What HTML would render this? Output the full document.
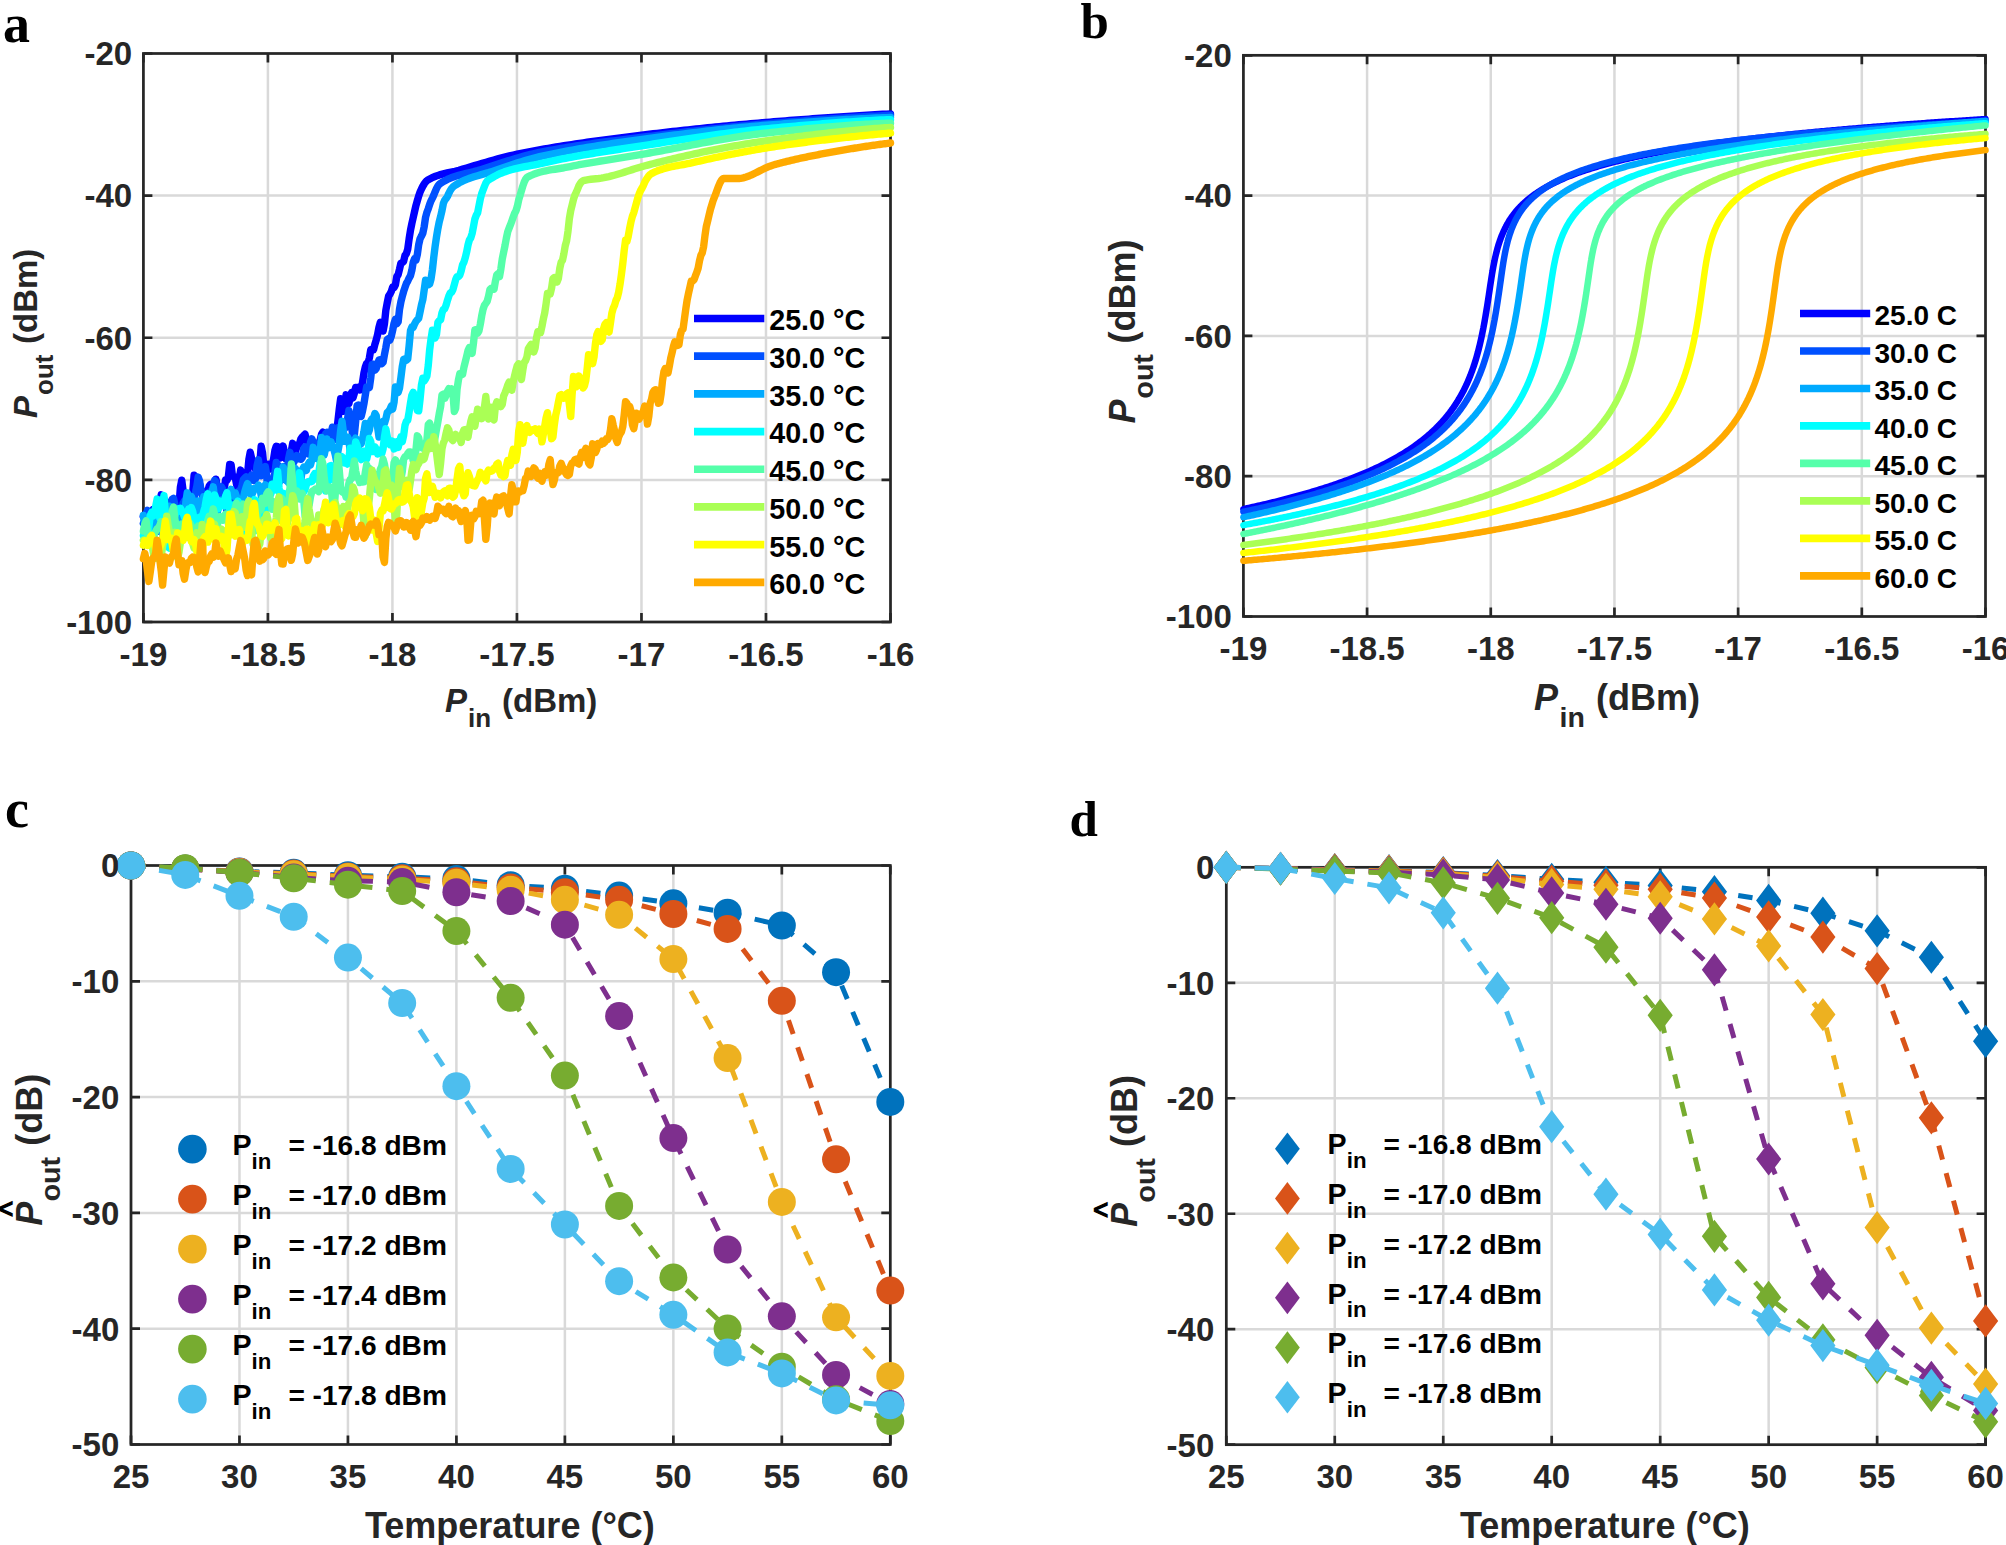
<!DOCTYPE html>
<html><head><meta charset="utf-8"><style>
html,body{margin:0;padding:0;background:#fff;}
svg{display:block;}
text{font-family:'Liberation Sans', Arial, Helvetica, sans-serif;font-weight:bold;}
.t{fill:#262626;}
.k{fill:#000;}
.s{font-family:'Liberation Serif', 'Times New Roman', serif;font-weight:bold;fill:#000;}
</style></head><body>
<svg width="2006" height="1545" viewBox="0 0 2006 1545">
<rect width="2006" height="1545" fill="#fff"/>
<path d="M1243.4 55.3V616.5M1367.08 55.3V616.5M1490.77 55.3V616.5M1614.45 55.3V616.5M1738.13 55.3V616.5M1861.82 55.3V616.5M1985.5 55.3V616.5M1243.4 55.3H1985.5M1243.4 195.6H1985.5M1243.4 335.9H1985.5M1243.4 476.2H1985.5M1243.4 616.5H1985.5" stroke="#d9d9d9" stroke-width="2.5" fill="none"/>
<path d="M1243.4 616.5v-9M1243.4 55.3v9M1367.08 616.5v-9M1367.08 55.3v9M1490.77 616.5v-9M1490.77 55.3v9M1614.45 616.5v-9M1614.45 55.3v9M1738.13 616.5v-9M1738.13 55.3v9M1861.82 616.5v-9M1861.82 55.3v9M1985.5 616.5v-9M1985.5 55.3v9M1243.4 55.3h9M1985.5 55.3h-9M1243.4 195.6h9M1985.5 195.6h-9M1243.4 335.9h9M1985.5 335.9h-9M1243.4 476.2h9M1985.5 476.2h-9M1243.4 616.5h9M1985.5 616.5h-9" stroke="#262626" stroke-width="2.7" fill="none"/>
<rect x="1243.4" y="55.3" width="742.1" height="561.2" stroke="#262626" stroke-width="2.7" fill="none"/>
<path d="M1243.4 509.06 1245.26 508.66 1247.12 508.26 1248.98 507.85 1250.84 507.44 1252.7 507.03 1254.56 506.62 1256.42 506.2 1258.28 505.77 1260.14 505.35 1262 504.92 1263.86 504.48 1265.72 504.05 1267.58 503.61 1269.44 503.16 1271.3 502.71 1273.16 502.26 1275.02 501.8 1276.88 501.34 1278.74 500.88 1280.6 500.41 1282.46 499.94 1284.32 499.46 1286.18 498.98 1288.04 498.49 1289.9 498 1291.76 497.51 1293.62 497.01 1295.48 496.5 1297.34 495.99 1299.2 495.48 1301.06 494.96 1302.92 494.43 1304.78 493.9 1306.64 493.37 1308.5 492.83 1310.36 492.28 1312.22 491.73 1314.08 491.17 1315.94 490.6 1317.8 490.03 1319.66 489.45 1321.52 488.87 1323.38 488.28 1325.24 487.68 1327.1 487.08 1328.96 486.47 1330.82 485.85 1332.68 485.23 1334.54 484.59 1336.39 483.95 1338.25 483.31 1340.11 482.65 1341.97 481.99 1343.83 481.31 1345.69 480.63 1347.55 479.94 1349.41 479.24 1351.27 478.53 1353.13 477.81 1354.99 477.08 1356.85 476.34 1358.71 475.59 1360.57 474.83 1362.43 474.06 1364.29 473.28 1366.15 472.48 1368.01 471.68 1369.87 470.86 1371.73 470.03 1373.59 469.18 1375.45 468.32 1377.31 467.45 1379.17 466.56 1381.03 465.66 1382.89 464.74 1384.75 463.81 1386.61 462.85 1388.47 461.89 1390.33 460.9 1392.19 459.89 1394.05 458.87 1395.91 457.82 1397.77 456.76 1399.63 455.67 1401.49 454.56 1403.35 453.43 1405.21 452.27 1407.07 451.09 1408.93 449.87 1410.79 448.64 1412.65 447.37 1414.51 446.07 1416.37 444.74 1418.23 443.37 1420.09 441.97 1421.95 440.53 1423.81 439.05 1425.67 437.53 1427.53 435.97 1427.99 435.58 1428.61 435.04 1429.23 434.5 1429.39 434.36 1429.85 433.95 1430.48 433.4 1431.1 432.84 1431.25 432.7 1431.72 432.27 1432.34 431.7 1432.96 431.12 1433.11 430.98 1433.58 430.54 1434.2 429.95 1434.83 429.35 1434.97 429.21 1435.45 428.75 1436.07 428.14 1436.69 427.52 1436.83 427.38 1437.31 426.9 1437.93 426.27 1438.56 425.63 1438.69 425.49 1439.18 424.98 1439.8 424.33 1440.42 423.67 1440.55 423.53 1441.04 423 1441.66 422.32 1442.28 421.63 1442.41 421.49 1442.91 420.93 1443.53 420.23 1444.15 419.52 1444.27 419.38 1444.77 418.79 1445.39 418.06 1446.01 417.31 1446.13 417.17 1446.63 416.56 1447.26 415.79 1447.88 415.02 1447.99 414.88 1448.5 414.23 1449.12 413.43 1449.74 412.62 1449.85 412.48 1450.36 411.8 1450.99 410.97 1451.61 410.12 1451.71 409.98 1452.23 409.26 1452.85 408.38 1453.47 407.49 1453.57 407.35 1454.09 406.59 1454.71 405.67 1455.34 404.73 1455.43 404.59 1455.96 403.78 1456.58 402.82 1457.2 401.83 1457.29 401.69 1457.82 400.83 1458.44 399.81 1459.07 398.77 1459.15 398.63 1459.69 397.71 1460.31 396.63 1460.93 395.52 1461.01 395.38 1461.55 394.4 1462.17 393.25 1462.79 392.08 1462.87 391.94 1463.42 390.88 1464.04 389.66 1464.66 388.41 1464.73 388.27 1465.28 387.13 1465.9 385.82 1466.52 384.48 1466.59 384.34 1467.15 383.11 1467.77 381.7 1468.39 380.26 1468.45 380.12 1469.01 378.78 1469.63 377.27 1470.25 375.71 1470.31 375.57 1470.87 374.11 1471.5 372.46 1472.12 370.77 1472.17 370.63 1472.74 369.02 1473.36 367.23 1473.98 365.37 1474.03 365.24 1474.6 363.46 1475.22 361.49 1475.85 359.45 1475.89 359.31 1476.47 357.34 1477.09 355.16 1477.71 352.9 1477.75 352.77 1478.33 350.56 1478.95 348.13 1479.58 345.61 1479.61 345.48 1480.2 343 1480.82 340.28 1481.44 337.46 1481.47 337.33 1482.06 334.52 1482.68 331.47 1483.3 328.3 1483.33 328.19 1483.93 325.01 1484.55 321.6 1485.17 318.06 1485.19 317.96 1485.79 314.4 1486.41 310.63 1487.03 306.75 1487.05 306.66 1487.66 302.77 1488.28 298.72 1488.9 294.61 1488.91 294.55 1489.52 290.46 1490.14 286.3 1490.76 282.18 1490.77 282.16 1491.38 278.15 1492.01 274.28 1492.63 270.59 1492.63 270.58 1493.25 267.09 1493.87 263.81 1494.49 260.75 1494.49 260.73 1495.11 257.84 1495.74 255.13 1496.35 252.63 1496.36 252.59 1496.98 250.2 1497.6 247.95 1498.21 245.87 1498.22 245.82 1498.84 243.81 1499.46 241.91 1500.07 240.16 1500.09 240.1 1500.71 238.39 1501.33 236.75 1501.93 235.24 1501.95 235.18 1502.57 233.68 1503.19 232.25 1503.79 230.94 1503.82 230.87 1504.44 229.55 1505.06 228.28 1505.65 227.12 1505.68 227.05 1506.3 225.87 1506.92 224.73 1507.51 223.69 1507.54 223.63 1508.17 222.56 1508.79 221.52 1509.37 220.59 1509.41 220.52 1510.03 219.54 1510.65 218.6 1511.23 217.75 1511.27 217.68 1511.89 216.78 1512.52 215.91 1513.09 215.14 1513.14 215.07 1513.76 214.24 1514.38 213.43 1514.95 212.72 1515 212.65 1515.62 211.88 1516.25 211.13 1516.81 210.47 1516.87 210.4 1517.49 209.68 1518.11 208.98 1518.67 208.37 1518.73 208.29 1519.35 207.62 1519.97 206.96 1520.53 206.39 1520.6 206.32 1521.22 205.68 1521.84 205.06 1522.38 204.53 1522.46 204.45 1523.08 203.86 1523.7 203.27 1524.24 202.77 1524.33 202.69 1524.95 202.13 1525.57 201.57 1526.1 201.1 1526.19 201.03 1526.81 200.49 1527.43 199.96 1527.96 199.51 1528.05 199.44 1528.68 198.93 1529.3 198.42 1529.82 198 1529.92 197.93 1530.54 197.44 1531.16 196.96 1531.68 196.56 1531.78 196.48 1532.41 196.02 1533.03 195.56 1533.54 195.18 1533.65 195.1 1534.27 194.66 1534.89 194.21 1535.4 193.85 1535.51 193.78 1536.13 193.35 1536.76 192.93 1537.26 192.58 1537.38 192.51 1538 192.09 1538.62 191.69 1539.12 191.36 1539.24 191.28 1539.86 190.89 1540.48 190.5 1540.98 190.18 1541.11 190.11 1541.73 189.72 1542.35 189.35 1542.84 189.05 1542.97 188.97 1543.59 188.6 1544.21 188.24 1544.7 187.95 1544.84 187.88 1545.46 187.52 1546.08 187.17 1546.56 186.89 1546.7 186.82 1547.32 186.47 1547.94 186.13 1548.42 185.87 1548.56 185.79 1549.19 185.46 1549.81 185.13 1550.28 184.87 1550.43 184.8 1551.05 184.47 1551.67 184.15 1552.14 183.91 1554 182.98 1555.86 182.07 1557.72 181.19 1559.58 180.33 1561.44 179.49 1563.3 178.68 1565.16 177.88 1567.02 177.11 1568.88 176.35 1570.74 175.61 1572.6 174.89 1574.46 174.19 1576.32 173.5 1578.18 172.82 1580.04 172.16 1581.9 171.51 1583.76 170.88 1585.62 170.26 1587.48 169.65 1589.34 169.05 1591.2 168.46 1593.06 167.89 1594.92 167.32 1596.78 166.77 1598.64 166.22 1600.5 165.69 1602.36 165.16 1604.22 164.64 1606.08 164.13 1607.94 163.63 1609.8 163.13 1611.66 162.65 1613.52 162.17 1615.38 161.7 1617.24 161.23 1619.1 160.78 1620.96 160.32 1622.82 159.88 1624.68 159.44 1626.54 159.01 1628.4 158.58 1630.26 158.16 1632.12 157.75 1633.98 157.34 1635.84 156.93 1637.7 156.54 1639.56 156.14 1641.42 155.75 1643.28 155.37 1645.14 154.99 1647 154.62 1648.86 154.25 1650.72 153.88 1652.58 153.52 1654.44 153.16 1656.3 152.81 1658.16 152.46 1660.02 152.11 1661.88 151.77 1663.74 151.43 1665.6 151.1 1667.46 150.77 1669.32 150.44 1671.18 150.12 1673.04 149.8 1674.9 149.48 1676.76 149.17 1678.62 148.86 1680.48 148.55 1682.34 148.25 1684.2 147.95 1686.06 147.65 1687.92 147.35 1689.78 147.06 1691.64 146.77 1693.5 146.49 1695.36 146.2 1697.22 145.92 1699.08 145.64 1700.94 145.36 1702.8 145.09 1704.66 144.82 1706.52 144.55 1708.37 144.28 1710.23 144.02 1712.09 143.76 1713.95 143.5 1715.81 143.24 1717.67 142.98 1719.53 142.73 1721.39 142.48 1723.25 142.23 1725.11 141.98 1726.97 141.74 1728.83 141.49 1730.69 141.25 1732.55 141.01 1734.41 140.77 1736.27 140.54 1738.13 140.31 1739.99 140.07 1741.85 139.84 1743.71 139.61 1745.57 139.39 1747.43 139.16 1749.29 138.94 1751.15 138.72 1753.01 138.5 1754.87 138.28 1756.73 138.06 1758.59 137.85 1760.45 137.63 1762.31 137.42 1764.17 137.21 1766.03 137 1767.89 136.79 1769.75 136.59 1771.61 136.38 1773.47 136.18 1775.33 135.98 1777.19 135.78 1779.05 135.58 1780.91 135.38 1782.77 135.18 1784.63 134.99 1786.49 134.79 1788.35 134.6 1790.21 134.41 1792.07 134.22 1793.93 134.03 1795.79 133.84 1797.65 133.65 1799.51 133.47 1801.37 133.28 1803.23 133.1 1805.09 132.92 1806.95 132.73 1808.81 132.55 1810.67 132.38 1812.53 132.2 1814.39 132.02 1816.25 131.84 1818.11 131.67 1819.97 131.5 1821.83 131.32 1823.69 131.15 1825.55 130.98 1827.41 130.81 1829.27 130.64 1831.13 130.47 1832.99 130.31 1834.85 130.14 1836.71 129.98 1838.57 129.81 1840.43 129.65 1842.29 129.49 1844.15 129.33 1846.01 129.17 1847.87 129.01 1849.73 128.85 1851.59 128.69 1853.45 128.53 1855.31 128.38 1857.17 128.22 1859.03 128.07 1860.89 127.91 1862.75 127.76 1864.61 127.61 1866.47 127.46 1868.33 127.31 1870.19 127.16 1872.05 127.01 1873.91 126.86 1875.77 126.71 1877.63 126.57 1879.49 126.42 1881.35 126.28 1883.21 126.13 1885.07 125.99 1886.93 125.84 1888.79 125.7 1890.65 125.56 1892.51 125.42 1894.36 125.28 1896.22 125.14 1898.08 125 1899.94 124.86 1901.8 124.72 1903.66 124.59 1905.52 124.45 1907.38 124.32 1909.24 124.18 1911.1 124.05 1912.96 123.91 1914.82 123.78 1916.68 123.65 1918.54 123.52 1920.4 123.38 1922.26 123.25 1924.12 123.12 1925.98 122.99 1927.84 122.86 1929.7 122.74 1931.56 122.61 1933.42 122.48 1935.28 122.35 1937.14 122.23 1939 122.1 1940.86 121.98 1942.72 121.85 1944.58 121.73 1946.44 121.61 1948.3 121.48 1950.16 121.36 1952.02 121.24 1953.88 121.12 1955.74 121 1957.6 120.88 1959.46 120.76 1961.32 120.64 1963.18 120.52 1965.04 120.4 1966.9 120.28 1968.76 120.17 1970.62 120.05 1972.48 119.93 1974.34 119.82 1976.2 119.7 1978.06 119.59 1979.92 119.47 1981.78 119.36 1983.64 119.25 1985.5 119.13" stroke="#0000ff" stroke-width="6.5" fill="none" stroke-linejoin="round" stroke-linecap="round"/>
<path d="M1243.4 511.79 1245.26 511.4 1247.12 511 1248.98 510.6 1250.84 510.2 1252.7 509.8 1254.56 509.39 1256.42 508.98 1258.28 508.56 1260.14 508.14 1262 507.72 1263.86 507.3 1265.72 506.87 1267.58 506.44 1269.44 506 1271.3 505.57 1273.16 505.12 1275.02 504.68 1276.88 504.23 1278.74 503.77 1280.6 503.31 1282.46 502.85 1284.32 502.39 1286.18 501.92 1288.04 501.44 1289.9 500.96 1291.76 500.48 1293.62 499.99 1295.48 499.5 1297.34 499 1299.2 498.5 1301.06 497.99 1302.92 497.48 1304.78 496.97 1306.64 496.44 1308.5 495.92 1310.36 495.39 1312.22 494.85 1314.08 494.31 1315.94 493.76 1317.8 493.2 1319.66 492.64 1321.52 492.08 1323.38 491.5 1325.24 490.93 1327.1 490.34 1328.96 489.75 1330.82 489.15 1332.68 488.55 1334.54 487.94 1336.39 487.32 1338.25 486.69 1340.11 486.06 1341.97 485.42 1343.83 484.77 1345.69 484.11 1347.55 483.45 1349.41 482.78 1351.27 482.1 1353.13 481.41 1354.99 480.71 1356.85 480 1358.71 479.28 1360.57 478.55 1362.43 477.82 1364.29 477.07 1366.15 476.31 1368.01 475.54 1369.87 474.76 1371.73 473.97 1373.59 473.17 1375.45 472.36 1377.31 471.53 1379.17 470.69 1381.03 469.84 1382.89 468.97 1384.75 468.09 1386.61 467.19 1388.47 466.28 1390.33 465.36 1392.19 464.42 1394.05 463.46 1395.91 462.49 1397.77 461.49 1399.63 460.48 1401.49 459.45 1403.35 458.4 1405.21 457.33 1407.07 456.24 1408.93 455.13 1410.79 453.99 1412.65 452.84 1414.51 451.65 1416.37 450.44 1418.23 449.2 1420.09 447.94 1421.95 446.64 1423.81 445.32 1425.67 443.96 1427.53 442.56 1429.39 441.14 1431.25 439.67 1433.11 438.16 1434.97 436.62 1436.83 435.03 1438.69 433.39 1439.2 432.93 1439.82 432.37 1440.44 431.8 1440.55 431.7 1441.06 431.23 1441.68 430.65 1442.3 430.06 1442.41 429.96 1442.93 429.47 1443.55 428.87 1444.17 428.26 1444.27 428.17 1444.79 427.65 1445.41 427.03 1446.03 426.41 1446.13 426.31 1446.66 425.78 1447.28 425.14 1447.9 424.49 1447.99 424.39 1448.52 423.83 1449.14 423.17 1449.76 422.5 1449.85 422.41 1450.38 421.82 1451.01 421.14 1451.63 420.44 1451.71 420.35 1452.25 419.74 1452.87 419.03 1453.49 418.3 1453.57 418.21 1454.11 417.57 1454.74 416.83 1455.36 416.08 1455.43 416 1455.98 415.32 1456.6 414.55 1457.22 413.77 1457.29 413.69 1457.84 412.98 1458.46 412.18 1459.09 411.36 1459.15 411.28 1459.71 410.54 1460.33 409.7 1460.95 408.85 1461.01 408.77 1461.57 407.98 1462.19 407.1 1462.82 406.21 1462.87 406.14 1463.44 405.31 1464.06 404.39 1464.68 403.45 1464.73 403.38 1465.3 402.5 1465.92 401.54 1466.54 400.56 1466.59 400.49 1467.17 399.56 1467.79 398.54 1468.41 397.5 1468.45 397.44 1469.03 396.45 1469.65 395.38 1470.27 394.28 1470.31 394.22 1470.89 393.17 1471.52 392.03 1472.14 390.87 1472.17 390.81 1472.76 389.69 1473.38 388.48 1474 387.25 1474.03 387.2 1474.62 385.99 1475.25 384.7 1475.87 383.39 1475.89 383.34 1476.49 382.04 1477.11 380.66 1477.73 379.25 1477.75 379.22 1478.35 377.81 1478.97 376.33 1479.6 374.82 1479.61 374.79 1480.22 373.26 1480.84 371.66 1481.46 370.02 1481.47 370 1482.08 368.34 1482.7 366.6 1483.33 364.82 1483.33 364.81 1483.95 362.98 1484.57 361.09 1485.19 359.15 1485.19 359.14 1485.81 357.13 1486.43 355.05 1487.05 352.93 1487.05 352.9 1487.68 350.68 1488.3 348.39 1488.91 346.05 1488.92 346.01 1489.54 343.54 1490.16 340.98 1490.77 338.4 1490.78 338.33 1491.41 335.57 1492.03 332.71 1492.63 329.84 1492.65 329.74 1493.27 326.64 1493.89 323.43 1494.49 320.23 1494.51 320.09 1495.13 316.62 1495.76 313.02 1496.35 309.48 1496.38 309.29 1497 305.44 1497.62 301.46 1498.21 297.61 1498.24 297.37 1498.86 293.18 1499.48 288.91 1500.07 284.86 1500.11 284.58 1500.73 280.2 1501.35 275.82 1501.93 271.8 1501.97 271.49 1502.59 267.28 1503.21 263.28 1503.79 259.8 1503.84 259.5 1504.46 255.98 1505.08 252.7 1505.65 249.91 1505.7 249.65 1506.32 246.83 1506.94 244.19 1507.51 241.96 1507.56 241.74 1508.19 239.44 1508.81 237.29 1509.37 235.47 1509.43 235.27 1510.05 233.37 1510.67 231.57 1511.23 230.05 1511.29 229.87 1511.92 228.25 1512.54 226.71 1513.09 225.41 1513.16 225.24 1513.78 223.84 1514.4 222.5 1514.95 221.38 1515.02 221.22 1515.64 219.99 1516.27 218.8 1516.81 217.81 1516.89 217.66 1517.51 216.56 1518.13 215.5 1518.67 214.62 1518.75 214.48 1519.37 213.49 1520 212.53 1520.53 211.73 1520.62 211.6 1521.24 210.69 1521.86 209.82 1522.38 209.1 1522.48 208.97 1523.1 208.14 1523.72 207.34 1524.24 206.68 1524.35 206.55 1524.97 205.79 1525.59 205.05 1526.1 204.44 1526.21 204.32 1526.83 203.61 1527.45 202.92 1527.96 202.37 1528.08 202.25 1528.7 201.59 1529.32 200.94 1529.82 200.42 1529.94 200.31 1530.56 199.69 1531.18 199.08 1531.68 198.6 1531.8 198.49 1532.43 197.91 1533.05 197.33 1533.54 196.89 1533.67 196.77 1534.29 196.22 1534.91 195.69 1535.4 195.27 1535.53 195.16 1536.15 194.64 1536.78 194.12 1537.26 193.73 1537.4 193.62 1538.02 193.13 1538.64 192.64 1539.12 192.27 1539.26 192.17 1539.88 191.7 1540.51 191.23 1540.98 190.88 1541.13 190.78 1541.75 190.33 1542.37 189.89 1542.84 189.56 1542.99 189.45 1543.61 189.03 1544.23 188.6 1544.7 188.29 1544.86 188.19 1545.48 187.78 1546.1 187.37 1546.56 187.08 1546.72 186.98 1547.34 186.58 1547.96 186.19 1548.42 185.91 1548.59 185.81 1549.21 185.43 1549.83 185.06 1550.28 184.79 1550.45 184.69 1551.07 184.33 1551.69 183.97 1552.14 183.71 1552.31 183.62 1552.94 183.27 1553.56 182.92 1554 182.67 1554.18 182.58 1554.8 182.24 1555.42 181.91 1555.86 181.67 1556.04 181.58 1556.67 181.25 1557.29 180.93 1557.72 180.7 1557.91 180.61 1558.53 180.29 1559.15 179.98 1559.58 179.77 1559.77 179.67 1560.39 179.37 1561.02 179.06 1561.44 178.86 1561.64 178.76 1562.26 178.47 1562.88 178.18 1563.3 177.98 1565.16 177.13 1567.02 176.3 1568.88 175.49 1570.74 174.71 1572.6 173.95 1574.46 173.21 1576.32 172.48 1578.18 171.78 1580.04 171.09 1581.9 170.42 1583.76 169.77 1585.62 169.13 1587.48 168.5 1589.34 167.89 1591.2 167.29 1593.06 166.7 1594.92 166.13 1596.78 165.56 1598.64 165.01 1600.5 164.47 1602.36 163.94 1604.22 163.42 1606.08 162.91 1607.94 162.41 1609.8 161.92 1611.66 161.43 1613.52 160.96 1615.38 160.49 1617.24 160.03 1619.1 159.58 1620.96 159.13 1622.82 158.69 1624.68 158.26 1626.54 157.84 1628.4 157.42 1630.26 157.01 1632.12 156.61 1633.98 156.21 1635.84 155.81 1637.7 155.43 1639.56 155.04 1641.42 154.67 1643.28 154.29 1645.14 153.93 1647 153.57 1648.86 153.21 1650.72 152.86 1652.58 152.51 1654.44 152.17 1656.3 151.83 1658.16 151.49 1660.02 151.16 1661.88 150.84 1663.74 150.52 1665.6 150.2 1667.46 149.88 1669.32 149.57 1671.18 149.27 1673.04 148.96 1674.9 148.66 1676.76 148.36 1678.62 148.07 1680.48 147.78 1682.34 147.49 1684.2 147.21 1686.06 146.93 1687.92 146.65 1689.78 146.38 1691.64 146.1 1693.5 145.84 1695.36 145.57 1697.22 145.31 1699.08 145.04 1700.94 144.79 1702.8 144.53 1704.66 144.28 1706.52 144.03 1708.37 143.78 1710.23 143.53 1712.09 143.29 1713.95 143.05 1715.81 142.81 1717.67 142.57 1719.53 142.34 1721.39 142.1 1723.25 141.87 1725.11 141.64 1726.97 141.42 1728.83 141.19 1730.69 140.97 1732.55 140.75 1734.41 140.53 1736.27 140.32 1738.13 140.1 1739.99 139.89 1741.85 139.68 1743.71 139.47 1745.57 139.26 1747.43 139.06 1749.29 138.85 1751.15 138.65 1753.01 138.45 1754.87 138.25 1756.73 138.05 1758.59 137.86 1760.45 137.66 1762.31 137.47 1764.17 137.28 1766.03 137.09 1767.89 136.9 1769.75 136.71 1771.61 136.52 1773.47 136.34 1775.33 136.16 1777.19 135.98 1779.05 135.8 1780.91 135.62 1782.77 135.44 1784.63 135.26 1786.49 135.09 1788.35 134.91 1790.21 134.74 1792.07 134.57 1793.93 134.4 1795.79 134.23 1797.65 134.06 1799.51 133.9 1801.37 133.73 1803.23 133.57 1805.09 133.41 1806.95 133.24 1808.81 133.08 1810.67 132.92 1812.53 132.76 1814.39 132.61 1816.25 132.45 1818.11 132.29 1819.97 132.14 1821.83 131.99 1823.69 131.83 1825.55 131.68 1827.41 131.53 1829.27 131.38 1831.13 131.23 1832.99 131.09 1834.85 130.94 1836.71 130.79 1838.57 130.65 1840.43 130.5 1842.29 130.36 1844.15 130.22 1846.01 130.08 1847.87 129.94 1849.73 129.8 1851.59 129.66 1853.45 129.52 1855.31 129.38 1857.17 129.25 1859.03 129.11 1860.89 128.98 1862.75 128.84 1864.61 128.71 1866.47 128.58 1868.33 128.45 1870.19 128.32 1872.05 128.19 1873.91 128.06 1875.77 127.93 1877.63 127.8 1879.49 127.67 1881.35 127.55 1883.21 127.42 1885.07 127.3 1886.93 127.17 1888.79 127.05 1890.65 126.92 1892.51 126.8 1894.36 126.68 1896.22 126.56 1898.08 126.44 1899.94 126.32 1901.8 126.2 1903.66 126.08 1905.52 125.96 1907.38 125.85 1909.24 125.73 1911.1 125.62 1912.96 125.5 1914.82 125.39 1916.68 125.27 1918.54 125.16 1920.4 125.05 1922.26 124.93 1924.12 124.82 1925.98 124.71 1927.84 124.6 1929.7 124.49 1931.56 124.38 1933.42 124.27 1935.28 124.16 1937.14 124.06 1939 123.95 1940.86 123.84 1942.72 123.74 1944.58 123.63 1946.44 123.52 1948.3 123.42 1950.16 123.32 1952.02 123.21 1953.88 123.11 1955.74 123.01 1957.6 122.9 1959.46 122.8 1961.32 122.7 1963.18 122.6 1965.04 122.5 1966.9 122.4 1968.76 122.3 1970.62 122.2 1972.48 122.11 1974.34 122.01 1976.2 121.91 1978.06 121.81 1979.92 121.72 1981.78 121.62 1983.64 121.53 1985.5 121.43" stroke="#0050ff" stroke-width="6.5" fill="none" stroke-linejoin="round" stroke-linecap="round"/>
<path d="M1243.4 517.24 1245.26 516.84 1247.12 516.43 1248.98 516.03 1250.84 515.62 1252.7 515.21 1254.56 514.79 1256.42 514.38 1258.28 513.96 1260.14 513.54 1262 513.11 1263.86 512.69 1265.72 512.26 1267.58 511.82 1269.44 511.39 1271.3 510.95 1273.16 510.51 1275.02 510.06 1276.88 509.61 1278.74 509.16 1280.6 508.71 1282.46 508.25 1284.32 507.79 1286.18 507.32 1288.04 506.85 1289.9 506.38 1291.76 505.9 1293.62 505.43 1295.48 504.94 1297.34 504.46 1299.2 503.96 1301.06 503.47 1302.92 502.97 1304.78 502.47 1306.64 501.96 1308.5 501.45 1310.36 500.94 1312.22 500.42 1314.08 499.89 1315.94 499.37 1317.8 498.83 1319.66 498.3 1321.52 497.75 1323.38 497.21 1325.24 496.66 1327.1 496.1 1328.96 495.54 1330.82 494.97 1332.68 494.4 1334.54 493.82 1336.39 493.24 1338.25 492.65 1340.11 492.06 1341.97 491.46 1343.83 490.85 1345.69 490.24 1347.55 489.62 1349.41 488.99 1351.27 488.36 1353.13 487.73 1354.99 487.08 1356.85 486.43 1358.71 485.77 1360.57 485.1 1362.43 484.43 1364.29 483.75 1366.15 483.06 1368.01 482.37 1369.87 481.66 1371.73 480.95 1373.59 480.23 1375.45 479.5 1377.31 478.76 1379.17 478.01 1381.03 477.25 1382.89 476.48 1384.75 475.71 1386.61 474.92 1388.47 474.12 1390.33 473.31 1392.19 472.49 1394.05 471.66 1395.91 470.82 1397.77 469.96 1399.63 469.1 1401.49 468.22 1403.35 467.32 1405.21 466.41 1407.07 465.49 1408.93 464.56 1410.79 463.61 1412.65 462.64 1414.51 461.66 1416.37 460.66 1418.23 459.64 1420.09 458.61 1421.95 457.55 1423.81 456.48 1425.67 455.39 1427.53 454.28 1429.39 453.15 1431.25 451.99 1433.11 450.81 1434.97 449.61 1436.83 448.38 1438.69 447.12 1440.55 445.84 1442.41 444.53 1444.27 443.19 1446.13 441.82 1447.99 440.41 1449.85 438.97 1451.71 437.49 1453.57 435.98 1455.43 434.42 1457.29 432.82 1459.15 431.18 1460.15 430.28 1460.77 429.71 1461.01 429.49 1461.39 429.13 1462.01 428.55 1462.64 427.97 1462.87 427.75 1463.26 427.38 1463.88 426.78 1464.5 426.17 1464.73 425.95 1465.12 425.56 1465.74 424.95 1466.36 424.32 1466.59 424.1 1466.99 423.69 1467.61 423.06 1468.23 422.41 1468.45 422.18 1468.85 421.76 1469.47 421.1 1470.09 420.43 1470.31 420.2 1470.72 419.76 1471.34 419.08 1471.96 418.39 1472.17 418.15 1472.58 417.69 1473.2 416.98 1473.82 416.27 1474.03 416.03 1474.44 415.54 1475.07 414.81 1475.69 414.06 1475.89 413.82 1476.31 413.31 1476.93 412.55 1477.55 411.78 1477.75 411.53 1478.17 410.99 1478.79 410.2 1479.42 409.39 1479.61 409.14 1480.04 408.58 1480.66 407.75 1481.28 406.91 1481.47 406.66 1481.9 406.06 1482.52 405.19 1483.15 404.32 1483.33 404.06 1483.77 403.42 1484.39 402.52 1485.01 401.6 1485.19 401.34 1485.63 400.67 1486.25 399.72 1486.87 398.75 1487.05 398.48 1487.5 397.77 1488.12 396.77 1488.74 395.76 1488.91 395.48 1489.36 394.72 1489.98 393.67 1490.6 392.6 1490.77 392.32 1491.23 391.51 1491.85 390.4 1492.47 389.26 1492.63 388.97 1493.09 388.11 1493.71 386.93 1494.33 385.73 1494.49 385.43 1494.95 384.5 1495.58 383.25 1496.2 381.97 1496.35 381.65 1496.82 380.66 1497.44 379.32 1498.06 377.95 1498.21 377.63 1498.68 376.55 1499.31 375.11 1499.93 373.64 1500.07 373.31 1500.55 372.14 1501.17 370.59 1501.79 369 1501.93 368.66 1502.41 367.38 1503.03 365.7 1503.66 363.98 1503.79 363.62 1504.28 362.21 1504.9 360.39 1505.52 358.52 1505.65 358.13 1506.14 356.58 1506.76 354.59 1507.39 352.53 1507.51 352.12 1508.01 350.4 1508.63 348.2 1509.25 345.93 1509.37 345.5 1509.87 343.57 1510.49 341.13 1511.11 338.6 1511.23 338.14 1511.74 335.98 1512.36 333.25 1512.98 330.42 1513.09 329.93 1513.6 327.48 1514.22 324.42 1514.84 321.25 1514.95 320.72 1515.46 317.95 1516.09 314.52 1516.71 310.97 1516.81 310.4 1517.33 307.28 1517.95 303.48 1518.57 299.55 1518.67 298.95 1519.19 295.51 1519.82 291.38 1520.44 287.16 1520.53 286.56 1521.06 282.88 1521.68 278.57 1522.3 274.24 1522.38 273.66 1522.92 269.97 1523.54 265.85 1524.17 261.94 1524.24 261.46 1524.79 258.28 1525.41 254.89 1526.03 251.74 1526.1 251.39 1526.65 248.84 1527.27 246.16 1527.9 243.66 1527.96 243.4 1528.52 241.35 1529.14 239.19 1529.76 237.17 1529.82 236.97 1530.38 235.27 1531 233.49 1531.62 231.8 1531.68 231.64 1532.25 230.21 1532.87 228.69 1533.49 227.25 1533.54 227.13 1534.11 225.88 1534.73 224.57 1535.35 223.32 1535.4 223.22 1535.98 222.12 1536.6 220.97 1537.22 219.86 1537.26 219.78 1537.84 218.79 1538.46 217.76 1539.08 216.77 1539.12 216.71 1539.7 215.81 1540.33 214.88 1540.95 213.99 1540.98 213.93 1541.57 213.11 1542.19 212.27 1542.81 211.45 1542.84 211.41 1543.43 210.65 1544.05 209.88 1544.68 209.12 1544.7 209.09 1545.3 208.38 1545.92 207.67 1546.54 206.97 1546.56 206.94 1547.16 206.29 1547.78 205.62 1548.41 204.97 1548.42 204.95 1549.03 204.33 1549.65 203.71 1550.27 203.1 1550.28 203.09 1550.89 202.51 1551.51 201.92 1552.13 201.35 1552.14 201.34 1552.76 200.79 1553.38 200.24 1554 199.7 1554 199.7 1554.62 199.17 1555.24 198.65 1555.86 198.14 1555.86 198.14 1556.49 197.64 1557.11 197.14 1557.72 196.66 1557.73 196.66 1558.35 196.18 1558.97 195.72 1559.58 195.26 1559.59 195.25 1560.21 194.8 1560.84 194.35 1561.44 193.93 1561.46 193.91 1562.08 193.48 1562.7 193.06 1563.3 192.65 1563.32 192.64 1563.94 192.22 1564.57 191.81 1565.16 191.43 1565.19 191.41 1565.81 191.01 1566.43 190.62 1567.02 190.25 1567.05 190.24 1567.67 189.86 1568.29 189.48 1568.88 189.13 1568.92 189.11 1569.54 188.74 1570.16 188.38 1570.74 188.04 1570.78 188.02 1571.4 187.67 1572.02 187.32 1572.6 187 1572.65 186.98 1573.27 186.64 1573.89 186.3 1574.46 185.99 1574.51 185.97 1575.13 185.64 1575.75 185.31 1576.32 185.02 1576.37 184.99 1577 184.67 1577.62 184.36 1578.18 184.08 1578.24 184.05 1578.86 183.74 1579.48 183.44 1580.04 183.16 1580.1 183.13 1580.72 182.84 1581.35 182.54 1581.9 182.28 1581.97 182.25 1582.59 181.96 1583.21 181.67 1583.76 181.42 1583.83 181.39 1585.62 180.59 1587.48 179.78 1589.34 178.99 1591.2 178.22 1593.06 177.47 1594.92 176.74 1596.78 176.03 1598.64 175.33 1600.5 174.66 1602.36 173.99 1604.22 173.34 1606.08 172.71 1607.94 172.08 1609.8 171.47 1611.66 170.88 1613.52 170.29 1615.38 169.72 1617.24 169.15 1619.1 168.6 1620.96 168.06 1622.82 167.52 1624.68 167 1626.54 166.48 1628.4 165.98 1630.26 165.48 1632.12 164.99 1633.98 164.51 1635.84 164.03 1637.7 163.56 1639.56 163.1 1641.42 162.65 1643.28 162.2 1645.14 161.76 1647 161.32 1648.86 160.9 1650.72 160.47 1652.58 160.05 1654.44 159.64 1656.3 159.24 1658.16 158.84 1660.02 158.44 1661.88 158.05 1663.74 157.66 1665.6 157.28 1667.46 156.9 1669.32 156.53 1671.18 156.16 1673.04 155.8 1674.9 155.44 1676.76 155.08 1678.62 154.73 1680.48 154.38 1682.34 154.04 1684.2 153.7 1686.06 153.36 1687.92 153.03 1689.78 152.7 1691.64 152.37 1693.5 152.05 1695.36 151.73 1697.22 151.41 1699.08 151.1 1700.94 150.78 1702.8 150.48 1704.66 150.17 1706.52 149.87 1708.37 149.57 1710.23 149.27 1712.09 148.98 1713.95 148.69 1715.81 148.4 1717.67 148.11 1719.53 147.83 1721.39 147.54 1723.25 147.27 1725.11 146.99 1726.97 146.71 1728.83 146.44 1730.69 146.17 1732.55 145.9 1734.41 145.64 1736.27 145.37 1738.13 145.11 1739.99 144.85 1741.85 144.59 1743.71 144.34 1745.57 144.08 1747.43 143.83 1749.29 143.58 1751.15 143.33 1753.01 143.09 1754.87 142.84 1756.73 142.6 1758.59 142.36 1760.45 142.12 1762.31 141.88 1764.17 141.64 1766.03 141.41 1767.89 141.17 1769.75 140.94 1771.61 140.71 1773.47 140.48 1775.33 140.26 1777.19 140.03 1779.05 139.81 1780.91 139.58 1782.77 139.36 1784.63 139.14 1786.49 138.92 1788.35 138.71 1790.21 138.49 1792.07 138.28 1793.93 138.06 1795.79 137.85 1797.65 137.64 1799.51 137.43 1801.37 137.22 1803.23 137.01 1805.09 136.81 1806.95 136.6 1808.81 136.4 1810.67 136.2 1812.53 136 1814.39 135.8 1816.25 135.6 1818.11 135.4 1819.97 135.2 1821.83 135.01 1823.69 134.81 1825.55 134.62 1827.41 134.43 1829.27 134.23 1831.13 134.04 1832.99 133.85 1834.85 133.66 1836.71 133.48 1838.57 133.29 1840.43 133.1 1842.29 132.92 1844.15 132.73 1846.01 132.55 1847.87 132.37 1849.73 132.19 1851.59 132.01 1853.45 131.83 1855.31 131.65 1857.17 131.47 1859.03 131.29 1860.89 131.12 1862.75 130.94 1864.61 130.77 1866.47 130.59 1868.33 130.42 1870.19 130.25 1872.05 130.08 1873.91 129.91 1875.77 129.74 1877.63 129.57 1879.49 129.4 1881.35 129.23 1883.21 129.06 1885.07 128.9 1886.93 128.73 1888.79 128.57 1890.65 128.4 1892.51 128.24 1894.36 128.08 1896.22 127.92 1898.08 127.75 1899.94 127.59 1901.8 127.43 1903.66 127.27 1905.52 127.11 1907.38 126.96 1909.24 126.8 1911.1 126.64 1912.96 126.49 1914.82 126.33 1916.68 126.18 1918.54 126.02 1920.4 125.87 1922.26 125.71 1924.12 125.56 1925.98 125.41 1927.84 125.26 1929.7 125.11 1931.56 124.96 1933.42 124.81 1935.28 124.66 1937.14 124.51 1939 124.36 1940.86 124.21 1942.72 124.07 1944.58 123.92 1946.44 123.77 1948.3 123.63 1950.16 123.48 1952.02 123.34 1953.88 123.2 1955.74 123.05 1957.6 122.91 1959.46 122.77 1961.32 122.63 1963.18 122.48 1965.04 122.34 1966.9 122.2 1968.76 122.06 1970.62 121.92 1972.48 121.78 1974.34 121.65 1976.2 121.51 1978.06 121.37 1979.92 121.23 1981.78 121.1 1983.64 120.96 1985.5 120.82" stroke="#00aaff" stroke-width="6.5" fill="none" stroke-linejoin="round" stroke-linecap="round"/>
<path d="M1243.4 525.09 1245.26 524.75 1247.12 524.42 1248.98 524.08 1250.84 523.74 1252.7 523.39 1254.56 523.05 1256.42 522.7 1258.28 522.35 1260.14 522 1262 521.65 1263.86 521.29 1265.72 520.93 1267.58 520.57 1269.44 520.21 1271.3 519.85 1273.16 519.48 1275.02 519.11 1276.88 518.74 1278.74 518.36 1280.6 517.98 1282.46 517.6 1284.32 517.22 1286.18 516.84 1288.04 516.45 1289.9 516.06 1291.76 515.66 1293.62 515.27 1295.48 514.87 1297.34 514.47 1299.2 514.06 1301.06 513.65 1302.92 513.24 1304.78 512.83 1306.64 512.41 1308.5 511.99 1310.36 511.57 1312.22 511.14 1314.08 510.71 1315.94 510.28 1317.8 509.84 1319.66 509.4 1321.52 508.95 1323.38 508.51 1325.24 508.06 1327.1 507.6 1328.96 507.14 1330.82 506.68 1332.68 506.21 1334.54 505.74 1336.39 505.27 1338.25 504.79 1340.11 504.31 1341.97 503.82 1343.83 503.33 1345.69 502.83 1347.55 502.33 1349.41 501.83 1351.27 501.32 1353.13 500.8 1354.99 500.28 1356.85 499.76 1358.71 499.23 1360.57 498.7 1362.43 498.16 1364.29 497.61 1366.15 497.06 1368.01 496.51 1369.87 495.95 1371.73 495.38 1373.59 494.81 1375.45 494.23 1377.31 493.64 1379.17 493.05 1381.03 492.45 1382.89 491.85 1384.75 491.24 1386.61 490.62 1388.47 489.99 1390.33 489.36 1392.19 488.72 1394.05 488.08 1395.91 487.42 1397.77 486.76 1399.63 486.09 1401.49 485.41 1403.35 484.72 1405.21 484.03 1407.07 483.32 1408.93 482.61 1410.79 481.88 1412.65 481.15 1414.51 480.41 1416.37 479.66 1418.23 478.89 1420.09 478.12 1421.95 477.33 1423.81 476.54 1425.67 475.73 1427.53 474.91 1429.39 474.07 1431.25 473.23 1433.11 472.37 1434.97 471.5 1436.83 470.61 1438.69 469.71 1440.55 468.79 1442.41 467.86 1444.27 466.91 1446.13 465.95 1447.99 464.97 1449.85 463.97 1451.71 462.95 1453.57 461.92 1455.43 460.86 1457.29 459.78 1459.15 458.68 1461.01 457.56 1462.87 456.42 1464.73 455.25 1466.59 454.05 1468.45 452.83 1470.31 451.58 1472.17 450.3 1474.03 449 1475.89 447.66 1477.75 446.28 1479.61 444.87 1481.47 443.43 1483.33 441.94 1485.19 440.42 1487.05 438.85 1488.42 437.66 1488.91 437.23 1489.04 437.11 1489.66 436.56 1490.29 436 1490.77 435.57 1490.91 435.44 1491.53 434.87 1492.15 434.3 1492.63 433.85 1492.77 433.72 1493.39 433.13 1494.01 432.54 1494.49 432.08 1494.64 431.94 1495.26 431.33 1495.88 430.72 1496.35 430.25 1496.5 430.1 1497.12 429.47 1497.74 428.84 1498.21 428.36 1498.37 428.19 1498.99 427.55 1499.61 426.89 1500.07 426.4 1500.23 426.22 1500.85 425.55 1501.47 424.87 1501.93 424.37 1502.09 424.18 1502.72 423.48 1503.34 422.78 1503.79 422.26 1503.96 422.06 1504.58 421.33 1505.2 420.6 1505.65 420.07 1505.82 419.85 1506.45 419.1 1507.07 418.33 1507.51 417.79 1507.69 417.56 1508.31 416.77 1508.93 415.97 1509.37 415.4 1509.55 415.16 1510.17 414.34 1510.8 413.5 1511.23 412.92 1511.42 412.66 1512.04 411.8 1512.66 410.92 1513.09 410.32 1513.28 410.03 1513.9 409.13 1514.52 408.21 1514.95 407.59 1515.15 407.28 1515.77 406.33 1516.39 405.37 1516.81 404.72 1517.01 404.39 1517.63 403.39 1518.25 402.37 1518.67 401.69 1518.88 401.34 1519.5 400.28 1520.12 399.21 1520.53 398.49 1520.74 398.11 1521.36 396.99 1521.98 395.85 1522.38 395.1 1522.6 394.69 1523.23 393.5 1523.85 392.29 1524.24 391.5 1524.47 391.05 1525.09 389.78 1525.71 388.49 1526.1 387.65 1526.33 387.16 1526.96 385.81 1527.58 384.42 1527.96 383.53 1528.2 382.99 1528.82 381.53 1529.44 380.04 1529.82 379.09 1530.06 378.5 1530.68 376.92 1531.31 375.3 1531.68 374.29 1531.93 373.63 1532.55 371.92 1533.17 370.15 1533.54 369.07 1533.79 368.33 1534.41 366.46 1535.04 364.52 1535.4 363.35 1535.66 362.53 1536.28 360.46 1536.9 358.33 1537.26 357.04 1537.52 356.12 1538.14 353.84 1538.76 351.47 1539.12 350.06 1539.39 349.01 1540.01 346.46 1540.63 343.82 1540.98 342.26 1541.25 341.07 1541.87 338.21 1542.49 335.24 1542.84 333.52 1543.12 332.16 1543.74 328.95 1544.36 325.63 1544.7 323.72 1544.98 322.17 1545.6 318.59 1546.22 314.89 1546.56 312.81 1546.84 311.08 1547.47 307.15 1548.09 303.14 1548.42 300.93 1548.71 299.04 1549.33 294.88 1549.95 290.69 1550.28 288.45 1550.57 286.49 1551.19 282.32 1551.82 278.26 1552.14 276.18 1552.44 274.35 1553.06 270.65 1553.68 267.15 1554 265.42 1554.3 263.87 1554.92 260.8 1555.55 257.92 1555.86 256.53 1556.17 255.23 1556.79 252.71 1557.41 250.35 1557.72 249.21 1558.03 248.12 1558.65 246.02 1559.27 244.04 1559.58 243.09 1559.9 242.16 1560.52 240.38 1561.14 238.68 1561.44 237.88 1561.76 237.07 1562.38 235.53 1563 234.05 1563.3 233.36 1563.63 232.64 1564.25 231.28 1564.87 229.98 1565.16 229.38 1565.49 228.73 1566.11 227.52 1566.73 226.36 1567.02 225.83 1567.35 225.23 1567.98 224.15 1568.6 223.1 1568.88 222.63 1569.22 222.08 1569.84 221.09 1570.46 220.13 1570.74 219.71 1571.08 219.2 1571.71 218.3 1572.33 217.42 1572.6 217.03 1572.95 216.56 1573.57 215.73 1574.19 214.91 1574.46 214.56 1574.81 214.12 1575.43 213.34 1576.06 212.59 1576.32 212.27 1576.68 211.85 1577.3 211.13 1577.92 210.42 1578.18 210.13 1578.54 209.73 1579.16 209.06 1579.78 208.39 1580.04 208.12 1580.41 207.74 1581.03 207.11 1581.65 206.49 1581.9 206.24 1582.27 205.87 1582.89 205.27 1583.51 204.69 1583.76 204.45 1584.14 204.11 1584.76 203.54 1585.38 202.98 1585.62 202.77 1586 202.43 1586.62 201.89 1587.24 201.36 1587.48 201.16 1587.86 200.84 1588.49 200.33 1589.11 199.82 1589.34 199.64 1589.73 199.33 1590.35 198.84 1590.97 198.36 1591.2 198.18 1591.59 197.88 1592.22 197.41 1592.84 196.95 1593.06 196.79 1593.46 196.5 1594.08 196.05 1594.7 195.61 1594.92 195.45 1595.32 195.17 1595.94 194.74 1596.57 194.32 1596.78 194.17 1597.19 193.9 1597.81 193.49 1598.43 193.08 1598.64 192.94 1599.05 192.68 1599.67 192.28 1600.3 191.89 1600.5 191.76 1600.92 191.5 1601.54 191.12 1602.16 190.74 1602.36 190.62 1602.78 190.36 1603.4 189.99 1604.02 189.63 1604.22 189.51 1604.65 189.27 1605.27 188.91 1605.89 188.56 1606.08 188.45 1606.51 188.21 1607.13 187.86 1607.75 187.52 1607.94 187.42 1608.38 187.18 1609 186.85 1609.62 186.51 1609.8 186.42 1610.24 186.19 1610.86 185.86 1611.48 185.54 1611.66 185.45 1612.1 185.22 1613.52 184.51 1615.38 183.6 1617.24 182.71 1619.1 181.85 1620.96 181.01 1622.82 180.19 1624.68 179.39 1626.54 178.61 1628.4 177.85 1630.26 177.11 1632.12 176.38 1633.98 175.67 1635.84 174.98 1637.7 174.3 1639.56 173.64 1641.42 172.99 1643.28 172.35 1645.14 171.72 1647 171.11 1648.86 170.51 1650.72 169.92 1652.58 169.34 1654.44 168.77 1656.3 168.21 1658.16 167.66 1660.02 167.12 1661.88 166.58 1663.74 166.06 1665.6 165.55 1667.46 165.04 1669.32 164.54 1671.18 164.05 1673.04 163.57 1674.9 163.09 1676.76 162.62 1678.62 162.16 1680.48 161.7 1682.34 161.26 1684.2 160.81 1686.06 160.37 1687.92 159.94 1689.78 159.52 1691.64 159.1 1693.5 158.68 1695.36 158.27 1697.22 157.87 1699.08 157.47 1700.94 157.08 1702.8 156.69 1704.66 156.3 1706.52 155.92 1708.37 155.55 1710.23 155.18 1712.09 154.81 1713.95 154.45 1715.81 154.09 1717.67 153.73 1719.53 153.38 1721.39 153.03 1723.25 152.69 1725.11 152.35 1726.97 152.01 1728.83 151.68 1730.69 151.35 1732.55 151.03 1734.41 150.7 1736.27 150.38 1738.13 150.07 1739.99 149.75 1741.85 149.44 1743.71 149.14 1745.57 148.83 1747.43 148.53 1749.29 148.23 1751.15 147.94 1753.01 147.64 1754.87 147.35 1756.73 147.06 1758.59 146.78 1760.45 146.49 1762.31 146.21 1764.17 145.94 1766.03 145.66 1767.89 145.39 1769.75 145.11 1771.61 144.85 1773.47 144.58 1775.33 144.31 1777.19 144.05 1779.05 143.79 1780.91 143.53 1782.77 143.28 1784.63 143.02 1786.49 142.77 1788.35 142.52 1790.21 142.27 1792.07 142.03 1793.93 141.78 1795.79 141.54 1797.65 141.3 1799.51 141.06 1801.37 140.82 1803.23 140.59 1805.09 140.35 1806.95 140.12 1808.81 139.89 1810.67 139.66 1812.53 139.43 1814.39 139.21 1816.25 138.98 1818.11 138.76 1819.97 138.54 1821.83 138.32 1823.69 138.1 1825.55 137.88 1827.41 137.67 1829.27 137.45 1831.13 137.24 1832.99 137.03 1834.85 136.82 1836.71 136.61 1838.57 136.4 1840.43 136.2 1842.29 135.99 1844.15 135.79 1846.01 135.59 1847.87 135.39 1849.73 135.19 1851.59 134.99 1853.45 134.79 1855.31 134.6 1857.17 134.4 1859.03 134.21 1860.89 134.02 1862.75 133.82 1864.61 133.63 1866.47 133.44 1868.33 133.26 1870.19 133.07 1872.05 132.88 1873.91 132.7 1875.77 132.52 1877.63 132.33 1879.49 132.15 1881.35 131.97 1883.21 131.79 1885.07 131.61 1886.93 131.43 1888.79 131.26 1890.65 131.08 1892.51 130.91 1894.36 130.73 1896.22 130.56 1898.08 130.39 1899.94 130.21 1901.8 130.04 1903.66 129.87 1905.52 129.71 1907.38 129.54 1909.24 129.37 1911.1 129.2 1912.96 129.04 1914.82 128.87 1916.68 128.71 1918.54 128.55 1920.4 128.39 1922.26 128.23 1924.12 128.06 1925.98 127.9 1927.84 127.75 1929.7 127.59 1931.56 127.43 1933.42 127.27 1935.28 127.12 1937.14 126.96 1939 126.81 1940.86 126.65 1942.72 126.5 1944.58 126.35 1946.44 126.2 1948.3 126.05 1950.16 125.9 1952.02 125.75 1953.88 125.6 1955.74 125.45 1957.6 125.3 1959.46 125.15 1961.32 125.01 1963.18 124.86 1965.04 124.72 1966.9 124.57 1968.76 124.43 1970.62 124.29 1972.48 124.14 1974.34 124 1976.2 123.86 1978.06 123.72 1979.92 123.58 1981.78 123.44 1983.64 123.3 1985.5 123.16" stroke="#00ffff" stroke-width="6.5" fill="none" stroke-linejoin="round" stroke-linecap="round"/>
<path d="M1243.4 533.99 1245.26 533.63 1247.12 533.26 1248.98 532.9 1250.84 532.53 1252.7 532.16 1254.56 531.79 1256.42 531.41 1258.28 531.04 1260.14 530.66 1262 530.28 1263.86 529.9 1265.72 529.52 1267.58 529.14 1269.44 528.75 1271.3 528.37 1273.16 527.98 1275.02 527.58 1276.88 527.19 1278.74 526.8 1280.6 526.4 1282.46 526 1284.32 525.6 1286.18 525.2 1288.04 524.79 1289.9 524.38 1291.76 523.97 1293.62 523.56 1295.48 523.15 1297.34 522.73 1299.2 522.31 1301.06 521.89 1302.92 521.47 1304.78 521.04 1306.64 520.61 1308.5 520.18 1310.36 519.75 1312.22 519.32 1314.08 518.88 1315.94 518.44 1317.8 517.99 1319.66 517.55 1321.52 517.1 1323.38 516.65 1325.24 516.2 1327.1 515.74 1328.96 515.28 1330.82 514.82 1332.68 514.35 1334.54 513.89 1336.39 513.41 1338.25 512.94 1340.11 512.46 1341.97 511.98 1343.83 511.5 1345.69 511.01 1347.55 510.53 1349.41 510.03 1351.27 509.54 1353.13 509.04 1354.99 508.53 1356.85 508.03 1358.71 507.52 1360.57 507 1362.43 506.49 1364.29 505.96 1366.15 505.44 1368.01 504.91 1369.87 504.38 1371.73 503.84 1373.59 503.3 1375.45 502.75 1377.31 502.2 1379.17 501.65 1381.03 501.09 1382.89 500.53 1384.75 499.96 1386.61 499.39 1388.47 498.82 1390.33 498.24 1392.19 497.65 1394.05 497.06 1395.91 496.46 1397.77 495.86 1399.63 495.26 1401.49 494.64 1403.35 494.03 1405.21 493.4 1407.07 492.78 1408.93 492.14 1410.79 491.5 1412.65 490.85 1414.51 490.2 1416.37 489.54 1418.23 488.88 1420.09 488.21 1421.95 487.53 1423.81 486.84 1425.67 486.15 1427.53 485.45 1429.39 484.74 1431.25 484.03 1433.11 483.31 1434.97 482.58 1436.83 481.84 1438.69 481.09 1440.55 480.34 1442.41 479.58 1444.27 478.8 1446.13 478.02 1447.99 477.23 1449.85 476.43 1451.71 475.62 1453.57 474.8 1455.43 473.97 1457.29 473.13 1459.15 472.27 1461.01 471.41 1462.87 470.53 1464.73 469.64 1466.59 468.74 1468.45 467.83 1470.31 466.9 1472.17 465.96 1474.03 465.01 1475.89 464.04 1477.75 463.06 1479.61 462.06 1481.47 461.04 1483.33 460.01 1485.19 458.96 1487.05 457.9 1488.91 456.81 1490.77 455.71 1492.63 454.59 1494.49 453.44 1496.35 452.28 1498.21 451.09 1500.07 449.88 1501.93 448.64 1503.79 447.39 1505.65 446.1 1507.51 444.79 1509.37 443.44 1511.23 442.07 1513.09 440.67 1514.95 439.23 1516.81 437.76 1518.67 436.26 1520.53 434.71 1522.38 433.13 1524.24 431.5 1526.1 429.83 1527.18 428.84 1527.8 428.26 1527.96 428.11 1528.42 427.68 1529.04 427.09 1529.66 426.49 1529.82 426.34 1530.28 425.89 1530.91 425.28 1531.53 424.67 1531.68 424.51 1532.15 424.05 1532.77 423.42 1533.39 422.79 1533.54 422.63 1534.01 422.15 1534.63 421.5 1535.26 420.85 1535.4 420.69 1535.88 420.19 1536.5 419.52 1537.12 418.84 1537.26 418.68 1537.74 418.16 1538.36 417.46 1538.99 416.76 1539.12 416.61 1539.61 416.06 1540.23 415.34 1540.85 414.61 1540.98 414.46 1541.47 413.88 1542.09 413.14 1542.71 412.38 1542.84 412.23 1543.34 411.62 1543.96 410.85 1544.58 410.07 1544.7 409.91 1545.2 409.27 1545.82 408.47 1546.44 407.66 1546.56 407.5 1547.07 406.83 1547.69 405.99 1548.31 405.14 1548.42 404.99 1548.93 404.28 1549.55 403.41 1550.17 402.52 1550.28 402.36 1550.79 401.62 1551.42 400.71 1552.04 399.78 1552.14 399.62 1552.66 398.84 1553.28 397.88 1553.9 396.9 1554 396.74 1554.52 395.91 1555.15 394.91 1555.77 393.88 1555.86 393.72 1556.39 392.84 1557.01 391.78 1557.63 390.7 1557.72 390.54 1558.25 389.6 1558.87 388.48 1559.5 387.34 1559.58 387.18 1560.12 386.18 1560.74 384.99 1561.36 383.78 1561.44 383.62 1561.98 382.55 1562.6 381.28 1563.22 380 1563.3 379.83 1563.85 378.68 1564.47 377.33 1565.09 375.96 1565.16 375.79 1565.71 374.55 1566.33 373.11 1566.95 371.63 1567.02 371.46 1567.58 370.12 1568.2 368.56 1568.82 366.97 1568.88 366.81 1569.44 365.34 1570.06 363.66 1570.68 361.93 1570.74 361.77 1571.3 360.16 1571.93 358.33 1572.55 356.45 1572.6 356.28 1573.17 354.51 1573.79 352.51 1574.41 350.45 1574.46 350.28 1575.03 348.31 1575.66 346.11 1576.28 343.83 1576.32 343.66 1576.9 341.47 1577.52 339.03 1578.14 336.5 1578.18 336.33 1578.76 333.87 1579.38 331.14 1580.01 328.31 1580.04 328.14 1580.63 325.36 1581.25 322.31 1581.87 319.13 1581.9 318.97 1582.49 315.83 1583.11 312.4 1583.74 308.85 1583.76 308.69 1584.36 305.16 1584.98 301.36 1585.6 297.43 1585.62 297.29 1586.22 293.4 1586.84 289.26 1587.46 285.05 1587.48 284.93 1588.09 280.78 1588.71 276.47 1589.33 272.14 1589.34 272.06 1589.95 267.88 1590.57 263.79 1591.19 259.94 1591.2 259.9 1591.82 256.37 1592.44 253.08 1593.06 250.05 1593.06 250.04 1593.68 247.27 1594.3 244.7 1594.92 242.34 1594.92 242.34 1595.54 240.14 1596.17 238.1 1596.78 236.21 1596.79 236.19 1597.41 234.4 1598.03 232.72 1598.64 231.17 1598.65 231.14 1599.27 229.64 1599.89 228.22 1600.5 226.9 1600.52 226.87 1601.14 225.58 1601.76 224.35 1602.36 223.21 1602.38 223.17 1603 222.05 1603.62 220.96 1604.22 219.97 1604.25 219.92 1604.87 218.92 1605.49 217.96 1606.08 217.07 1606.11 217.02 1606.73 216.12 1607.35 215.25 1607.94 214.45 1607.97 214.41 1608.6 213.59 1609.22 212.79 1609.8 212.07 1609.84 212.02 1610.46 211.27 1611.08 210.54 1611.66 209.88 1611.7 209.83 1612.33 209.14 1612.95 208.46 1613.52 207.85 1613.57 207.8 1614.19 207.16 1614.81 206.53 1615.38 205.96 1615.43 205.91 1616.05 205.31 1616.68 204.72 1617.24 204.2 1617.3 204.15 1617.92 203.58 1618.54 203.03 1619.1 202.54 1619.16 202.49 1619.78 201.96 1620.41 201.44 1620.96 200.98 1621.03 200.93 1621.65 200.42 1622.27 199.93 1622.82 199.5 1622.89 199.45 1623.51 198.97 1624.13 198.5 1624.68 198.1 1624.76 198.04 1625.38 197.59 1626 197.14 1626.54 196.76 1626.62 196.71 1627.24 196.27 1627.86 195.85 1628.4 195.49 1628.48 195.43 1629.11 195.02 1629.73 194.61 1630.26 194.27 1630.35 194.21 1630.97 193.81 1631.59 193.42 1632.12 193.1 1632.21 193.04 1632.84 192.66 1633.46 192.29 1633.98 191.98 1634.08 191.92 1634.7 191.55 1635.32 191.19 1635.84 190.9 1635.94 190.84 1636.56 190.49 1637.19 190.14 1637.7 189.86 1637.81 189.8 1638.43 189.46 1639.05 189.12 1639.56 188.85 1639.67 188.79 1640.29 188.46 1640.92 188.14 1641.42 187.88 1641.54 187.82 1642.16 187.5 1642.78 187.19 1643.28 186.94 1643.4 186.88 1644.02 186.58 1644.64 186.27 1645.14 186.03 1645.27 185.97 1645.89 185.68 1646.51 185.38 1647 185.15 1647.13 185.09 1647.75 184.8 1648.37 184.52 1648.86 184.3 1649 184.23 1649.62 183.95 1650.24 183.68 1650.72 183.46 1650.86 183.4 1652.58 182.66 1654.44 181.87 1656.3 181.1 1658.16 180.35 1660.02 179.62 1661.88 178.91 1663.74 178.21 1665.6 177.53 1667.46 176.87 1669.32 176.22 1671.18 175.58 1673.04 174.95 1674.9 174.34 1676.76 173.74 1678.62 173.15 1680.48 172.57 1682.34 172 1684.2 171.44 1686.06 170.89 1687.92 170.35 1689.78 169.82 1691.64 169.3 1693.5 168.78 1695.36 168.28 1697.22 167.78 1699.08 167.29 1700.94 166.8 1702.8 166.32 1704.66 165.85 1706.52 165.39 1708.37 164.93 1710.23 164.48 1712.09 164.03 1713.95 163.59 1715.81 163.16 1717.67 162.73 1719.53 162.31 1721.39 161.89 1723.25 161.48 1725.11 161.07 1726.97 160.66 1728.83 160.26 1730.69 159.87 1732.55 159.48 1734.41 159.09 1736.27 158.71 1738.13 158.33 1739.99 157.96 1741.85 157.59 1743.71 157.22 1745.57 156.86 1747.43 156.5 1749.29 156.14 1751.15 155.79 1753.01 155.44 1754.87 155.09 1756.73 154.75 1758.59 154.41 1760.45 154.07 1762.31 153.74 1764.17 153.41 1766.03 153.08 1767.89 152.75 1769.75 152.43 1771.61 152.11 1773.47 151.79 1775.33 151.48 1777.19 151.16 1779.05 150.85 1780.91 150.55 1782.77 150.24 1784.63 149.94 1786.49 149.64 1788.35 149.34 1790.21 149.04 1792.07 148.75 1793.93 148.46 1795.79 148.17 1797.65 147.88 1799.51 147.59 1801.37 147.31 1803.23 147.03 1805.09 146.75 1806.95 146.47 1808.81 146.19 1810.67 145.92 1812.53 145.64 1814.39 145.37 1816.25 145.1 1818.11 144.84 1819.97 144.57 1821.83 144.31 1823.69 144.04 1825.55 143.78 1827.41 143.52 1829.27 143.26 1831.13 143.01 1832.99 142.75 1834.85 142.5 1836.71 142.25 1838.57 142 1840.43 141.75 1842.29 141.5 1844.15 141.25 1846.01 141.01 1847.87 140.76 1849.73 140.52 1851.59 140.28 1853.45 140.04 1855.31 139.8 1857.17 139.56 1859.03 139.33 1860.89 139.09 1862.75 138.86 1864.61 138.62 1866.47 138.39 1868.33 138.16 1870.19 137.93 1872.05 137.7 1873.91 137.48 1875.77 137.25 1877.63 137.02 1879.49 136.8 1881.35 136.58 1883.21 136.35 1885.07 136.13 1886.93 135.91 1888.79 135.69 1890.65 135.48 1892.51 135.26 1894.36 135.04 1896.22 134.83 1898.08 134.61 1899.94 134.4 1901.8 134.19 1903.66 133.98 1905.52 133.76 1907.38 133.55 1909.24 133.35 1911.1 133.14 1912.96 132.93 1914.82 132.72 1916.68 132.52 1918.54 132.31 1920.4 132.11 1922.26 131.91 1924.12 131.7 1925.98 131.5 1927.84 131.3 1929.7 131.1 1931.56 130.9 1933.42 130.7 1935.28 130.5 1937.14 130.31 1939 130.11 1940.86 129.91 1942.72 129.72 1944.58 129.52 1946.44 129.33 1948.3 129.14 1950.16 128.94 1952.02 128.75 1953.88 128.56 1955.74 128.37 1957.6 128.18 1959.46 127.99 1961.32 127.8 1963.18 127.62 1965.04 127.43 1966.9 127.24 1968.76 127.06 1970.62 126.87 1972.48 126.69 1974.34 126.5 1976.2 126.32 1978.06 126.13 1979.92 125.95 1981.78 125.77 1983.64 125.59 1985.5 125.41" stroke="#55ffaa" stroke-width="6.5" fill="none" stroke-linejoin="round" stroke-linecap="round"/>
<path d="M1243.4 544.99 1245.26 544.75 1247.12 544.51 1248.98 544.27 1250.84 544.03 1252.7 543.78 1254.56 543.54 1256.42 543.29 1258.28 543.04 1260.14 542.79 1262 542.54 1263.86 542.29 1265.72 542.04 1267.58 541.78 1269.44 541.53 1271.3 541.27 1273.16 541.01 1275.02 540.75 1276.88 540.49 1278.74 540.22 1280.6 539.96 1282.46 539.69 1284.32 539.43 1286.18 539.16 1288.04 538.89 1289.9 538.61 1291.76 538.34 1293.62 538.06 1295.48 537.79 1297.34 537.51 1299.2 537.23 1301.06 536.95 1302.92 536.66 1304.78 536.38 1306.64 536.09 1308.5 535.8 1310.36 535.51 1312.22 535.22 1314.08 534.92 1315.94 534.63 1317.8 534.33 1319.66 534.03 1321.52 533.73 1323.38 533.43 1325.24 533.12 1327.1 532.82 1328.96 532.51 1330.82 532.2 1332.68 531.88 1334.54 531.57 1336.39 531.25 1338.25 530.93 1340.11 530.61 1341.97 530.29 1343.83 529.96 1345.69 529.63 1347.55 529.31 1349.41 528.97 1351.27 528.64 1353.13 528.3 1354.99 527.96 1356.85 527.62 1358.71 527.28 1360.57 526.93 1362.43 526.59 1364.29 526.23 1366.15 525.88 1368.01 525.53 1369.87 525.17 1371.73 524.81 1373.59 524.44 1375.45 524.08 1377.31 523.71 1379.17 523.34 1381.03 522.96 1382.89 522.58 1384.75 522.2 1386.61 521.82 1388.47 521.43 1390.33 521.05 1392.19 520.65 1394.05 520.26 1395.91 519.86 1397.77 519.46 1399.63 519.05 1401.49 518.65 1403.35 518.24 1405.21 517.82 1407.07 517.4 1408.93 516.98 1410.79 516.56 1412.65 516.13 1414.51 515.7 1416.37 515.26 1418.23 514.82 1420.09 514.38 1421.95 513.93 1423.81 513.48 1425.67 513.02 1427.53 512.56 1429.39 512.1 1431.25 511.63 1433.11 511.16 1434.97 510.68 1436.83 510.2 1438.69 509.72 1440.55 509.23 1442.41 508.73 1444.27 508.23 1446.13 507.73 1447.99 507.22 1449.85 506.71 1451.71 506.19 1453.57 505.66 1455.43 505.13 1457.29 504.6 1459.15 504.06 1461.01 503.51 1462.87 502.96 1464.73 502.4 1466.59 501.83 1468.45 501.26 1470.31 500.69 1472.17 500.1 1474.03 499.51 1475.89 498.92 1477.75 498.31 1479.61 497.7 1481.47 497.08 1483.33 496.46 1485.19 495.83 1487.05 495.19 1488.91 494.54 1490.77 493.88 1492.63 493.22 1494.49 492.55 1496.35 491.87 1498.21 491.18 1500.07 490.48 1501.93 489.77 1503.79 489.05 1505.65 488.32 1507.51 487.59 1509.37 486.84 1511.23 486.08 1513.09 485.31 1514.95 484.53 1516.81 483.74 1518.67 482.93 1520.53 482.12 1522.38 481.29 1524.24 480.45 1526.1 479.59 1527.96 478.72 1529.82 477.84 1531.68 476.94 1533.54 476.03 1535.4 475.1 1537.26 474.16 1539.12 473.2 1540.98 472.22 1542.84 471.22 1544.7 470.21 1546.56 469.17 1548.42 468.12 1550.28 467.04 1552.14 465.95 1554 464.83 1555.86 463.68 1557.72 462.52 1559.58 461.33 1561.44 460.11 1563.3 458.86 1565.16 457.59 1567.02 456.28 1568.88 454.95 1570.74 453.58 1572.6 452.17 1574.46 450.73 1576.32 449.25 1578.18 447.74 1580.04 446.17 1581.9 444.57 1583.73 442.94 1583.76 442.91 1584.35 442.37 1584.98 441.8 1585.6 441.23 1585.62 441.21 1586.22 440.65 1586.84 440.06 1587.46 439.47 1587.48 439.45 1588.08 438.87 1588.71 438.26 1589.33 437.65 1589.34 437.63 1589.95 437.03 1590.57 436.4 1591.19 435.77 1591.2 435.76 1591.81 435.13 1592.43 434.48 1593.06 433.82 1593.06 433.82 1593.68 433.16 1594.3 432.49 1594.92 431.81 1594.92 431.81 1595.54 431.12 1596.16 430.42 1596.78 429.72 1596.79 429.72 1597.41 429 1598.03 428.28 1598.64 427.56 1598.65 427.55 1599.27 426.81 1599.89 426.05 1600.5 425.31 1600.51 425.29 1601.14 424.52 1601.76 423.74 1602.36 422.97 1602.38 422.94 1603 422.14 1603.62 421.32 1604.22 420.52 1604.24 420.49 1604.86 419.65 1605.49 418.8 1606.08 417.97 1606.11 417.93 1606.73 417.05 1607.35 416.16 1607.94 415.3 1607.97 415.25 1608.59 414.33 1609.22 413.39 1609.8 412.49 1609.84 412.44 1610.46 411.47 1611.08 410.48 1611.66 409.55 1611.7 409.48 1612.32 408.46 1612.94 407.42 1613.52 406.44 1613.57 406.36 1614.19 405.28 1614.81 404.19 1615.38 403.16 1615.43 403.07 1616.05 401.93 1616.67 400.76 1617.24 399.68 1617.3 399.58 1617.92 398.36 1618.54 397.13 1619.1 395.99 1619.16 395.86 1619.78 394.57 1620.4 393.25 1620.96 392.04 1621.02 391.9 1621.65 390.52 1622.27 389.1 1622.82 387.82 1622.89 387.66 1623.51 386.17 1624.13 384.65 1624.68 383.27 1624.75 383.09 1625.38 381.48 1626 379.84 1626.54 378.36 1626.62 378.14 1627.24 376.4 1627.86 374.61 1628.4 373.02 1628.48 372.77 1629.1 370.87 1629.73 368.91 1630.26 367.18 1630.35 366.89 1630.97 364.8 1631.59 362.64 1632.12 360.75 1632.21 360.41 1632.83 358.11 1633.46 355.72 1633.98 353.63 1634.08 353.24 1634.7 350.67 1635.32 348 1635.84 345.7 1635.94 345.24 1636.56 342.36 1637.18 339.37 1637.7 336.81 1637.81 336.26 1638.43 333.04 1639.05 329.68 1639.56 326.83 1639.67 326.19 1640.29 322.58 1640.91 318.83 1641.42 315.69 1641.53 314.96 1642.16 310.96 1642.78 306.85 1643.28 303.47 1643.4 302.64 1644.02 298.35 1644.64 293.99 1645.14 290.49 1645.26 289.6 1645.89 285.2 1646.51 280.84 1647 277.47 1647.13 276.6 1647.75 272.54 1648.37 268.7 1648.86 265.86 1648.99 265.09 1649.61 261.73 1650.24 258.59 1650.72 256.3 1650.86 255.66 1651.48 252.93 1652.1 250.38 1652.58 248.53 1652.72 247.99 1653.34 245.74 1653.97 243.63 1654.44 242.11 1654.59 241.64 1655.21 239.75 1655.83 237.97 1656.3 236.68 1656.45 236.27 1657.07 234.66 1657.69 233.12 1658.16 232.01 1658.32 231.64 1658.94 230.24 1659.56 228.89 1660.02 227.92 1660.18 227.59 1660.8 226.34 1661.42 225.14 1661.88 224.29 1662.05 223.98 1662.67 222.87 1663.29 221.79 1663.74 221.03 1663.91 220.74 1664.53 219.73 1665.15 218.75 1665.6 218.07 1665.77 217.8 1666.4 216.88 1667.02 215.99 1667.46 215.37 1667.64 215.12 1668.26 214.27 1668.88 213.44 1669.32 212.88 1669.5 212.64 1670.13 211.85 1670.75 211.09 1671.18 210.57 1671.37 210.34 1671.99 209.61 1672.61 208.9 1673.04 208.42 1673.23 208.2 1673.85 207.52 1674.48 206.86 1674.9 206.41 1675.1 206.2 1675.72 205.57 1676.34 204.94 1676.76 204.53 1676.96 204.33 1677.58 203.72 1678.2 203.13 1678.62 202.75 1678.83 202.56 1679.45 201.99 1680.07 201.43 1680.48 201.07 1680.69 200.88 1681.31 200.34 1681.93 199.81 1682.34 199.48 1682.56 199.29 1683.18 198.78 1683.8 198.28 1684.2 197.96 1684.42 197.78 1685.04 197.3 1685.66 196.82 1686.06 196.52 1686.28 196.35 1686.91 195.88 1687.53 195.42 1687.92 195.14 1688.15 194.97 1688.77 194.53 1689.39 194.09 1689.78 193.82 1690.01 193.66 1690.64 193.23 1691.26 192.81 1691.64 192.56 1691.88 192.4 1692.5 191.99 1693.12 191.59 1693.5 191.35 1693.74 191.19 1694.36 190.8 1694.99 190.41 1695.36 190.18 1695.61 190.03 1696.23 189.65 1696.85 189.28 1697.22 189.06 1697.47 188.91 1698.09 188.54 1698.72 188.18 1699.08 187.98 1699.34 187.83 1699.96 187.48 1700.58 187.13 1700.94 186.93 1701.2 186.78 1701.82 186.45 1702.44 186.11 1702.8 185.92 1703.07 185.78 1703.69 185.45 1704.31 185.12 1704.66 184.95 1704.93 184.8 1705.55 184.49 1706.17 184.17 1706.52 184 1706.79 183.86 1707.42 183.55 1708.37 183.08 1710.23 182.19 1712.09 181.33 1713.95 180.49 1715.81 179.68 1717.67 178.88 1719.53 178.11 1721.39 177.36 1723.25 176.62 1725.11 175.9 1726.97 175.2 1728.83 174.52 1730.69 173.85 1732.55 173.2 1734.41 172.56 1736.27 171.94 1738.13 171.33 1739.99 170.73 1741.85 170.14 1743.71 169.57 1745.57 169 1747.43 168.45 1749.29 167.91 1751.15 167.38 1753.01 166.85 1754.87 166.34 1756.73 165.84 1758.59 165.34 1760.45 164.85 1762.31 164.37 1764.17 163.9 1766.03 163.44 1767.89 162.99 1769.75 162.54 1771.61 162.1 1773.47 161.66 1775.33 161.23 1777.19 160.81 1779.05 160.4 1780.91 159.99 1782.77 159.59 1784.63 159.19 1786.49 158.8 1788.35 158.41 1790.21 158.03 1792.07 157.65 1793.93 157.28 1795.79 156.92 1797.65 156.56 1799.51 156.2 1801.37 155.85 1803.23 155.5 1805.09 155.16 1806.95 154.82 1808.81 154.49 1810.67 154.16 1812.53 153.83 1814.39 153.51 1816.25 153.19 1818.11 152.87 1819.97 152.56 1821.83 152.26 1823.69 151.95 1825.55 151.65 1827.41 151.35 1829.27 151.06 1831.13 150.77 1832.99 150.48 1834.85 150.2 1836.71 149.92 1838.57 149.64 1840.43 149.36 1842.29 149.09 1844.15 148.82 1846.01 148.55 1847.87 148.29 1849.73 148.02 1851.59 147.77 1853.45 147.51 1855.31 147.25 1857.17 147 1859.03 146.75 1860.89 146.51 1862.75 146.26 1864.61 146.02 1866.47 145.78 1868.33 145.54 1870.19 145.31 1872.05 145.07 1873.91 144.84 1875.77 144.61 1877.63 144.39 1879.49 144.16 1881.35 143.94 1883.21 143.72 1885.07 143.5 1886.93 143.28 1888.79 143.06 1890.65 142.85 1892.51 142.64 1894.36 142.43 1896.22 142.22 1898.08 142.01 1899.94 141.81 1901.8 141.6 1903.66 141.4 1905.52 141.2 1907.38 141 1909.24 140.81 1911.1 140.61 1912.96 140.42 1914.82 140.23 1916.68 140.04 1918.54 139.85 1920.4 139.66 1922.26 139.47 1924.12 139.29 1925.98 139.1 1927.84 138.92 1929.7 138.74 1931.56 138.56 1933.42 138.38 1935.28 138.21 1937.14 138.03 1939 137.86 1940.86 137.69 1942.72 137.51 1944.58 137.34 1946.44 137.17 1948.3 137.01 1950.16 136.84 1952.02 136.67 1953.88 136.51 1955.74 136.35 1957.6 136.18 1959.46 136.02 1961.32 135.86 1963.18 135.7 1965.04 135.55 1966.9 135.39 1968.76 135.23 1970.62 135.08 1972.48 134.93 1974.34 134.77 1976.2 134.62 1978.06 134.47 1979.92 134.32 1981.78 134.17 1983.64 134.02 1985.5 133.88" stroke="#aaff55" stroke-width="6.5" fill="none" stroke-linejoin="round" stroke-linecap="round"/>
<path d="M1243.4 552.93 1245.26 552.73 1247.12 552.53 1248.98 552.33 1250.84 552.13 1252.7 551.92 1254.56 551.72 1256.42 551.51 1258.28 551.31 1260.14 551.1 1262 550.89 1263.86 550.68 1265.72 550.47 1267.58 550.26 1269.44 550.04 1271.3 549.83 1273.16 549.61 1275.02 549.4 1276.88 549.18 1278.74 548.96 1280.6 548.74 1282.46 548.52 1284.32 548.3 1286.18 548.07 1288.04 547.85 1289.9 547.62 1291.76 547.39 1293.62 547.17 1295.48 546.94 1297.34 546.71 1299.2 546.47 1301.06 546.24 1302.92 546.01 1304.78 545.77 1306.64 545.53 1308.5 545.3 1310.36 545.06 1312.22 544.82 1314.08 544.57 1315.94 544.33 1317.8 544.09 1319.66 543.84 1321.52 543.59 1323.38 543.34 1325.24 543.09 1327.1 542.84 1328.96 542.59 1330.82 542.33 1332.68 542.08 1334.54 541.82 1336.39 541.56 1338.25 541.3 1340.11 541.04 1341.97 540.77 1343.83 540.51 1345.69 540.24 1347.55 539.97 1349.41 539.7 1351.27 539.43 1353.13 539.16 1354.99 538.88 1356.85 538.61 1358.71 538.33 1360.57 538.05 1362.43 537.77 1364.29 537.48 1366.15 537.2 1368.01 536.91 1369.87 536.62 1371.73 536.33 1373.59 536.04 1375.45 535.74 1377.31 535.45 1379.17 535.15 1381.03 534.85 1382.89 534.55 1384.75 534.24 1386.61 533.94 1388.47 533.63 1390.33 533.32 1392.19 533.01 1394.05 532.69 1395.91 532.37 1397.77 532.06 1399.63 531.73 1401.49 531.41 1403.35 531.09 1405.21 530.76 1407.07 530.43 1408.93 530.1 1410.79 529.76 1412.65 529.42 1414.51 529.09 1416.37 528.74 1418.23 528.4 1420.09 528.05 1421.95 527.7 1423.81 527.35 1425.67 527 1427.53 526.64 1429.39 526.28 1431.25 525.92 1433.11 525.55 1434.97 525.18 1436.83 524.81 1438.69 524.44 1440.55 524.06 1442.41 523.68 1444.27 523.3 1446.13 522.92 1447.99 522.53 1449.85 522.13 1451.71 521.74 1453.57 521.34 1455.43 520.94 1457.29 520.54 1459.15 520.13 1461.01 519.72 1462.87 519.3 1464.73 518.88 1466.59 518.46 1468.45 518.03 1470.31 517.61 1472.17 517.17 1474.03 516.73 1475.89 516.29 1477.75 515.85 1479.61 515.4 1481.47 514.95 1483.33 514.49 1485.19 514.03 1487.05 513.56 1488.91 513.09 1490.77 512.62 1492.63 512.14 1494.49 511.66 1496.35 511.17 1498.21 510.68 1500.07 510.18 1501.93 509.68 1503.79 509.17 1505.65 508.66 1507.51 508.14 1509.37 507.62 1511.23 507.09 1513.09 506.55 1514.95 506.01 1516.81 505.47 1518.67 504.92 1520.53 504.36 1522.38 503.8 1524.24 503.23 1526.1 502.65 1527.96 502.07 1529.82 501.48 1531.68 500.88 1533.54 500.28 1535.4 499.67 1537.26 499.05 1539.12 498.43 1540.98 497.8 1542.84 497.16 1544.7 496.51 1546.56 495.86 1548.42 495.19 1550.28 494.52 1552.14 493.84 1554 493.15 1555.86 492.45 1557.72 491.74 1559.58 491.02 1561.44 490.3 1563.3 489.56 1565.16 488.81 1567.02 488.05 1568.88 487.28 1570.74 486.5 1572.6 485.71 1574.46 484.9 1576.32 484.09 1578.18 483.26 1580.04 482.41 1581.9 481.56 1583.76 480.69 1585.62 479.81 1587.48 478.91 1589.34 477.99 1591.2 477.06 1593.06 476.12 1594.92 475.16 1596.78 474.18 1598.64 473.18 1600.5 472.17 1602.36 471.13 1604.22 470.08 1606.08 469 1607.94 467.9 1609.8 466.79 1611.66 465.64 1613.52 464.48 1615.38 463.29 1617.24 462.07 1619.1 460.82 1620.96 459.55 1622.82 458.25 1624.68 456.91 1626.54 455.55 1628.4 454.15 1630.26 452.71 1632.12 451.23 1633.98 449.72 1635.84 448.16 1637.7 446.56 1639.56 444.92 1641.15 443.46 1641.42 443.22 1641.78 442.89 1642.4 442.31 1643.02 441.72 1643.28 441.47 1643.64 441.12 1644.26 440.52 1644.88 439.92 1645.14 439.67 1645.51 439.3 1646.13 438.68 1646.75 438.06 1647 437.8 1647.37 437.42 1647.99 436.78 1648.61 436.14 1648.86 435.88 1649.23 435.48 1649.86 434.82 1650.48 434.15 1650.72 433.88 1651.1 433.47 1651.72 432.78 1652.34 432.09 1652.58 431.82 1652.96 431.38 1653.59 430.67 1654.21 429.95 1654.44 429.68 1654.83 429.22 1655.45 428.48 1656.07 427.73 1656.3 427.45 1656.69 426.97 1657.31 426.2 1657.94 425.42 1658.16 425.14 1658.56 424.63 1659.18 423.83 1659.8 423.01 1660.02 422.73 1660.42 422.19 1661.04 421.35 1661.67 420.5 1661.88 420.21 1662.29 419.64 1662.91 418.77 1663.53 417.88 1663.74 417.58 1664.15 416.98 1664.77 416.07 1665.39 415.14 1665.6 414.83 1666.02 414.19 1666.64 413.23 1667.26 412.25 1667.46 411.94 1667.88 411.26 1668.5 410.25 1669.12 409.22 1669.32 408.9 1669.75 408.18 1670.37 407.11 1670.99 406.03 1671.18 405.7 1671.61 404.93 1672.23 403.8 1672.85 402.65 1673.04 402.31 1673.47 401.48 1674.1 400.29 1674.72 399.07 1674.9 398.72 1675.34 397.83 1675.96 396.56 1676.58 395.27 1676.76 394.9 1677.2 393.94 1677.82 392.59 1678.45 391.2 1678.62 390.82 1679.07 389.79 1679.69 388.33 1680.31 386.85 1680.48 386.45 1680.93 385.32 1681.55 383.76 1682.18 382.16 1682.34 381.74 1682.8 380.51 1683.42 378.82 1684.04 377.09 1684.2 376.64 1684.66 375.3 1685.28 373.46 1685.9 371.57 1686.06 371.1 1686.53 369.62 1687.15 367.61 1687.77 365.53 1687.92 365.03 1688.39 363.39 1689.01 361.18 1689.63 358.89 1689.78 358.35 1690.26 356.52 1690.88 354.06 1691.5 351.52 1691.64 350.94 1692.12 348.88 1692.74 346.14 1693.36 343.3 1693.5 342.67 1693.98 340.34 1694.61 337.27 1695.23 334.08 1695.36 333.41 1695.85 330.76 1696.47 327.31 1697.09 323.73 1697.22 323.01 1697.71 320.02 1698.34 316.17 1698.96 312.19 1699.08 311.41 1699.58 308.08 1700.2 303.86 1700.82 299.53 1700.94 298.73 1701.44 295.12 1702.06 290.64 1702.69 286.13 1702.8 285.33 1703.31 281.6 1703.93 277.13 1704.55 272.78 1704.66 272.07 1705.17 268.64 1705.79 264.74 1706.41 261.08 1706.52 260.52 1707.04 257.69 1707.66 254.53 1708.28 251.59 1708.37 251.16 1708.9 248.86 1709.52 246.31 1710.14 243.93 1710.23 243.6 1710.77 241.7 1711.39 239.6 1712.01 237.62 1712.09 237.36 1712.63 235.76 1713.25 233.99 1713.87 232.31 1713.95 232.09 1714.49 230.71 1715.12 229.19 1715.74 227.74 1715.81 227.56 1716.36 226.34 1716.98 225.01 1717.6 223.73 1717.67 223.59 1718.22 222.5 1718.85 221.32 1719.47 220.18 1719.53 220.06 1720.09 219.08 1720.71 218.02 1721.33 216.99 1721.39 216.89 1721.95 216 1722.57 215.03 1723.2 214.1 1723.25 214.01 1723.82 213.19 1724.44 212.31 1725.06 211.45 1725.11 211.38 1725.68 210.62 1726.3 209.81 1726.93 209.02 1726.97 208.96 1727.55 208.25 1728.17 207.5 1728.79 206.77 1728.83 206.72 1729.41 206.05 1730.03 205.35 1730.65 204.67 1730.69 204.63 1731.28 204 1731.9 203.35 1732.52 202.71 1732.55 202.67 1733.14 202.08 1733.76 201.47 1734.38 200.87 1734.41 200.84 1735.01 200.28 1735.63 199.7 1736.25 199.13 1736.27 199.11 1736.87 198.58 1737.49 198.03 1738.11 197.49 1738.13 197.48 1738.73 196.97 1739.36 196.45 1739.98 195.94 1739.99 195.93 1740.6 195.44 1741.22 194.95 1741.84 194.46 1741.85 194.45 1742.46 193.99 1743.08 193.52 1743.71 193.06 1743.71 193.05 1744.33 192.6 1744.95 192.16 1745.57 191.72 1745.57 191.71 1746.19 191.28 1746.81 190.85 1747.43 190.43 1747.44 190.43 1748.06 190.02 1748.68 189.61 1749.29 189.21 1749.3 189.2 1749.92 188.8 1750.54 188.41 1751.15 188.03 1751.16 188.02 1751.79 187.64 1752.41 187.26 1753.01 186.9 1753.03 186.89 1753.65 186.52 1754.27 186.16 1754.87 185.81 1754.89 185.8 1755.52 185.44 1756.14 185.09 1756.73 184.76 1756.76 184.74 1757.38 184.4 1758 184.06 1758.59 183.75 1758.62 183.73 1759.24 183.4 1759.87 183.07 1760.45 182.77 1760.49 182.75 1761.11 182.43 1761.73 182.11 1762.31 181.82 1762.35 181.8 1762.97 181.49 1763.6 181.19 1764.17 180.9 1764.22 180.88 1764.84 180.58 1766.03 180.02 1767.89 179.16 1769.75 178.32 1771.61 177.51 1773.47 176.72 1775.33 175.95 1777.19 175.21 1779.05 174.48 1780.91 173.77 1782.77 173.08 1784.63 172.4 1786.49 171.74 1788.35 171.1 1790.21 170.47 1792.07 169.86 1793.93 169.25 1795.79 168.67 1797.65 168.09 1799.51 167.53 1801.37 166.97 1803.23 166.43 1805.09 165.9 1806.95 165.38 1808.81 164.87 1810.67 164.37 1812.53 163.88 1814.39 163.39 1816.25 162.92 1818.11 162.45 1819.97 161.99 1821.83 161.54 1823.69 161.1 1825.55 160.67 1827.41 160.24 1829.27 159.82 1831.13 159.4 1832.99 158.99 1834.85 158.59 1836.71 158.2 1838.57 157.81 1840.43 157.42 1842.29 157.04 1844.15 156.67 1846.01 156.3 1847.87 155.94 1849.73 155.59 1851.59 155.23 1853.45 154.89 1855.31 154.54 1857.17 154.21 1859.03 153.87 1860.89 153.54 1862.75 153.22 1864.61 152.9 1866.47 152.58 1868.33 152.27 1870.19 151.96 1872.05 151.66 1873.91 151.36 1875.77 151.06 1877.63 150.77 1879.49 150.48 1881.35 150.19 1883.21 149.91 1885.07 149.63 1886.93 149.35 1888.79 149.08 1890.65 148.81 1892.51 148.54 1894.36 148.28 1896.22 148.01 1898.08 147.76 1899.94 147.5 1901.8 147.25 1903.66 147 1905.52 146.75 1907.38 146.5 1909.24 146.26 1911.1 146.02 1912.96 145.78 1914.82 145.55 1916.68 145.32 1918.54 145.09 1920.4 144.86 1922.26 144.63 1924.12 144.41 1925.98 144.19 1927.84 143.97 1929.7 143.75 1931.56 143.54 1933.42 143.32 1935.28 143.11 1937.14 142.9 1939 142.7 1940.86 142.49 1942.72 142.29 1944.58 142.09 1946.44 141.89 1948.3 141.69 1950.16 141.5 1952.02 141.3 1953.88 141.11 1955.74 140.92 1957.6 140.73 1959.46 140.54 1961.32 140.36 1963.18 140.17 1965.04 139.99 1966.9 139.81 1968.76 139.63 1970.62 139.45 1972.48 139.28 1974.34 139.1 1976.2 138.93 1978.06 138.75 1979.92 138.58 1981.78 138.42 1983.64 138.25 1985.5 138.08" stroke="#ffff00" stroke-width="6.5" fill="none" stroke-linejoin="round" stroke-linecap="round"/>
<path d="M1243.4 560.8 1245.26 560.65 1247.12 560.49 1248.98 560.33 1250.84 560.17 1252.7 560.01 1254.56 559.85 1256.42 559.69 1258.28 559.53 1260.14 559.37 1262 559.2 1263.86 559.04 1265.72 558.87 1267.58 558.71 1269.44 558.54 1271.3 558.37 1273.16 558.2 1275.02 558.04 1276.88 557.87 1278.74 557.69 1280.6 557.52 1282.46 557.35 1284.32 557.18 1286.18 557 1288.04 556.83 1289.9 556.65 1291.76 556.48 1293.62 556.3 1295.48 556.12 1297.34 555.94 1299.2 555.76 1301.06 555.58 1302.92 555.4 1304.78 555.21 1306.64 555.03 1308.5 554.84 1310.36 554.66 1312.22 554.47 1314.08 554.28 1315.94 554.1 1317.8 553.91 1319.66 553.72 1321.52 553.52 1323.38 553.33 1325.24 553.14 1327.1 552.94 1328.96 552.75 1330.82 552.55 1332.68 552.35 1334.54 552.15 1336.39 551.95 1338.25 551.75 1340.11 551.55 1341.97 551.35 1343.83 551.14 1345.69 550.94 1347.55 550.73 1349.41 550.52 1351.27 550.32 1353.13 550.11 1354.99 549.89 1356.85 549.68 1358.71 549.47 1360.57 549.25 1362.43 549.04 1364.29 548.82 1366.15 548.6 1368.01 548.38 1369.87 548.16 1371.73 547.94 1373.59 547.72 1375.45 547.49 1377.31 547.27 1379.17 547.04 1381.03 546.81 1382.89 546.58 1384.75 546.35 1386.61 546.12 1388.47 545.89 1390.33 545.65 1392.19 545.41 1394.05 545.18 1395.91 544.94 1397.77 544.7 1399.63 544.45 1401.49 544.21 1403.35 543.97 1405.21 543.72 1407.07 543.47 1408.93 543.22 1410.79 542.97 1412.65 542.72 1414.51 542.46 1416.37 542.21 1418.23 541.95 1420.09 541.69 1421.95 541.43 1423.81 541.17 1425.67 540.9 1427.53 540.64 1429.39 540.37 1431.25 540.1 1433.11 539.83 1434.97 539.56 1436.83 539.28 1438.69 539.01 1440.55 538.73 1442.41 538.45 1444.27 538.17 1446.13 537.89 1447.99 537.6 1449.85 537.31 1451.71 537.02 1453.57 536.73 1455.43 536.44 1457.29 536.14 1459.15 535.85 1461.01 535.55 1462.87 535.25 1464.73 534.94 1466.59 534.64 1468.45 534.33 1470.31 534.02 1472.17 533.71 1474.03 533.39 1475.89 533.07 1477.75 532.76 1479.61 532.43 1481.47 532.11 1483.33 531.78 1485.19 531.46 1487.05 531.13 1488.91 530.79 1490.77 530.46 1492.63 530.12 1494.49 529.78 1496.35 529.43 1498.21 529.09 1500.07 528.74 1501.93 528.39 1503.79 528.03 1505.65 527.67 1507.51 527.31 1509.37 526.95 1511.23 526.58 1513.09 526.22 1514.95 525.84 1516.81 525.47 1518.67 525.09 1520.53 524.71 1522.38 524.33 1524.24 523.94 1526.1 523.55 1527.96 523.15 1529.82 522.76 1531.68 522.36 1533.54 521.95 1535.4 521.54 1537.26 521.13 1539.12 520.72 1540.98 520.3 1542.84 519.88 1544.7 519.45 1546.56 519.02 1548.42 518.59 1550.28 518.15 1552.14 517.71 1554 517.26 1555.86 516.81 1557.72 516.35 1559.58 515.9 1561.44 515.43 1563.3 514.96 1565.16 514.49 1567.02 514.01 1568.88 513.53 1570.74 513.05 1572.6 512.55 1574.46 512.06 1576.32 511.56 1578.18 511.05 1580.04 510.54 1581.9 510.02 1583.76 509.5 1585.62 508.97 1587.48 508.43 1589.34 507.89 1591.2 507.35 1593.06 506.79 1594.92 506.24 1596.78 505.67 1598.64 505.1 1600.5 504.52 1602.36 503.94 1604.22 503.35 1606.08 502.75 1607.94 502.14 1609.8 501.53 1611.66 500.91 1613.52 500.28 1615.38 499.64 1617.24 499 1619.1 498.35 1620.96 497.69 1622.82 497.02 1624.68 496.34 1626.54 495.65 1628.4 494.96 1630.26 494.25 1632.12 493.53 1633.98 492.81 1635.84 492.07 1637.7 491.33 1639.56 490.57 1641.42 489.8 1643.28 489.02 1645.14 488.23 1647 487.43 1648.86 486.61 1650.72 485.78 1652.58 484.94 1654.44 484.08 1656.3 483.21 1658.16 482.33 1660.02 481.43 1661.88 480.51 1663.74 479.58 1665.6 478.64 1667.46 477.67 1669.32 476.69 1671.18 475.69 1673.04 474.67 1674.9 473.63 1676.76 472.58 1678.62 471.5 1680.48 470.39 1682.34 469.27 1684.2 468.12 1686.06 466.95 1687.92 465.75 1689.78 464.53 1691.64 463.28 1693.5 461.99 1695.36 460.68 1697.22 459.34 1699.08 457.96 1700.94 456.55 1702.8 455.1 1704.66 453.61 1706.52 452.09 1708.37 450.51 1710.23 448.9 1712.09 447.24 1713.35 446.08 1713.95 445.52 1713.97 445.5 1714.6 444.92 1715.22 444.33 1715.81 443.75 1715.84 443.73 1716.46 443.13 1717.08 442.52 1717.67 441.93 1717.7 441.9 1718.33 441.28 1718.95 440.65 1719.53 440.04 1719.57 440.01 1720.19 439.36 1720.81 438.71 1721.39 438.1 1721.43 438.05 1722.05 437.39 1722.68 436.71 1723.25 436.08 1723.3 436.03 1723.92 435.34 1724.54 434.64 1725.11 433.99 1725.16 433.93 1725.78 433.21 1726.41 432.49 1726.97 431.81 1727.03 431.75 1727.65 431.01 1728.27 430.25 1728.83 429.56 1728.89 429.49 1729.51 428.71 1730.13 427.93 1730.69 427.21 1730.76 427.13 1731.38 426.32 1732 425.5 1732.55 424.76 1732.62 424.67 1733.24 423.83 1733.86 422.98 1734.41 422.21 1734.49 422.11 1735.11 421.23 1735.73 420.33 1736.27 419.54 1736.35 419.43 1736.97 418.5 1737.59 417.57 1738.13 416.74 1738.21 416.61 1738.84 415.65 1739.46 414.66 1739.99 413.8 1740.08 413.66 1740.7 412.64 1741.32 411.61 1741.85 410.71 1741.94 410.55 1742.56 409.48 1743.19 408.39 1743.71 407.44 1743.81 407.27 1744.43 406.14 1745.05 404.98 1745.57 403.99 1745.67 403.8 1746.29 402.6 1746.92 401.37 1747.43 400.33 1747.54 400.12 1748.16 398.84 1748.78 397.53 1749.29 396.43 1749.4 396.19 1750.02 394.82 1750.64 393.42 1751.15 392.26 1751.27 391.99 1751.89 390.53 1752.51 389.03 1753.01 387.78 1753.13 387.49 1753.75 385.91 1754.37 384.29 1754.87 382.96 1755 382.63 1755.62 380.92 1756.24 379.17 1756.73 377.74 1756.86 377.37 1757.48 375.51 1758.1 373.6 1758.59 372.05 1758.72 371.63 1759.35 369.59 1759.97 367.5 1760.45 365.82 1760.59 365.33 1761.21 363.09 1761.83 360.78 1762.31 358.94 1762.45 358.38 1763.08 355.9 1763.7 353.33 1764.17 351.3 1764.32 350.66 1764.94 347.9 1765.56 345.02 1766.03 342.77 1766.18 342.03 1766.8 338.93 1767.43 335.7 1767.89 333.2 1768.05 332.35 1768.67 328.86 1769.29 325.24 1769.75 322.46 1769.91 321.48 1770.53 317.59 1771.16 313.56 1771.61 310.52 1771.78 309.4 1772.4 305.13 1773.02 300.76 1773.47 297.52 1773.64 296.29 1774.26 291.77 1774.88 287.2 1775.33 283.9 1775.51 282.62 1776.13 278.09 1776.75 273.71 1777.19 270.72 1777.37 269.55 1777.99 265.63 1778.61 261.98 1779.05 259.57 1779.23 258.59 1779.86 255.45 1780.48 252.54 1780.91 250.63 1781.1 249.84 1781.72 247.32 1782.34 244.97 1782.77 243.43 1782.96 242.77 1783.59 240.7 1784.21 238.75 1784.63 237.49 1784.83 236.92 1785.45 235.18 1786.07 233.53 1786.49 232.46 1786.69 231.96 1787.31 230.47 1787.94 229.04 1788.35 228.13 1788.56 227.68 1789.18 226.38 1789.8 225.12 1790.21 224.33 1790.42 223.92 1791.04 222.76 1791.67 221.65 1792.07 220.94 1792.29 220.57 1792.91 219.53 1793.53 218.53 1793.93 217.9 1794.15 217.56 1794.77 216.62 1795.39 215.7 1795.79 215.14 1796.02 214.82 1796.64 213.96 1797.26 213.12 1797.65 212.61 1797.88 212.31 1798.5 211.52 1799.12 210.75 1799.51 210.28 1799.75 210 1800.37 209.27 1800.99 208.55 1801.37 208.12 1801.61 207.85 1802.23 207.17 1802.85 206.51 1803.23 206.11 1803.47 205.86 1804.1 205.22 1804.72 204.6 1805.09 204.23 1805.34 203.99 1805.96 203.39 1806.58 202.81 1806.95 202.47 1807.2 202.23 1807.82 201.67 1808.45 201.12 1808.81 200.8 1809.07 200.58 1809.69 200.05 1810.31 199.53 1810.67 199.23 1810.93 199.01 1811.55 198.51 1812.18 198.02 1812.53 197.74 1812.8 197.53 1813.42 197.05 1814.04 196.58 1814.39 196.32 1814.66 196.12 1815.28 195.67 1815.9 195.22 1816.25 194.97 1816.53 194.78 1817.15 194.34 1817.77 193.92 1818.11 193.68 1818.39 193.49 1819.01 193.08 1819.63 192.67 1819.97 192.45 1820.26 192.27 1820.88 191.87 1821.5 191.48 1821.83 191.27 1822.12 191.09 1822.74 190.71 1823.36 190.34 1823.69 190.14 1823.98 189.97 1824.61 189.6 1825.23 189.24 1825.55 189.05 1825.85 188.88 1826.47 188.53 1827.09 188.18 1827.41 188.01 1827.71 187.84 1828.34 187.5 1828.96 187.17 1829.27 187 1829.58 186.83 1830.2 186.51 1830.82 186.18 1831.13 186.03 1831.44 185.87 1832.06 185.55 1832.69 185.24 1832.99 185.09 1833.31 184.93 1833.93 184.62 1834.55 184.32 1834.85 184.18 1835.17 184.02 1835.79 183.73 1836.42 183.44 1836.71 183.3 1837.04 183.15 1838.57 182.45 1840.43 181.62 1842.29 180.82 1844.15 180.05 1846.01 179.29 1847.87 178.56 1849.73 177.84 1851.59 177.15 1853.45 176.47 1855.31 175.81 1857.17 175.16 1859.03 174.53 1860.89 173.92 1862.75 173.32 1864.61 172.73 1866.47 172.16 1868.33 171.6 1870.19 171.05 1872.05 170.52 1873.91 169.99 1875.77 169.47 1877.63 168.97 1879.49 168.48 1881.35 167.99 1883.21 167.52 1885.07 167.05 1886.93 166.59 1888.79 166.14 1890.65 165.7 1892.51 165.27 1894.36 164.84 1896.22 164.42 1898.08 164.01 1899.94 163.61 1901.8 163.21 1903.66 162.82 1905.52 162.43 1907.38 162.06 1909.24 161.68 1911.1 161.32 1912.96 160.96 1914.82 160.6 1916.68 160.25 1918.54 159.91 1920.4 159.57 1922.26 159.23 1924.12 158.9 1925.98 158.58 1927.84 158.26 1929.7 157.94 1931.56 157.63 1933.42 157.32 1935.28 157.02 1937.14 156.72 1939 156.42 1940.86 156.13 1942.72 155.85 1944.58 155.56 1946.44 155.28 1948.3 155.01 1950.16 154.73 1952.02 154.46 1953.88 154.2 1955.74 153.93 1957.6 153.68 1959.46 153.42 1961.32 153.17 1963.18 152.92 1965.04 152.67 1966.9 152.42 1968.76 152.18 1970.62 151.94 1972.48 151.71 1974.34 151.47 1976.2 151.24 1978.06 151.02 1979.92 150.79 1981.78 150.57 1983.64 150.35 1985.5 150.13" stroke="#ffaa00" stroke-width="6.5" fill="none" stroke-linejoin="round" stroke-linecap="round"/>
<text x="1243.4" y="660.3" text-anchor="middle" font-size="33" class="t">-19</text>
<text x="1367.08" y="660.3" text-anchor="middle" font-size="33" class="t">-18.5</text>
<text x="1490.77" y="660.3" text-anchor="middle" font-size="33" class="t">-18</text>
<text x="1614.45" y="660.3" text-anchor="middle" font-size="33" class="t">-17.5</text>
<text x="1738.13" y="660.3" text-anchor="middle" font-size="33" class="t">-17</text>
<text x="1861.82" y="660.3" text-anchor="middle" font-size="33" class="t">-16.5</text>
<text x="1985.5" y="660.3" text-anchor="middle" font-size="33" class="t">-16</text>
<text x="1231.8" y="67.11" text-anchor="end" font-size="33" class="t">-20</text>
<text x="1231.8" y="207.41" text-anchor="end" font-size="33" class="t">-40</text>
<text x="1231.8" y="347.71" text-anchor="end" font-size="33" class="t">-60</text>
<text x="1231.8" y="488.01" text-anchor="end" font-size="33" class="t">-80</text>
<text x="1231.8" y="628.31" text-anchor="end" font-size="33" class="t">-100</text>
<path d="M1800 313.5H1870.2" stroke="#0000ff" stroke-width="7.7"/>
<text x="1874.5" y="325.12" font-size="28" class="k">25.0 C</text>
<path d="M1800 350.99H1870.2" stroke="#0050ff" stroke-width="7.7"/>
<text x="1874.5" y="362.61" font-size="28" class="k">30.0 C</text>
<path d="M1800 388.48H1870.2" stroke="#00aaff" stroke-width="7.7"/>
<text x="1874.5" y="400.1" font-size="28" class="k">35.0 C</text>
<path d="M1800 425.97H1870.2" stroke="#00ffff" stroke-width="7.7"/>
<text x="1874.5" y="437.59" font-size="28" class="k">40.0 C</text>
<path d="M1800 463.46H1870.2" stroke="#55ffaa" stroke-width="7.7"/>
<text x="1874.5" y="475.08" font-size="28" class="k">45.0 C</text>
<path d="M1800 500.95H1870.2" stroke="#aaff55" stroke-width="7.7"/>
<text x="1874.5" y="512.57" font-size="28" class="k">50.0 C</text>
<path d="M1800 538.44H1870.2" stroke="#ffff00" stroke-width="7.7"/>
<text x="1874.5" y="550.06" font-size="28" class="k">55.0 C</text>
<path d="M1800 575.93H1870.2" stroke="#ffaa00" stroke-width="7.7"/>
<text x="1874.5" y="587.55" font-size="28" class="k">60.0 C</text>
<path d="M143.4 53.5V622M267.92 53.5V622M392.43 53.5V622M516.95 53.5V622M641.47 53.5V622M765.98 53.5V622M890.5 53.5V622M143.4 53.5H890.5M143.4 195.62H890.5M143.4 337.75H890.5M143.4 479.88H890.5M143.4 622H890.5" stroke="#d9d9d9" stroke-width="2.5" fill="none"/>
<path d="M143.4 622v-9M143.4 53.5v9M267.92 622v-9M267.92 53.5v9M392.43 622v-9M392.43 53.5v9M516.95 622v-9M516.95 53.5v9M641.47 622v-9M641.47 53.5v9M765.98 622v-9M765.98 53.5v9M890.5 622v-9M890.5 53.5v9M143.4 53.5h9M890.5 53.5h-9M143.4 195.62h9M890.5 195.62h-9M143.4 337.75h9M890.5 337.75h-9M143.4 479.88h9M890.5 479.88h-9M143.4 622h9M890.5 622h-9" stroke="#262626" stroke-width="2.7" fill="none"/>
<rect x="143.4" y="53.5" width="747.1" height="568.5" stroke="#262626" stroke-width="2.7" fill="none"/>
<path d="M143.4 516.71 144.77 515.7 146.14 513.31 147.51 514.77 148.88 520.22 150.25 521.48 151.62 512.43 152.99 509.5 154.36 512 155.73 512.47 157.1 503.45 158.47 503.11 159.84 502.24 161.21 494.81 162.58 506.18 163.95 519.45 165.31 524.98 166.68 522.1 168.05 507.61 169.42 506.07 170.79 506.08 172.16 504.07 173.53 509.41 174.9 512.5 176.27 520.94 177.64 519.29 179.01 505.43 180.38 487.26 181.75 480.17 183.12 490.71 184.49 493.63 185.86 495.18 187.23 497.44 188.6 508.21 189.97 522.6 191.34 515.65 192.71 492.73 194.08 475.18 195.45 484.57 196.82 488.56 198.19 479.82 199.56 483.95 200.93 489.83 202.3 491.18 203.67 493.1 205.04 498.72 206.41 500.47 207.78 491.58 209.14 486.01 210.51 484.31 211.88 493.72 213.25 503.47 214.62 489.36 215.99 479.26 217.36 487.31 218.73 499.36 220.1 504.87 221.47 501.7 222.84 496.04 224.21 488.62 225.58 480.07 226.95 480.23 228.32 476.87 229.69 464.36 231.06 464.58 232.43 475.59 233.8 476.98 235.17 477.02 236.54 484.39 237.91 489.84 239.28 478.44 240.65 470.06 242.02 475.87 243.39 482.43 244.76 483.55 246.13 481.49 247.5 474.81 248.87 459.51 250.24 452.25 251.6 458.2 252.97 462.63 254.34 465.25 255.71 469.79 257.08 472.5 258.45 472.85 259.82 463.4 261.19 446.13 262.56 453 263.93 466.56 265.3 472.44 266.67 470.87 268.04 464.28 269.41 464.37 270.78 469.05 272.15 464.21 273.52 459.23 274.89 450.5 276.26 446.25 277.63 446.61 279 456.23 280.37 457.83 281.74 452.21 283.11 446 284.48 452.25 285.85 458.69 287.22 455.93 288.59 453.94 289.96 455.42 291.33 451.11 292.7 443.36 294.07 449.28 295.43 451.86 296.8 447.04 298.17 444.99 299.54 443.63 300.91 438.8 302.28 436.91 303.65 435.65 305.02 434.23 306.39 439.65 307.76 444.66 309.13 446.09 310.5 443.86 311.87 443.63 313.24 452.42 314.61 455.96 315.98 449.46 317.35 454.05 318.72 453.61 320.09 440.31 321.46 434.49 322.83 432.23 324.2 436.42 325.57 444.13 326.94 443.98 328.31 436.73 329.68 432.58 331.05 432.63 332.42 433.63 333.79 434.99 335.16 432.9 336.53 432.63 337.9 421.31 339.26 409.1 340.63 398.77 342 402.73 343.37 411.37 344.74 405.29 346.11 394.81 347.48 398.61 348.85 403.7 350.22 397.18 351.59 392.51 352.96 397.89 354.33 393.47 355.7 387.43 357.07 388.73 358.44 387.45 359.81 390.03 361.18 389.67 362.55 382.29 363.92 373.09 365.29 366.95 366.66 363.27 368.03 362.99 369.4 357.89 370.77 349.66 372.14 349.36 373.51 349.77 374.88 344.29 376.25 339.87 377.62 334.49 378.99 327.18 380.36 322.24 381.72 324.78 383.09 331.03 384.46 323.8 385.83 310.42 387.2 302.98 388.57 296.15 389.94 294.14 391.31 291.41 392.68 287.08 394.05 287.64 395.42 284.91 396.79 276.63 398.16 274.58 399.53 269.14 400.9 263.11 402.27 262.61 403.64 261.25 405.01 255.47 406.38 253.56 407.75 249.11 409.12 238.88 410.49 230.21 411.86 223.47 413.23 217.52 414.6 211.37 415.97 205.41 417.34 200.61 418.71 195.92 420.08 192.02 421.45 188.96 422.82 186.27 424.19 183.99 425.55 182.06 426.92 180.63 427.8 179.99 431.68 177.89 435.57 176.23 439.46 174.92 443.35 173.87 447.24 172.97 451.13 172.13 455.01 171.26 458.9 170.26 462.79 169.12 466.68 167.97 470.57 166.8 474.46 165.63 478.34 164.47 482.23 163.32 486.12 162.18 490.01 161.05 493.9 159.96 497.78 158.89 501.67 157.85 505.56 156.86 509.45 155.9 513.34 155 517.23 154.15 521.11 153.36 525 152.6 528.89 151.84 532.78 151.11 536.67 150.39 540.56 149.69 544.44 149 548.33 148.33 552.22 147.67 556.11 147.02 560 146.39 563.89 145.77 567.77 145.16 571.66 144.57 575.55 143.98 579.44 143.4 583.33 142.84 587.22 142.28 591.1 141.73 594.99 141.19 598.88 140.66 602.77 140.14 606.66 139.62 610.54 139.11 614.43 138.61 618.32 138.11 622.21 137.61 626.1 137.12 629.99 136.64 633.87 136.16 637.76 135.68 641.65 135.2 645.54 134.73 649.43 134.26 653.32 133.79 657.2 133.33 661.09 132.88 664.98 132.43 668.87 131.98 672.76 131.54 676.65 131.1 680.53 130.67 684.42 130.25 688.31 129.82 692.2 129.41 696.09 128.99 699.97 128.59 703.86 128.18 707.75 127.79 711.64 127.39 715.53 127.01 719.42 126.62 723.3 126.25 727.19 125.87 731.08 125.51 734.97 125.14 738.86 124.78 742.75 124.43 746.63 124.08 750.52 123.74 754.41 123.4 758.3 123.07 762.19 122.75 766.08 122.42 769.96 122.1 773.85 121.79 777.74 121.48 781.63 121.17 785.52 120.86 789.41 120.55 793.29 120.25 797.18 119.95 801.07 119.66 804.96 119.37 808.85 119.08 812.73 118.79 816.62 118.51 820.51 118.23 824.4 117.96 828.29 117.68 832.18 117.42 836.06 117.15 839.95 116.89 843.84 116.64 847.73 116.38 851.62 116.14 855.51 115.89 859.39 115.65 863.28 115.42 867.17 115.19 871.06 114.96 874.95 114.74 878.84 114.52 882.72 114.31 886.61 114.11 890.5 113.9" stroke="#0000ff" stroke-width="7.4" fill="none" stroke-linejoin="round" stroke-linecap="round"/>
<path d="M143.4 523.37 144.77 520.98 146.14 513.62 147.51 510.3 148.88 515.87 150.25 517.89 151.62 521.93 152.99 521.79 154.36 515.01 155.73 513.67 157.1 523.47 158.47 531.24 159.84 522.96 161.21 520.2 162.58 509.63 163.95 498.37 165.31 508.89 166.68 522.36 168.05 519.27 169.42 506.42 170.79 502.01 172.16 499.29 173.53 498.35 174.9 504.72 176.27 512.17 177.64 529.88 179.01 546.98 180.38 533.28 181.75 511.55 183.12 503.17 184.49 500.89 185.86 500.48 187.23 498.37 188.6 498.62 189.97 504.43 191.34 510.24 192.71 508.12 194.08 497.77 195.45 492.64 196.82 486.24 198.19 477.08 199.56 480.73 200.93 489.51 202.3 494.86 203.67 499.58 205.04 495.96 206.41 496.66 207.78 498.73 209.14 492.21 210.51 491.4 211.88 490.62 213.25 488.42 214.62 480.44 215.99 481.93 217.36 495.74 218.73 504.16 220.1 492.78 221.47 486.79 222.84 489.51 224.21 492.4 225.58 497.92 226.95 513.68 228.32 511.25 229.69 501.02 231.06 492.72 232.43 495.1 233.8 499.08 235.17 498.72 236.54 498.41 237.91 492.65 239.28 490.81 240.65 490.28 242.02 485.45 243.39 479.65 244.76 478.05 246.13 476.93 247.5 479.06 248.87 481.24 250.24 478.04 251.6 475.21 252.97 477.7 254.34 480.5 255.71 478.24 257.08 465.5 258.45 459.82 259.82 472.68 261.19 475.61 262.56 474.04 263.93 468.95 265.3 466.54 266.67 474.9 268.04 495.23 269.41 494.33 270.78 484.78 272.15 479.43 273.52 478.82 274.89 473.24 276.26 462.45 277.63 464.91 279 482.81 280.37 478.49 281.74 467.18 283.11 466.68 284.48 472.87 285.85 479.96 287.22 472.09 288.59 458.72 289.96 452.34 291.33 459.8 292.7 464.24 294.07 461.78 295.43 458.57 296.8 455.56 298.17 456.76 299.54 458.89 300.91 459.35 302.28 457.71 303.65 449.1 305.02 446.82 306.39 453.32 307.76 453.88 309.13 450.83 310.5 442.37 311.87 438.86 313.24 442.16 314.61 442.6 315.98 446.91 317.35 451.76 318.72 450.37 320.09 446.61 321.46 444.06 322.83 442.5 324.2 440.48 325.57 433.64 326.94 432.42 328.31 440.88 329.68 443.9 331.05 433.25 332.42 427.2 333.79 434.61 335.16 439.15 336.53 430.97 337.9 427.73 339.26 434.3 340.63 431.93 342 430.56 343.37 430.56 344.74 427.87 346.11 427.45 347.48 419.43 348.85 410.48 350.22 416.15 351.59 426.91 352.96 436.62 354.33 435.25 355.7 421.05 357.07 405.45 358.44 405.01 359.81 413.65 361.18 416.46 362.55 410.91 363.92 403.83 365.29 395.27 366.66 386.99 368.03 387.94 369.4 387.57 370.77 377.7 372.14 364.4 373.51 364.15 374.88 370.26 376.25 368.49 377.62 363.81 378.99 359.93 380.36 359.79 381.72 363.68 383.09 362.24 384.46 354.64 385.83 347.65 387.2 339.66 388.57 338.52 389.94 339.97 391.31 336.27 392.68 330.25 394.05 323.32 395.42 319.28 396.79 323.65 398.16 321.86 399.53 309.21 400.9 301.74 402.27 296.43 403.64 291.45 405.01 287.28 406.38 283.45 407.75 281.1 409.12 278.04 410.49 275.65 411.86 270.29 413.23 262.21 414.6 258.61 415.97 260.17 417.34 254.4 418.71 244.59 420.08 238.64 421.45 236.09 422.82 233.11 424.19 226.65 425.55 217.35 426.92 212.28 428.29 208.71 429.66 204.43 431.03 200.81 432.4 198.12 433.77 195.15 435.14 191.68 436.51 188.57 437.88 186.08 439.25 184.33 439.75 183.9 443.54 181.45 447.33 179.44 451.11 177.78 454.9 176.43 458.69 175.3 462.48 174.32 466.26 173.44 470.05 172.58 473.84 171.67 477.63 170.64 481.42 169.46 485.2 168.23 488.99 167 492.78 165.76 496.57 164.53 500.35 163.3 504.14 162.09 507.93 160.9 511.72 159.73 515.51 158.59 519.29 157.49 523.08 156.43 526.87 155.42 530.66 154.46 534.45 153.55 538.23 152.72 542.02 151.94 545.81 151.2 549.6 150.48 553.38 149.79 557.17 149.11 560.96 148.46 564.75 147.82 568.54 147.2 572.32 146.6 576.11 146.01 579.9 145.44 583.69 144.88 587.47 144.34 591.26 143.81 595.05 143.28 598.84 142.77 602.63 142.27 606.41 141.77 610.2 141.28 613.99 140.8 617.78 140.32 621.56 139.84 625.35 139.37 629.14 138.89 632.93 138.42 636.72 137.95 640.5 137.47 644.29 137 648.08 136.53 651.87 136.06 655.66 135.59 659.44 135.12 663.23 134.66 667.02 134.2 670.81 133.75 674.59 133.3 678.38 132.85 682.17 132.4 685.96 131.96 689.75 131.53 693.53 131.09 697.32 130.67 701.11 130.24 704.9 129.82 708.68 129.41 712.47 129 716.26 128.6 720.05 128.2 723.84 127.81 727.62 127.42 731.41 127.04 735.2 126.66 738.99 126.29 742.78 125.93 746.56 125.57 750.35 125.22 754.14 124.88 757.93 124.54 761.71 124.21 765.5 123.89 769.29 123.58 773.08 123.26 776.87 122.95 780.65 122.64 784.44 122.33 788.23 122.03 792.02 121.73 795.8 121.43 799.59 121.14 803.38 120.85 807.17 120.56 810.96 120.28 814.74 120 818.53 119.73 822.32 119.45 826.11 119.19 829.89 118.92 833.68 118.66 837.47 118.41 841.26 118.16 845.05 117.91 848.83 117.67 852.62 117.43 856.41 117.2 860.2 116.97 863.99 116.74 867.77 116.53 871.56 116.31 875.35 116.1 879.14 115.9 882.92 115.7 886.71 115.51 890.5 115.32" stroke="#0050ff" stroke-width="7.4" fill="none" stroke-linejoin="round" stroke-linecap="round"/>
<path d="M143.4 515.44 144.77 525.98 146.14 532.63 147.51 522.76 148.88 519.7 150.25 531.23 151.62 539.46 152.99 537.09 154.36 522.37 155.73 518.11 157.1 523.53 158.47 518.92 159.84 511.6 161.21 517.41 162.58 532.38 163.95 541.93 165.31 535.73 166.68 519.28 168.05 513.75 169.42 506.24 170.79 506.96 172.16 514.58 173.53 514.45 174.9 509.02 176.27 508.63 177.64 513.34 179.01 518.12 180.38 514.09 181.75 523.77 183.12 535.23 184.49 520.13 185.86 502.08 187.23 492.83 188.6 506.57 189.97 508.2 191.34 496.44 192.71 500.24 194.08 510.03 195.45 517.72 196.82 510.53 198.19 500.96 199.56 504.01 200.93 508.32 202.3 503.66 203.67 496.72 205.04 499.49 206.41 498.88 207.78 498.36 209.14 501.55 210.51 502.3 211.88 493.67 213.25 486.86 214.62 498.88 215.99 510.69 217.36 512.35 218.73 503.61 220.1 500.46 221.47 500.2 222.84 503.03 224.21 504.65 225.58 496.97 226.95 494.16 228.32 495.14 229.69 492.02 231.06 489.36 232.43 494.77 233.8 496.02 235.17 492.85 236.54 496.83 237.91 507.35 239.28 510.53 240.65 504.76 242.02 503.64 243.39 498.34 244.76 491.85 246.13 487.28 247.5 483.61 248.87 487.98 250.24 493.11 251.6 495.33 252.97 492.32 254.34 488.4 255.71 488.85 257.08 488.75 258.45 485.02 259.82 487.77 261.19 495.55 262.56 498.41 263.93 488.36 265.3 484.83 266.67 486.36 268.04 490.95 269.41 493.03 270.78 487.95 272.15 484.03 273.52 483.87 274.89 484.92 276.26 483.88 277.63 480.85 279 480.63 280.37 480.52 281.74 473.78 283.11 467.03 284.48 469.5 285.85 476.41 287.22 481.14 288.59 482.68 289.96 482.13 291.33 490.5 292.7 485.18 294.07 473.8 295.43 468.6 296.8 471.85 298.17 483.18 299.54 488.32 300.91 479.61 302.28 469.72 303.65 467.25 305.02 469.07 306.39 470.3 307.76 464.95 309.13 462.4 310.5 464.97 311.87 459.53 313.24 447.34 314.61 451.81 315.98 458.25 317.35 458.53 318.72 459.38 320.09 453.48 321.46 437.37 322.83 441.56 324.2 455.04 325.57 448.22 326.94 438.97 328.31 447.76 329.68 446.4 331.05 441.75 332.42 447.41 333.79 449.38 335.16 454.36 336.53 461.07 337.9 451.69 339.26 444.03 340.63 430.7 342 421.25 343.37 432 344.74 441.39 346.11 440.19 347.48 437.02 348.85 439.91 350.22 452.14 351.59 463.03 352.96 457.76 354.33 441.45 355.7 438.07 357.07 442.47 358.44 444.9 359.81 444.8 361.18 443.64 362.55 438.86 363.92 431.75 365.29 423.43 366.66 427.36 368.03 433.49 369.4 429.87 370.77 420.96 372.14 418.63 373.51 418.62 374.88 413.47 376.25 415.71 377.62 427.47 378.99 436.98 380.36 434.33 381.72 423.28 383.09 421.3 384.46 423.46 385.83 419.03 387.2 412.73 388.57 411.39 389.94 409.45 391.31 406.02 392.68 409.08 394.05 402.32 395.42 387.06 396.79 389.65 398.16 392.34 399.53 388.03 400.9 377.64 402.27 366.59 403.64 359.43 405.01 358.8 406.38 360.33 407.75 358.87 409.12 345.92 410.49 330.63 411.86 327.02 413.23 327.38 414.6 323.97 415.97 321.35 417.34 319.82 418.71 318.28 420.08 311.64 421.45 304.92 422.82 299.66 424.19 289.95 425.55 280.17 426.92 280.69 428.29 284.85 429.66 283.99 431.03 279.03 432.4 269.75 433.77 257.26 435.14 246.26 436.51 236.9 437.88 228.65 439.25 221.82 440.62 216.53 441.99 210.68 443.36 203.48 444.73 200.11 446.1 198.58 447.47 196.36 448.84 193.32 450.21 190.62 451.58 188.42 452.95 186.95 454.32 185.84 455.69 184.97 455.69 184.97 459.34 182.78 463 180.93 466.65 179.35 470.3 177.99 473.96 176.79 477.61 175.7 481.26 174.67 484.92 173.65 488.57 172.58 492.23 171.4 495.88 170.16 499.53 168.91 503.19 167.66 506.84 166.42 510.5 165.19 514.15 163.99 517.8 162.81 521.46 161.66 525.11 160.56 528.77 159.5 532.42 158.5 536.07 157.56 539.73 156.68 543.38 155.87 547.03 155.07 550.69 154.29 554.34 153.53 558 152.8 561.65 152.08 565.3 151.37 568.96 150.69 572.61 150.02 576.27 149.37 579.92 148.73 583.57 148.1 587.23 147.49 590.88 146.89 594.54 146.31 598.19 145.73 601.84 145.16 605.5 144.61 609.15 144.06 612.8 143.52 616.46 142.99 620.11 142.46 623.77 141.94 627.42 141.43 631.07 140.92 634.73 140.41 638.38 139.91 642.04 139.41 645.69 138.91 649.34 138.41 653 137.92 656.65 137.43 660.31 136.94 663.96 136.46 667.61 135.98 671.27 135.51 674.92 135.04 678.57 134.57 682.23 134.11 685.88 133.66 689.54 133.21 693.19 132.76 696.84 132.32 700.5 131.89 704.15 131.46 707.81 131.03 711.46 130.62 715.11 130.21 718.77 129.8 722.42 129.41 726.08 129.02 729.73 128.64 733.38 128.26 737.04 127.89 740.69 127.53 744.34 127.18 748 126.84 751.65 126.5 755.31 126.18 758.96 125.86 762.61 125.55 766.27 125.25 769.92 124.96 773.58 124.66 777.23 124.37 780.88 124.09 784.54 123.8 788.19 123.52 791.85 123.24 795.5 122.97 799.15 122.7 802.81 122.43 806.46 122.17 810.11 121.91 813.77 121.65 817.42 121.4 821.08 121.15 824.73 120.91 828.38 120.67 832.04 120.44 835.69 120.21 839.35 119.99 843 119.77 846.65 119.55 850.31 119.35 853.96 119.14 857.62 118.95 861.27 118.76 864.92 118.57 868.58 118.39 872.23 118.22 875.88 118.05 879.54 117.89 883.19 117.74 886.85 117.6 890.5 117.46" stroke="#00aaff" stroke-width="7.4" fill="none" stroke-linejoin="round" stroke-linecap="round"/>
<path d="M143.4 535.44 144.77 530.59 146.14 534.02 147.51 537.81 148.88 526.95 150.25 515.53 151.62 512.44 152.99 516.04 154.36 513.65 155.73 506.3 157.1 499.1 158.47 503.65 159.84 518.08 161.21 518.23 162.58 503.22 163.95 495.6 165.31 512.64 166.68 534.25 168.05 547.07 169.42 548.15 170.79 526.61 172.16 518.64 173.53 518.48 174.9 515.52 176.27 510.53 177.64 511.58 179.01 508.59 180.38 508.21 181.75 510.71 183.12 512.93 184.49 517.22 185.86 519.49 187.23 513.18 188.6 509.16 189.97 510.71 191.34 507.72 192.71 511.46 194.08 519.93 195.45 521.39 196.82 521.25 198.19 520.69 199.56 517.45 200.93 519.23 202.3 516.88 203.67 511.61 205.04 506.96 206.41 498.88 207.78 493.78 209.14 506.33 210.51 513.12 211.88 515.04 213.25 506.87 214.62 494.97 215.99 498.48 217.36 509.04 218.73 508.32 220.1 501.33 221.47 501.78 222.84 504.56 224.21 505.9 225.58 496.29 226.95 492.72 228.32 502.85 229.69 509.71 231.06 508.84 232.43 505.62 233.8 504.67 235.17 505.72 236.54 505.4 237.91 501.17 239.28 503.38 240.65 521.3 242.02 532.87 243.39 529.6 244.76 524.72 246.13 518.39 247.5 505.13 248.87 502.4 250.24 505.14 251.6 506.22 252.97 502.01 254.34 499.64 255.71 500.58 257.08 502.07 258.45 502.42 259.82 504.63 261.19 507.88 262.56 524.71 263.93 522.15 265.3 509.13 266.67 501.31 268.04 499.1 269.41 494.94 270.78 494.36 272.15 484.52 273.52 485.1 274.89 489.97 276.26 481.7 277.63 471.3 279 487.38 280.37 499.48 281.74 492.9 283.11 493.1 284.48 499.51 285.85 496.04 287.22 496.28 288.59 492.29 289.96 490.26 291.33 490.65 292.7 489.94 294.07 492.41 295.43 491.42 296.8 489.81 298.17 483.38 299.54 472.82 300.91 482.55 302.28 491.56 303.65 491.86 305.02 489.59 306.39 484.75 307.76 481.95 309.13 481.3 310.5 481.85 311.87 481.52 313.24 476.14 314.61 473.71 315.98 479.14 317.35 479.09 318.72 473.23 320.09 463.39 321.46 466.81 322.83 476.53 324.2 482.98 325.57 490.86 326.94 487.09 328.31 474.55 329.68 466.07 331.05 465.66 332.42 474.16 333.79 479.82 335.16 472.75 336.53 469.22 337.9 466.48 339.26 463.53 340.63 459.22 342 456.66 343.37 459.4 344.74 463.04 346.11 462.28 347.48 463.98 348.85 458.24 350.22 448.21 351.59 457.41 352.96 461.99 354.33 450.37 355.7 441.96 357.07 445.31 358.44 452.5 359.81 457 361.18 459.51 362.55 457.54 363.92 451.21 365.29 455.75 366.66 459.08 368.03 453.02 369.4 438.53 370.77 441.47 372.14 451.48 373.51 451.44 374.88 446.76 376.25 449.25 377.62 453.96 378.99 450.01 380.36 450.38 381.72 453.87 383.09 448.72 384.46 436.8 385.83 428.82 387.2 436.12 388.57 442.89 389.94 444.64 391.31 440.95 392.68 441.31 394.05 448.96 395.42 445.76 396.79 441.7 398.16 447.52 399.53 441.87 400.9 436.89 402.27 441.71 403.64 435.42 405.01 425.23 406.38 421.34 407.75 420.15 409.12 412.19 410.49 403.17 411.86 395.24 413.23 392.39 414.6 395.92 415.97 400.39 417.34 410.49 418.71 410.74 420.08 399.13 421.45 384.89 422.82 378.15 424.19 380.86 425.55 378.86 426.92 376.11 428.29 365.23 429.66 349.67 431.03 338.95 432.4 330.22 433.77 331.7 435.14 338.04 436.51 334.43 437.88 322.36 439.25 320.69 440.62 319.72 441.99 312.81 443.36 309.44 444.73 308.71 446.1 305.15 447.47 300.32 448.84 296.06 450.21 293.04 451.58 292.26 452.95 289.6 454.32 284.62 455.69 279.61 457.06 276.6 458.43 276.6 459.8 275.18 461.17 270.8 462.54 264.89 463.91 262.03 465.28 257.74 466.65 251.91 468.01 245.04 469.38 239.98 470.75 237.93 472.12 233.48 473.49 226.59 474.86 219.11 476.23 215.36 477.6 212.92 478.97 205.91 480.34 198.84 481.71 193.59 483.08 189.98 484.45 186.37 485.82 183.1 487.19 181.03 487.56 180.7 490.95 178.44 494.34 176.45 497.72 174.71 501.11 173.19 504.49 171.87 507.88 170.73 511.27 169.73 514.65 168.86 518.04 168.09 521.42 167.39 524.81 166.73 528.2 166.1 531.58 165.47 534.97 164.81 538.35 164.1 541.74 163.32 545.13 162.55 548.51 161.79 551.9 161.06 555.28 160.34 558.67 159.65 562.06 158.97 565.44 158.3 568.83 157.65 572.21 157.02 575.6 156.4 578.99 155.79 582.37 155.2 585.76 154.62 589.14 154.04 592.53 153.48 595.92 152.93 599.3 152.38 602.69 151.84 606.07 151.31 609.46 150.78 612.85 150.26 616.23 149.74 619.62 149.22 623 148.7 626.39 148.19 629.78 147.67 633.16 147.16 636.55 146.64 639.93 146.12 643.32 145.59 646.71 145.07 650.09 144.55 653.48 144.02 656.86 143.5 660.25 142.97 663.64 142.45 667.02 141.93 670.41 141.41 673.79 140.89 677.18 140.37 680.57 139.86 683.95 139.35 687.34 138.84 690.73 138.34 694.11 137.84 697.5 137.34 700.88 136.85 704.27 136.37 707.66 135.89 711.04 135.41 714.43 134.95 717.81 134.49 721.2 134.03 724.59 133.58 727.97 133.14 731.36 132.71 734.74 132.29 738.13 131.87 741.52 131.47 744.9 131.07 748.29 130.68 751.67 130.3 755.06 129.94 758.45 129.58 761.83 129.23 765.22 128.9 768.6 128.57 771.99 128.25 775.38 127.93 778.76 127.61 782.15 127.3 785.53 126.99 788.92 126.68 792.31 126.37 795.69 126.07 799.08 125.77 802.46 125.48 805.85 125.19 809.24 124.9 812.62 124.62 816.01 124.34 819.39 124.07 822.78 123.8 826.17 123.54 829.55 123.28 832.94 123.02 836.32 122.77 839.71 122.53 843.1 122.29 846.48 122.05 849.87 121.83 853.25 121.6 856.64 121.39 860.03 121.18 863.41 120.98 866.8 120.78 870.18 120.59 873.57 120.4 876.96 120.23 880.34 120.06 883.73 119.89 887.11 119.74 890.5 119.59" stroke="#00ffff" stroke-width="7.4" fill="none" stroke-linejoin="round" stroke-linecap="round"/>
<path d="M143.4 531.06 144.77 523.94 146.14 520.84 147.51 532.4 148.88 544.32 150.25 543.18 151.62 542.24 152.99 542.78 154.36 534.05 155.73 531.32 157.1 528.94 158.47 527.79 159.84 525.46 161.21 521.47 162.58 528.97 163.95 532.1 165.31 526.52 166.68 522.45 168.05 527.64 169.42 529.97 170.79 523.05 172.16 511 173.53 507.11 174.9 519.39 176.27 526.52 177.64 534.36 179.01 537.82 180.38 527.1 181.75 524.03 183.12 531.11 184.49 536.69 185.86 530.01 187.23 521.72 188.6 522.17 189.97 523.37 191.34 526.3 192.71 528.01 194.08 536.99 195.45 543.71 196.82 529.25 198.19 526.01 199.56 536.08 200.93 532.38 202.3 529.67 203.67 532.32 205.04 534.5 206.41 534.68 207.78 520.64 209.14 516.35 210.51 521.64 211.88 517.9 213.25 508.91 214.62 514.95 215.99 522.74 217.36 524.76 218.73 519.13 220.1 516.52 221.47 517.31 222.84 520.2 224.21 515.57 225.58 514.24 226.95 515.65 228.32 523.38 229.69 531.17 231.06 529.43 232.43 525.84 233.8 517.24 235.17 507.9 236.54 503.36 237.91 510.84 239.28 516.43 240.65 514.73 242.02 507.24 243.39 504.14 244.76 511.52 246.13 515.59 247.5 515.89 248.87 511.47 250.24 514.5 251.6 529.84 252.97 523.95 254.34 525.23 255.71 530.65 257.08 516.73 258.45 509.8 259.82 510.42 261.19 509.16 262.56 498.12 263.93 501.09 265.3 503.4 266.67 494.22 268.04 491.93 269.41 493.68 270.78 502.67 272.15 509.32 273.52 503.44 274.89 502.24 276.26 501.44 277.63 500.85 279 504.59 280.37 502.08 281.74 498.22 283.11 500.64 284.48 505.5 285.85 519.32 287.22 524.16 288.59 512.13 289.96 488.81 291.33 463.95 292.7 482.65 294.07 498.39 295.43 497.19 296.8 490.81 298.17 494.67 299.54 499.03 300.91 495.2 302.28 493.39 303.65 498.76 305.02 516 306.39 515.98 307.76 505.39 309.13 505.22 310.5 496.58 311.87 491.54 313.24 490.62 314.61 489.61 315.98 488.88 317.35 490.29 318.72 491.62 320.09 480.72 321.46 458.7 322.83 463.55 324.2 477.89 325.57 487.08 326.94 490.89 328.31 489.4 329.68 486.98 331.05 487.07 332.42 500.4 333.79 512.92 335.16 495.51 336.53 473.69 337.9 456.23 339.26 470.25 340.63 486.35 342 491.83 343.37 492.64 344.74 492.25 346.11 497.23 347.48 496.38 348.85 483.44 350.22 479.55 351.59 478.51 352.96 469.73 354.33 460.93 355.7 471.08 357.07 477.25 358.44 478.14 359.81 482.58 361.18 479.61 362.55 482 363.92 481.88 365.29 472.45 366.66 464.79 368.03 469.53 369.4 468.37 370.77 472.03 372.14 476.32 373.51 473.51 374.88 480.33 376.25 489.55 377.62 485.62 378.99 476.1 380.36 469.31 381.72 466.42 383.09 459.25 384.46 464.15 385.83 472.34 387.2 474.63 388.57 476.82 389.94 493.23 391.31 497.68 392.68 477.89 394.05 462.63 395.42 459.99 396.79 462.14 398.16 470.93 399.53 482.14 400.9 479.35 402.27 471.7 403.64 459.24 405.01 456.59 406.38 456.31 407.75 453.53 409.12 451.89 410.49 452 411.86 454.26 413.23 460.75 414.6 462.05 415.97 449.97 417.34 435.81 418.71 437.82 420.08 445.48 421.45 447.3 422.82 448.39 424.19 448.12 425.55 447.67 426.92 439.73 428.29 424.53 429.66 423.11 431.03 431.21 432.4 442.23 433.77 445.17 435.14 437.04 436.51 429.01 437.88 421.72 439.25 413.59 440.62 406.65 441.99 394.97 443.36 394.16 444.73 398.33 446.1 395.39 447.47 391.32 448.84 388.72 450.21 389.96 451.58 388.84 452.95 393.23 454.32 411.48 455.69 408.2 457.06 389.31 458.43 379.97 459.8 373.78 461.17 374.6 462.54 374.46 463.91 367.41 465.28 361.85 466.65 356.36 468.01 350.57 469.38 347.57 470.75 351.34 472.12 353.31 473.49 343.11 474.86 329.81 476.23 329.5 477.6 333.28 478.97 330.87 480.34 324.13 481.71 315.79 483.08 309.2 484.45 305.19 485.82 303.38 487.19 301.22 488.56 296.13 489.93 289.42 491.3 288.19 492.67 288.67 494.04 289.22 495.41 281.22 496.78 274.76 498.15 273.64 499.52 276.62 500.89 268.78 502.26 259.01 503.63 252.17 505 245.62 506.37 238.12 507.74 231.75 509.11 228.16 510.48 224.71 511.84 221 513.21 217.03 514.58 213.36 515.95 210.9 517.32 206.4 518.69 199.94 520.06 195.47 521.43 190.68 522.8 186.11 524.17 182.19 525.54 179.31 526.91 177.51 527.41 177.15 530.46 175.61 533.51 174.31 536.56 173.2 539.61 172.26 542.67 171.47 545.72 170.8 548.77 170.22 551.82 169.7 554.87 169.22 557.92 168.75 560.97 168.26 564.02 167.73 567.07 167.13 570.13 166.51 573.18 165.9 576.23 165.31 579.28 164.73 582.33 164.17 585.38 163.62 588.43 163.08 591.48 162.56 594.54 162.04 597.59 161.53 600.64 161.02 603.69 160.53 606.74 160.03 609.79 159.54 612.84 159.06 615.89 158.57 618.94 158.09 622 157.6 625.05 157.12 628.1 156.62 631.15 156.13 634.2 155.63 637.25 155.12 640.3 154.61 643.35 154.08 646.41 153.55 649.46 153.01 652.51 152.46 655.56 151.91 658.61 151.35 661.66 150.78 664.71 150.21 667.76 149.63 670.81 149.05 673.87 148.47 676.92 147.89 679.97 147.3 683.02 146.72 686.07 146.13 689.12 145.55 692.17 144.97 695.22 144.38 698.28 143.8 701.33 143.23 704.38 142.66 707.43 142.09 710.48 141.53 713.53 140.98 716.58 140.43 719.63 139.89 722.69 139.36 725.74 138.83 728.79 138.32 731.84 137.82 734.89 137.32 737.94 136.84 740.99 136.37 744.04 135.92 747.09 135.48 750.15 135.05 753.2 134.64 756.25 134.24 759.3 133.86 762.35 133.5 765.4 133.15 768.45 132.82 771.5 132.49 774.56 132.16 777.61 131.84 780.66 131.52 783.71 131.2 786.76 130.88 789.81 130.57 792.86 130.25 795.91 129.95 798.96 129.64 802.02 129.34 805.07 129.05 808.12 128.76 811.17 128.47 814.22 128.19 817.27 127.91 820.32 127.64 823.37 127.37 826.43 127.11 829.48 126.85 832.53 126.6 835.58 126.35 838.63 126.11 841.68 125.88 844.73 125.65 847.78 125.43 850.83 125.22 853.89 125.01 856.94 124.81 859.99 124.62 863.04 124.44 866.09 124.26 869.14 124.09 872.19 123.93 875.24 123.78 878.3 123.63 881.35 123.5 884.4 123.37 887.45 123.25 890.5 123.14" stroke="#55ffaa" stroke-width="7.4" fill="none" stroke-linejoin="round" stroke-linecap="round"/>
<path d="M143.4 540.1 144.77 541.1 146.14 542.08 147.51 542.64 148.88 540.57 150.25 539.49 151.62 540.65 152.99 550.95 154.36 558.4 155.73 551.76 157.1 551.36 158.47 558.3 159.84 560.11 161.21 557.01 162.58 546.36 163.95 539.86 165.31 530.42 166.68 516.27 168.05 524.89 169.42 531.8 170.79 533.7 172.16 537.52 173.53 537.64 174.9 532.25 176.27 537.74 177.64 557.71 179.01 552.06 180.38 542.69 181.75 537.11 183.12 532.45 184.49 533.52 185.86 534.24 187.23 537.3 188.6 537.28 189.97 534.99 191.34 538.87 192.71 543.72 194.08 548.17 195.45 542.45 196.82 532.79 198.19 533.41 199.56 543.11 200.93 536.65 202.3 524.42 203.67 532.68 205.04 538.97 206.41 536.06 207.78 537.77 209.14 533.84 210.51 525.37 211.88 522.7 213.25 525.3 214.62 524.31 215.99 529.94 217.36 533.17 218.73 533.2 220.1 531.56 221.47 529.2 222.84 530.44 224.21 534.46 225.58 534.47 226.95 536.5 228.32 536.47 229.69 529.82 231.06 522.87 232.43 518.59 233.8 511.59 235.17 512.8 236.54 526.84 237.91 535.59 239.28 535.38 240.65 527.07 242.02 516.75 243.39 518.78 244.76 527.39 246.13 521.01 247.5 505.07 248.87 500.72 250.24 517.79 251.6 531.43 252.97 544.11 254.34 546.52 255.71 546.25 257.08 546.17 258.45 546.79 259.82 543.96 261.19 530.83 262.56 522.44 263.93 519.33 265.3 519.05 266.67 514.45 268.04 520.22 269.41 532.58 270.78 538.29 272.15 540.8 273.52 536.15 274.89 525.68 276.26 518.1 277.63 502.29 279 496.81 280.37 511.52 281.74 521.19 283.11 522.4 284.48 520.55 285.85 520.02 287.22 521.2 288.59 519.39 289.96 516.01 291.33 505.89 292.7 495.66 294.07 500.26 295.43 518.29 296.8 536.87 298.17 541.58 299.54 536.14 300.91 540.2 302.28 540.56 303.65 531.06 305.02 521.27 306.39 508.16 307.76 498.85 309.13 509.32 310.5 517.37 311.87 524.53 313.24 521.77 314.61 524.61 315.98 532.73 317.35 526.78 318.72 514.95 320.09 523.79 321.46 526.85 322.83 514.65 324.2 508.88 325.57 507.99 326.94 510.28 328.31 511.52 329.68 507.65 331.05 509.03 332.42 510.77 333.79 503.55 335.16 502.74 336.53 506.84 337.9 519.51 339.26 525.07 340.63 518.44 342 509.93 343.37 506.53 344.74 512.77 346.11 512.36 347.48 508.92 348.85 503.22 350.22 501.81 351.59 497.98 352.96 486.92 354.33 490.52 355.7 498.73 357.07 506.35 358.44 505.14 359.81 500.45 361.18 500.3 362.55 506.18 363.92 522.7 365.29 536.12 366.66 522.87 368.03 509.48 369.4 497.98 370.77 482.48 372.14 470.21 373.51 476.33 374.88 480.86 376.25 482.48 377.62 484 378.99 488.35 380.36 493.21 381.72 492.94 383.09 484.13 384.46 470.9 385.83 469.9 387.2 479.37 388.57 490.45 389.94 489.13 391.31 485 392.68 488.37 394.05 505.29 395.42 520.61 396.79 514.57 398.16 486.95 399.53 468.47 400.9 477.71 402.27 486.4 403.64 483.18 405.01 480.48 406.38 480.31 407.75 485.31 409.12 489.86 410.49 480.76 411.86 470.79 413.23 464.54 414.6 465.49 415.97 469.7 417.34 465.58 418.71 463.43 420.08 460.4 421.45 456.23 422.82 459.71 424.19 458.94 425.55 453.67 426.92 449.18 428.29 444.3 429.66 442.32 431.03 448.4 432.4 447.14 433.77 436.64 435.14 443.81 436.51 452.71 437.88 464.14 439.25 474.48 440.62 463.02 441.99 448.65 443.36 442.99 444.73 439.87 446.1 433.38 447.47 427.8 448.84 429.91 450.21 436.44 451.58 439.22 452.95 440.49 454.32 438.16 455.69 434.4 457.06 437.46 458.43 437.08 459.8 438.33 461.17 442.53 462.54 433.32 463.91 429.89 465.28 429.59 466.65 433.94 468.01 437.23 469.38 428.61 470.75 421.61 472.12 416.83 473.49 422.73 474.86 426.24 476.23 417.7 477.6 409.24 478.97 410.17 480.34 415.72 481.71 418.73 483.08 416.2 484.45 407.1 485.82 396.52 487.19 410.49 488.56 419.03 489.93 412.92 491.3 407.33 492.67 415.27 494.04 420 495.41 406.04 496.78 401.85 498.15 403.8 499.52 402.8 500.89 406.58 502.26 404.47 503.63 396.08 505 392.93 506.37 389.32 507.74 385.04 509.11 382.2 510.48 385.76 511.84 390.28 513.21 381.52 514.58 375.97 515.95 370.22 517.32 365.37 518.69 363.86 520.06 371.28 521.43 379.49 522.8 370.22 524.17 362.43 525.54 360.66 526.91 357 528.28 348.92 529.65 346.49 531.02 344.5 532.39 346.92 533.76 351.95 535.13 348.03 536.5 337.86 537.87 331.67 539.24 332.06 540.61 332.5 541.98 326.29 543.35 318.83 544.72 312.91 546.09 303.69 547.46 293.4 548.83 293.63 550.2 294.02 551.57 288.17 552.94 278.8 554.31 277.56 555.67 279.32 557.04 281.92 558.41 278.32 559.78 268.41 561.15 262.29 562.52 260.21 563.89 253.76 565.26 245.62 566.63 240.85 568 231.2 569.37 218.71 570.74 210.71 572.11 205.09 573.48 199.47 574.85 195.19 576.22 192.37 577.59 189.07 578.96 185.66 580.33 183.37 581.7 181.73 583.07 180.74 583.19 180.7 585.78 180.05 588.36 179.58 590.94 179.23 593.52 178.96 596.1 178.72 598.69 178.46 601.27 178.13 603.85 177.67 606.43 177.14 609.02 176.55 611.6 175.9 614.18 175.21 616.76 174.48 619.35 173.71 621.93 172.92 624.51 172.11 627.09 171.29 629.68 170.46 632.26 169.63 634.84 168.81 637.42 168 640.01 167.22 642.59 166.46 645.17 165.73 647.75 165.05 650.34 164.39 652.92 163.74 655.5 163.09 658.08 162.44 660.67 161.8 663.25 161.16 665.83 160.53 668.41 159.9 670.99 159.28 673.58 158.66 676.16 158.04 678.74 157.44 681.32 156.83 683.91 156.24 686.49 155.65 689.07 155.06 691.65 154.49 694.24 153.91 696.82 153.35 699.4 152.79 701.98 152.24 704.57 151.7 707.15 151.16 709.73 150.63 712.31 150.11 714.9 149.6 717.48 149.1 720.06 148.6 722.64 148.11 725.23 147.62 727.81 147.14 730.39 146.67 732.97 146.2 735.56 145.74 738.14 145.28 740.72 144.83 743.3 144.39 745.88 143.96 748.47 143.54 751.05 143.12 753.63 142.71 756.21 142.32 758.8 141.93 761.38 141.55 763.96 141.19 766.54 140.83 769.13 140.48 771.71 140.13 774.29 139.78 776.87 139.44 779.46 139.09 782.04 138.75 784.62 138.41 787.2 138.07 789.79 137.73 792.37 137.4 794.95 137.07 797.53 136.74 800.12 136.41 802.7 136.09 805.28 135.77 807.86 135.45 810.45 135.13 813.03 134.82 815.61 134.51 818.19 134.21 820.77 133.9 823.36 133.61 825.94 133.31 828.52 133.02 831.1 132.73 833.69 132.45 836.27 132.17 838.85 131.89 841.43 131.62 844.02 131.35 846.6 131.09 849.18 130.83 851.76 130.58 854.35 130.33 856.93 130.09 859.51 129.85 862.09 129.61 864.68 129.39 867.26 129.16 869.84 128.94 872.42 128.73 875.01 128.52 877.59 128.32 880.17 128.13 882.75 127.94 885.34 127.75 887.92 127.58 890.5 127.4" stroke="#aaff55" stroke-width="7.4" fill="none" stroke-linejoin="round" stroke-linecap="round"/>
<path d="M143.4 545.22 144.77 540.68 146.14 544.99 147.51 545.46 148.88 542.88 150.25 537.21 151.62 535.33 152.99 541.27 154.36 542.51 155.73 549.5 157.1 554.71 158.47 551.62 159.84 547.27 161.21 544.26 162.58 540.07 163.95 531.03 165.31 521.02 166.68 530.55 168.05 539.61 169.42 538.07 170.79 537.96 172.16 544.21 173.53 552.51 174.9 549.52 176.27 540.61 177.64 532.87 179.01 534.22 180.38 537.63 181.75 538.86 183.12 540.39 184.49 534.01 185.86 521.2 187.23 517.21 188.6 524.46 189.97 536.88 191.34 541.52 192.71 542.1 194.08 539.52 195.45 543.82 196.82 551.73 198.19 547.76 199.56 548.83 200.93 561.96 202.3 554.23 203.67 538.44 205.04 536.55 206.41 541.95 207.78 542.04 209.14 528.07 210.51 521.06 211.88 532.08 213.25 538.96 214.62 533.52 215.99 528.87 217.36 536.65 218.73 540.06 220.1 538.76 221.47 536.27 222.84 538.16 224.21 545.52 225.58 556.12 226.95 549.9 228.32 530.53 229.69 514.28 231.06 514.29 232.43 522.11 233.8 534.16 235.17 536.1 236.54 533.59 237.91 529.88 239.28 529.5 240.65 539.73 242.02 544.54 243.39 541.79 244.76 538.46 246.13 537.57 247.5 540.02 248.87 530.15 250.24 521.13 251.6 519.06 252.97 507.51 254.34 503.31 255.71 517.05 257.08 523.72 258.45 525.69 259.82 530.25 261.19 535.68 262.56 536.37 263.93 532.9 265.3 530.62 266.67 524.16 268.04 524.36 269.41 530.39 270.78 530.42 272.15 529.99 273.52 527.68 274.89 522.86 276.26 526.83 277.63 534.13 279 541.57 280.37 538.1 281.74 538.84 283.11 530.5 284.48 510.65 285.85 509.45 287.22 528.92 288.59 535.89 289.96 531.14 291.33 529.61 292.7 530.53 294.07 530.25 295.43 519.18 296.8 518.39 298.17 533.16 299.54 539.23 300.91 532.69 302.28 530.66 303.65 536.73 305.02 531.81 306.39 529.2 307.76 529.22 309.13 530.52 310.5 543.98 311.87 546.66 313.24 533.11 314.61 524.83 315.98 526.09 317.35 527.73 318.72 524.89 320.09 526.66 321.46 528.74 322.83 523.99 324.2 510.48 325.57 502.17 326.94 518.26 328.31 522.6 329.68 521.93 331.05 517.16 332.42 505.33 333.79 504.52 335.16 513.52 336.53 522.11 337.9 524.75 339.26 521.29 340.63 521.33 342 521.02 343.37 520.36 344.74 525.87 346.11 523.14 347.48 515.82 348.85 513.54 350.22 515.42 351.59 518 352.96 516.55 354.33 513.72 355.7 503.86 357.07 500.18 358.44 499.77 359.81 498.05 361.18 507.21 362.55 510.74 363.92 501.74 365.29 498.8 366.66 499.44 368.03 502.21 369.4 507.52 370.77 518.83 372.14 530.15 373.51 525.87 374.88 520.32 376.25 533.51 377.62 541.41 378.99 529.07 380.36 513.35 381.72 510.11 383.09 510.86 384.46 504.93 385.83 497.94 387.2 492.78 388.57 498.55 389.94 508.42 391.31 509.02 392.68 506.81 394.05 503.86 395.42 503.41 396.79 502.64 398.16 499.98 399.53 499.56 400.9 499.29 402.27 502.24 403.64 501.32 405.01 492.45 406.38 485.11 407.75 484.79 409.12 493.05 410.49 500.74 411.86 502.38 413.23 506.6 414.6 517.42 415.97 509.23 417.34 497.67 418.71 505.71 420.08 522.63 421.45 511.16 422.82 502.74 424.19 498.21 425.55 478.23 426.92 473.82 428.29 485.05 429.66 492.48 431.03 489.81 432.4 486.23 433.77 491.67 435.14 497.2 436.51 495.66 437.88 493.26 439.25 495.5 440.62 497.8 441.99 495.01 443.36 491.79 444.73 490.95 446.1 493.96 447.47 495.8 448.84 488.42 450.21 488.16 451.58 495.73 452.95 497.15 454.32 496.01 455.69 490.13 457.06 478.91 458.43 468.98 459.8 466.26 461.17 481.71 462.54 491.42 463.91 495.77 465.28 493.79 466.65 478.71 468.01 472.64 469.38 476.56 470.75 481.51 472.12 485.2 473.49 485.68 474.86 486.05 476.23 482.89 477.6 479.82 478.97 477.71 480.34 472.28 481.71 474.28 483.08 474.4 484.45 478.48 485.82 480.81 487.19 472.68 488.56 470 489.93 470.69 491.3 471.31 492.67 470.59 494.04 468.09 495.41 467.42 496.78 464.24 498.15 463.2 499.52 471.15 500.89 475 502.26 474.27 503.63 476.51 505 475.73 506.37 466.28 507.74 460.45 509.11 463.29 510.48 465.19 511.84 455.21 513.21 449.32 514.58 454.18 515.95 460.38 517.32 452.09 518.69 431.24 520.06 424.69 521.43 438.69 522.8 443.27 524.17 434.89 525.54 427.52 526.91 425.57 528.28 431.58 529.65 432.36 531.02 430.83 532.39 429.73 533.76 430.18 535.13 428.83 536.5 431.74 537.87 433.39 539.24 429.1 540.61 432.29 541.98 441.87 543.35 434.07 544.72 426.17 546.09 417.94 547.46 412.69 548.83 422.24 550.2 429.39 551.57 438.71 552.94 437.17 554.31 424.92 555.67 415.36 557.04 409.65 558.41 402.13 559.78 395.49 561.15 394.67 562.52 397.68 563.89 398.25 565.26 397.5 566.63 393.95 568 392.89 569.37 404.27 570.74 416.45 572.11 394.64 573.48 376.51 574.85 382.14 576.22 386.83 577.59 382.75 578.96 376.08 580.33 378.32 581.7 383.25 583.07 387.89 584.44 385.84 585.81 380.28 587.18 368.67 588.55 354.78 589.92 354.87 591.29 360.16 592.66 363.57 594.03 357.01 595.4 343.91 596.77 334.97 598.13 331.58 599.5 334.28 600.87 341.41 602.24 339.76 603.61 328.67 604.98 324.2 606.35 322.7 607.72 330.03 609.09 332.02 610.46 322.95 611.83 313.3 613.2 308.31 614.57 305.17 615.94 300.51 617.31 297.73 618.68 292.03 620.05 284.21 621.42 274.49 622.79 263.57 624.16 250.76 625.53 240.25 626.9 241.47 628.27 236.22 629.64 228.49 631.01 221.62 632.38 216.37 633.75 212.7 635.12 207.71 636.49 202.81 637.86 197.81 639.23 193.69 640.6 190.5 641.96 188.25 643.33 185.59 644.7 182.3 646.07 179.76 647.44 177.64 648.81 175.85 650.18 174.46 651.43 173.6 653.44 172.58 655.45 171.66 657.46 170.83 659.46 170.07 661.47 169.38 663.48 168.76 665.49 168.19 667.5 167.67 669.51 167.2 671.52 166.76 673.53 166.35 675.54 165.96 677.55 165.59 679.55 165.23 681.56 164.87 683.57 164.51 685.58 164.13 687.59 163.73 689.6 163.31 691.61 162.86 693.62 162.39 695.63 161.93 697.64 161.47 699.64 161.02 701.65 160.57 703.66 160.12 705.67 159.67 707.68 159.23 709.69 158.79 711.7 158.35 713.71 157.92 715.72 157.49 717.73 157.06 719.73 156.64 721.74 156.22 723.75 155.81 725.76 155.4 727.77 154.99 729.78 154.58 731.79 154.18 733.8 153.79 735.81 153.4 737.82 153.01 739.82 152.62 741.83 152.24 743.84 151.87 745.85 151.5 747.86 151.13 749.87 150.77 751.88 150.41 753.89 150.05 755.9 149.7 757.91 149.36 759.91 149.02 761.92 148.68 763.93 148.35 765.94 148.02 767.95 147.7 769.96 147.38 771.97 147.06 773.98 146.75 775.99 146.44 778 146.14 780 145.84 782.01 145.54 784.02 145.25 786.03 144.95 788.04 144.67 790.05 144.38 792.06 144.1 794.07 143.82 796.08 143.55 798.09 143.27 800.09 143 802.1 142.74 804.11 142.47 806.12 142.21 808.13 141.95 810.14 141.69 812.15 141.44 814.16 141.19 816.17 140.94 818.18 140.69 820.18 140.45 822.19 140.2 824.2 139.96 826.21 139.72 828.22 139.49 830.23 139.25 832.24 139.02 834.25 138.79 836.26 138.56 838.27 138.33 840.27 138.1 842.28 137.88 844.29 137.65 846.3 137.43 848.31 137.21 850.32 137 852.33 136.78 854.34 136.57 856.35 136.36 858.36 136.15 860.36 135.94 862.37 135.73 864.38 135.53 866.39 135.33 868.4 135.13 870.41 134.93 872.42 134.74 874.43 134.54 876.44 134.35 878.45 134.17 880.45 133.98 882.46 133.8 884.47 133.62 886.48 133.44 888.49 133.26 890.5 133.09" stroke="#ffff00" stroke-width="7.4" fill="none" stroke-linejoin="round" stroke-linecap="round"/>
<path d="M143.4 558.76 144.77 553.24 146.14 559.94 147.51 571.25 148.88 581.45 150.25 572.1 151.62 562.17 152.99 558.03 154.36 557.11 155.73 552.46 157.1 540.19 158.47 548.08 159.84 559.98 161.21 570.95 162.58 585.15 163.95 570.13 165.31 556.97 166.68 558.64 168.05 562.59 169.42 563.13 170.79 557.69 172.16 555.89 173.53 554.11 174.9 544.32 176.27 538.96 177.64 553.28 179.01 564.8 180.38 560.86 181.75 560.8 183.12 573.42 184.49 579.2 185.86 570.1 187.23 563.18 188.6 562.28 189.97 562.53 191.34 558.45 192.71 557.09 194.08 557.59 195.45 558.79 196.82 567 198.19 571.89 199.56 558.69 200.93 542.29 202.3 542.62 203.67 564.02 205.04 572.52 206.41 566.53 207.78 561.92 209.14 561.42 210.51 556.35 211.88 553.88 213.25 557.34 214.62 553.93 215.99 542.87 217.36 550.03 218.73 556.16 220.1 550.73 221.47 554.26 222.84 557.05 224.21 560.03 225.58 563 226.95 560.69 228.32 557.74 229.69 564.9 231.06 571.56 232.43 567.01 233.8 566.51 235.17 568.82 236.54 559.31 237.91 555.01 239.28 547.59 240.65 540.62 242.02 545.7 243.39 552.26 244.76 559.04 246.13 570.15 247.5 575.59 248.87 568.56 250.24 571.36 251.6 574.8 252.97 555.18 254.34 540.99 255.71 540.32 257.08 545.26 258.45 554.42 259.82 561.13 261.19 558.67 262.56 559.71 263.93 558.18 265.3 550.98 266.67 551.64 268.04 555.02 269.41 553.42 270.78 550.73 272.15 543 273.52 541.63 274.89 553.05 276.26 554.31 277.63 536.89 279 529.6 280.37 550.14 281.74 563.83 283.11 564.04 284.48 554.67 285.85 550.2 287.22 548.93 288.59 548.46 289.96 554.39 291.33 560.3 292.7 553.68 294.07 538.85 295.43 528.9 296.8 535.34 298.17 543.03 299.54 538.59 300.91 536.82 302.28 537.44 303.65 540.9 305.02 546.16 306.39 553.31 307.76 560.49 309.13 556.65 310.5 553.09 311.87 551.91 313.24 542.88 314.61 537.44 315.98 544.72 317.35 553.99 318.72 550.04 320.09 538.15 321.46 527.05 322.83 534.02 324.2 542.34 325.57 546.62 326.94 539.88 328.31 536.99 329.68 539.63 331.05 541.63 332.42 539.46 333.79 530.71 335.16 523.16 336.53 527.4 337.9 532.38 339.26 537.03 340.63 543.49 342 545.75 343.37 541.07 344.74 535.81 346.11 531.53 347.48 523.6 348.85 517.44 350.22 514.89 351.59 522.8 352.96 532.36 354.33 537.33 355.7 537.27 357.07 529.85 358.44 531.48 359.81 530.12 361.18 525.31 362.55 533.46 363.92 538.28 365.29 535.11 366.66 533.34 368.03 529.54 369.4 525.8 370.77 524.04 372.14 524.95 373.51 524.88 374.88 525.31 376.25 521.1 377.62 524.17 378.99 534.79 380.36 534.24 381.72 535.93 383.09 556.92 384.46 562.36 385.83 538.92 387.2 526.64 388.57 522.41 389.94 522.92 391.31 524.8 392.68 526 394.05 527.43 395.42 530.98 396.79 526.79 398.16 521.44 399.53 520.89 400.9 520.68 402.27 522.52 403.64 527.03 405.01 526.91 406.38 522.49 407.75 523.86 409.12 526.86 410.49 530.23 411.86 523.4 413.23 521.43 414.6 530.23 415.97 536.69 417.34 527.97 418.71 523.06 420.08 525.25 421.45 522.85 422.82 517.97 424.19 519.24 425.55 519.59 426.92 516.57 428.29 519.1 429.66 520.18 431.03 517.24 432.4 516.31 433.77 516.3 435.14 518.35 436.51 513.99 437.88 506.13 439.25 507.66 440.62 510.01 441.99 509.25 443.36 509.11 444.73 512.27 446.1 513.62 447.47 510.4 448.84 506.35 450.21 513.56 451.58 515.97 452.95 516.76 454.32 511.44 455.69 508.15 457.06 512.15 458.43 510.6 459.8 517.29 461.17 521.54 462.54 517.93 463.91 515.67 465.28 510.6 466.65 516.48 468.01 540.27 469.38 539.86 470.75 523 472.12 515.35 473.49 519.11 474.86 516.63 476.23 511.35 477.6 512.98 478.97 513.71 480.34 511.64 481.71 501.37 483.08 500.24 484.45 519.27 485.82 539.34 487.19 526.71 488.56 506.62 489.93 502.98 491.3 503.35 492.67 512.43 494.04 513.85 495.41 502.55 496.78 496.98 498.15 501.35 499.52 505.7 500.89 500.1 502.26 496.6 503.63 495.92 505 498.57 506.37 502.46 507.74 508.47 509.11 513.96 510.48 496.76 511.84 484.7 513.21 490.28 514.58 501.88 515.95 501.78 517.32 491.08 518.69 490.95 520.06 491.86 521.43 490.77 522.8 490.79 524.17 485.61 525.54 478.28 526.91 477.51 528.28 471.04 529.65 473.94 531.02 476.48 532.39 471.66 533.76 467.9 535.13 469.02 536.5 475.98 537.87 478.08 539.24 473.13 540.61 479.17 541.98 481.12 543.35 474.6 544.72 471.83 546.09 475.37 547.46 473.97 548.83 464.57 550.2 459.62 551.57 473.78 552.94 484.52 554.31 480.25 555.67 473.04 557.04 473.41 558.41 472.64 559.78 466.12 561.15 463.37 562.52 467.05 563.89 468.53 565.26 472.53 566.63 474.67 568 475.45 569.37 474.32 570.74 465.75 572.11 462.96 573.48 462.88 574.85 459.7 576.22 459.19 577.59 463.26 578.96 464.01 580.33 456.96 581.7 452.2 583.07 457.4 584.44 452.53 585.81 448.27 587.18 455.87 588.55 462.88 589.92 464.9 591.29 457.82 592.66 443.83 594.03 444.97 595.4 452.61 596.77 449.43 598.13 443.46 599.5 444.35 600.87 444.58 602.24 441.19 603.61 443.3 604.98 441.85 606.35 438.86 607.72 439.39 609.09 436.86 610.46 429.96 611.83 418.64 613.2 425.13 614.57 430.7 615.94 438.86 617.31 442.5 618.68 436.87 620.05 433.94 621.42 431.94 622.79 426.64 624.16 415.26 625.53 401.76 626.9 403.06 628.27 410.76 629.64 406.22 631.01 410.98 632.38 424.54 633.75 428.69 635.12 421.46 636.49 413.15 637.86 418.43 639.23 419.05 640.6 413.92 641.96 413.99 643.33 411.13 644.7 405.99 646.07 410.32 647.44 424.06 648.81 416.38 650.18 403.14 651.55 399.26 652.92 392.32 654.29 390.36 655.66 389.73 657.03 393.58 658.4 403.31 659.77 402.54 661.14 393.74 662.51 380.6 663.88 371.77 665.25 368.46 666.62 368.8 667.99 372.93 669.36 366.05 670.73 358.14 672.1 352.54 673.47 346.39 674.84 341.85 676.21 344.03 677.58 345.41 678.95 344.7 680.32 334.89 681.69 330.33 683.06 328.99 684.42 319.1 685.79 309.03 687.16 299.91 688.53 293.29 689.9 287.19 691.27 281.02 692.64 280.92 694.01 279.68 695.38 275.89 696.75 272.45 698.12 268.24 699.49 260.85 700.86 255.35 702.23 252.89 703.6 246.72 704.97 235.62 706.34 226.29 707.71 220.77 709.08 215.01 710.45 209.42 711.82 204.94 713.19 200.31 714.56 196.9 715.93 193.31 717.3 189.53 718.67 185.87 720.04 182.7 721.41 180.33 722.78 178.86 723.65 178.57 725.05 178.57 726.45 178.57 727.85 178.57 729.26 178.57 730.66 178.57 732.06 178.57 733.46 178.57 734.86 178.57 736.27 178.57 737.67 178.57 739.07 178.5 740.47 178.35 741.88 178.12 743.28 177.82 744.68 177.45 746.08 177.02 747.48 176.53 748.89 176 750.29 175.42 751.69 174.8 753.09 174.16 754.49 173.48 755.9 172.79 757.3 172.09 758.7 171.38 760.1 170.67 761.5 169.96 762.91 169.27 764.31 168.59 765.71 167.93 767.11 167.31 768.52 166.71 769.92 166.16 771.32 165.66 772.72 165.21 774.12 164.81 775.53 164.41 776.93 164.02 778.33 163.64 779.73 163.26 781.13 162.89 782.54 162.53 783.94 162.17 785.34 161.81 786.74 161.46 788.15 161.12 789.55 160.78 790.95 160.44 792.35 160.11 793.75 159.78 795.16 159.46 796.56 159.14 797.96 158.82 799.36 158.51 800.76 158.21 802.17 157.9 803.57 157.6 804.97 157.31 806.37 157.01 807.77 156.72 809.18 156.43 810.58 156.15 811.98 155.87 813.38 155.59 814.79 155.31 816.19 155.04 817.59 154.77 818.99 154.5 820.39 154.23 821.8 153.96 823.2 153.7 824.6 153.43 826 153.17 827.4 152.91 828.81 152.65 830.21 152.4 831.61 152.14 833.01 151.88 834.42 151.63 835.82 151.38 837.22 151.13 838.62 150.88 840.02 150.63 841.43 150.39 842.83 150.14 844.23 149.9 845.63 149.66 847.03 149.42 848.44 149.18 849.84 148.95 851.24 148.71 852.64 148.48 854.04 148.25 855.45 148.02 856.85 147.8 858.25 147.57 859.65 147.35 861.06 147.13 862.46 146.91 863.86 146.7 865.26 146.48 866.66 146.27 868.07 146.06 869.47 145.85 870.87 145.65 872.27 145.45 873.67 145.25 875.08 145.05 876.48 144.85 877.88 144.66 879.28 144.47 880.69 144.28 882.09 144.1 883.49 143.91 884.89 143.73 886.29 143.56 887.7 143.38 889.1 143.21 890.5 143.04" stroke="#ffaa00" stroke-width="7.4" fill="none" stroke-linejoin="round" stroke-linecap="round"/>
<text x="143.4" y="665.8" text-anchor="middle" font-size="33" class="t">-19</text>
<text x="267.92" y="665.8" text-anchor="middle" font-size="33" class="t">-18.5</text>
<text x="392.43" y="665.8" text-anchor="middle" font-size="33" class="t">-18</text>
<text x="516.95" y="665.8" text-anchor="middle" font-size="33" class="t">-17.5</text>
<text x="641.47" y="665.8" text-anchor="middle" font-size="33" class="t">-17</text>
<text x="765.98" y="665.8" text-anchor="middle" font-size="33" class="t">-16.5</text>
<text x="890.5" y="665.8" text-anchor="middle" font-size="33" class="t">-16</text>
<text x="132.2" y="65.31" text-anchor="end" font-size="33" class="t">-20</text>
<text x="132.2" y="207.44" text-anchor="end" font-size="33" class="t">-40</text>
<text x="132.2" y="349.56" text-anchor="end" font-size="33" class="t">-60</text>
<text x="132.2" y="491.69" text-anchor="end" font-size="33" class="t">-80</text>
<text x="132.2" y="633.81" text-anchor="end" font-size="33" class="t">-100</text>
<path d="M694 318.5H764.3" stroke="#0000ff" stroke-width="7.7"/>
<text x="769.2" y="330.41" font-size="28.7" class="k">25.0 &#176;C</text>
<path d="M694 356.19H764.3" stroke="#0050ff" stroke-width="7.7"/>
<text x="769.2" y="368.1" font-size="28.7" class="k">30.0 &#176;C</text>
<path d="M694 393.88H764.3" stroke="#00aaff" stroke-width="7.7"/>
<text x="769.2" y="405.79" font-size="28.7" class="k">35.0 &#176;C</text>
<path d="M694 431.57H764.3" stroke="#00ffff" stroke-width="7.7"/>
<text x="769.2" y="443.48" font-size="28.7" class="k">40.0 &#176;C</text>
<path d="M694 469.26H764.3" stroke="#55ffaa" stroke-width="7.7"/>
<text x="769.2" y="481.17" font-size="28.7" class="k">45.0 &#176;C</text>
<path d="M694 506.95H764.3" stroke="#aaff55" stroke-width="7.7"/>
<text x="769.2" y="518.86" font-size="28.7" class="k">50.0 &#176;C</text>
<path d="M694 544.64H764.3" stroke="#ffff00" stroke-width="7.7"/>
<text x="769.2" y="556.55" font-size="28.7" class="k">55.0 &#176;C</text>
<path d="M694 582.33H764.3" stroke="#ffaa00" stroke-width="7.7"/>
<text x="769.2" y="594.24" font-size="28.7" class="k">60.0 &#176;C</text>
<path d="M131 865.5V1444.5M239.47 865.5V1444.5M347.94 865.5V1444.5M456.41 865.5V1444.5M564.89 865.5V1444.5M673.36 865.5V1444.5M781.83 865.5V1444.5M890.3 865.5V1444.5M131 865.5H890.3M131 981.3H890.3M131 1097.1H890.3M131 1212.9H890.3M131 1328.7H890.3M131 1444.5H890.3" stroke="#d9d9d9" stroke-width="2.5" fill="none"/>
<path d="M131 1444.5v-9M131 865.5v9M239.47 1444.5v-9M239.47 865.5v9M347.94 1444.5v-9M347.94 865.5v9M456.41 1444.5v-9M456.41 865.5v9M564.89 1444.5v-9M564.89 865.5v9M673.36 1444.5v-9M673.36 865.5v9M781.83 1444.5v-9M781.83 865.5v9M890.3 1444.5v-9M890.3 865.5v9M131 865.5h9M890.3 865.5h-9M131 981.3h9M890.3 981.3h-9M131 1097.1h9M890.3 1097.1h-9M131 1212.9h9M890.3 1212.9h-9M131 1328.7h9M890.3 1328.7h-9M131 1444.5h9M890.3 1444.5h-9" stroke="#262626" stroke-width="2.7" fill="none"/>
<rect x="131" y="865.5" width="759.3" height="579" stroke="#262626" stroke-width="2.7" fill="none"/>
<path d="M131 865.5 185.24 868.39 239.47 871.52 293.71 872.8 347.94 875.23 402.18 876.85 456.41 878.93 510.65 885.19 564.89 888.66 619.12 895.61 673.36 903.37 727.59 912.75 781.83 925.48 836.06 972.15 890.3 1101.96" stroke="#0072bd" stroke-width="5" fill="none" stroke-linejoin="round" stroke-linecap="butt" stroke-dasharray="14.5 14"/>
<g fill="#0072bd"><circle cx="131" cy="865.5" r="14"/><circle cx="185.24" cy="868.39" r="14"/><circle cx="239.47" cy="871.52" r="14"/><circle cx="293.71" cy="872.8" r="14"/><circle cx="347.94" cy="875.23" r="14"/><circle cx="402.18" cy="876.85" r="14"/><circle cx="456.41" cy="878.93" r="14"/><circle cx="510.65" cy="885.19" r="14"/><circle cx="564.89" cy="888.66" r="14"/><circle cx="619.12" cy="895.61" r="14"/><circle cx="673.36" cy="903.37" r="14"/><circle cx="727.59" cy="912.75" r="14"/><circle cx="781.83" cy="925.48" r="14"/><circle cx="836.06" cy="972.15" r="14"/><circle cx="890.3" cy="1101.96" r="14"/></g>
<path d="M131 865.5 185.24 868.63 239.47 871.87 293.71 873.61 347.94 876.5 402.18 878.24 456.41 881.13 510.65 887.5 564.89 892.13 619.12 899.78 673.36 914.02 727.59 928.96 781.83 1000.87 836.06 1159.28 890.3 1290.6" stroke="#d95319" stroke-width="5" fill="none" stroke-linejoin="round" stroke-linecap="butt" stroke-dasharray="14.5 14"/>
<g fill="#d95319"><circle cx="131" cy="865.5" r="14"/><circle cx="185.24" cy="868.63" r="14"/><circle cx="239.47" cy="871.87" r="14"/><circle cx="293.71" cy="873.61" r="14"/><circle cx="347.94" cy="876.5" r="14"/><circle cx="402.18" cy="878.24" r="14"/><circle cx="456.41" cy="881.13" r="14"/><circle cx="510.65" cy="887.5" r="14"/><circle cx="564.89" cy="892.13" r="14"/><circle cx="619.12" cy="899.78" r="14"/><circle cx="673.36" cy="914.02" r="14"/><circle cx="727.59" cy="928.96" r="14"/><circle cx="781.83" cy="1000.87" r="14"/><circle cx="836.06" cy="1159.28" r="14"/><circle cx="890.3" cy="1290.6" r="14"/></g>
<path d="M131 865.5 185.24 868.74 239.47 872.1 293.71 874.18 347.94 877.08 402.18 879.4 456.41 882.87 510.65 889.82 564.89 899.78 619.12 914.83 673.36 959.07 727.59 1058.08 781.83 1201.9 836.06 1317.35 890.3 1375.95" stroke="#edb120" stroke-width="5" fill="none" stroke-linejoin="round" stroke-linecap="butt" stroke-dasharray="14.5 14"/>
<g fill="#edb120"><circle cx="131" cy="865.5" r="14"/><circle cx="185.24" cy="868.74" r="14"/><circle cx="239.47" cy="872.1" r="14"/><circle cx="293.71" cy="874.18" r="14"/><circle cx="347.94" cy="877.08" r="14"/><circle cx="402.18" cy="879.4" r="14"/><circle cx="456.41" cy="882.87" r="14"/><circle cx="510.65" cy="889.82" r="14"/><circle cx="564.89" cy="899.78" r="14"/><circle cx="619.12" cy="914.83" r="14"/><circle cx="673.36" cy="959.07" r="14"/><circle cx="727.59" cy="1058.08" r="14"/><circle cx="781.83" cy="1201.9" r="14"/><circle cx="836.06" cy="1317.35" r="14"/><circle cx="890.3" cy="1375.95" r="14"/></g>
<path d="M131 865.5 185.24 868.97 239.47 872.45 293.71 877.54 347.94 880.79 402.18 882.06 456.41 892.25 510.65 901.05 564.89 924.67 619.12 1016.04 673.36 1138.09 727.59 1249.49 781.83 1316.31 836.06 1374.9 890.3 1403.97" stroke="#7e2f8e" stroke-width="5" fill="none" stroke-linejoin="round" stroke-linecap="butt" stroke-dasharray="14.5 14"/>
<g fill="#7e2f8e"><circle cx="131" cy="865.5" r="14"/><circle cx="185.24" cy="868.97" r="14"/><circle cx="239.47" cy="872.45" r="14"/><circle cx="293.71" cy="877.54" r="14"/><circle cx="347.94" cy="880.79" r="14"/><circle cx="402.18" cy="882.06" r="14"/><circle cx="456.41" cy="892.25" r="14"/><circle cx="510.65" cy="901.05" r="14"/><circle cx="564.89" cy="924.67" r="14"/><circle cx="619.12" cy="1016.04" r="14"/><circle cx="673.36" cy="1138.09" r="14"/><circle cx="727.59" cy="1249.49" r="14"/><circle cx="781.83" cy="1316.31" r="14"/><circle cx="836.06" cy="1374.9" r="14"/><circle cx="890.3" cy="1403.97" r="14"/></g>
<path d="M131 865.5 185.24 868.16 239.47 872.68 293.71 878.24 347.94 884.72 402.18 891.09 456.41 931.04 510.65 997.86 564.89 1075.56 619.12 1205.95 673.36 1277.4 727.59 1328.58 781.83 1366.68 836.06 1399.34 890.3 1421.11" stroke="#77ac30" stroke-width="5" fill="none" stroke-linejoin="round" stroke-linecap="butt" stroke-dasharray="14.5 14"/>
<g fill="#77ac30"><circle cx="131" cy="865.5" r="14"/><circle cx="185.24" cy="868.16" r="14"/><circle cx="239.47" cy="872.68" r="14"/><circle cx="293.71" cy="878.24" r="14"/><circle cx="347.94" cy="884.72" r="14"/><circle cx="402.18" cy="891.09" r="14"/><circle cx="456.41" cy="931.04" r="14"/><circle cx="510.65" cy="997.86" r="14"/><circle cx="564.89" cy="1075.56" r="14"/><circle cx="619.12" cy="1205.95" r="14"/><circle cx="673.36" cy="1277.4" r="14"/><circle cx="727.59" cy="1328.58" r="14"/><circle cx="781.83" cy="1366.68" r="14"/><circle cx="836.06" cy="1399.34" r="14"/><circle cx="890.3" cy="1421.11" r="14"/></g>
<path d="M131 865.5 185.24 874.88 239.47 895.84 293.71 916.8 347.94 957.56 402.18 1003.07 456.41 1086.21 510.65 1168.9 564.89 1224.48 619.12 1281.22 673.36 1314.8 727.59 1352.44 781.83 1373.4 836.06 1400.38 890.3 1405.36" stroke="#4dbeee" stroke-width="5" fill="none" stroke-linejoin="round" stroke-linecap="butt" stroke-dasharray="14.5 14"/>
<g fill="#4dbeee"><circle cx="131" cy="865.5" r="14"/><circle cx="185.24" cy="874.88" r="14"/><circle cx="239.47" cy="895.84" r="14"/><circle cx="293.71" cy="916.8" r="14"/><circle cx="347.94" cy="957.56" r="14"/><circle cx="402.18" cy="1003.07" r="14"/><circle cx="456.41" cy="1086.21" r="14"/><circle cx="510.65" cy="1168.9" r="14"/><circle cx="564.89" cy="1224.48" r="14"/><circle cx="619.12" cy="1281.22" r="14"/><circle cx="673.36" cy="1314.8" r="14"/><circle cx="727.59" cy="1352.44" r="14"/><circle cx="781.83" cy="1373.4" r="14"/><circle cx="836.06" cy="1400.38" r="14"/><circle cx="890.3" cy="1405.36" r="14"/></g>
<path d="M1226.3 867.3V1444.7M1334.77 867.3V1444.7M1443.24 867.3V1444.7M1551.71 867.3V1444.7M1660.19 867.3V1444.7M1768.66 867.3V1444.7M1877.13 867.3V1444.7M1985.6 867.3V1444.7M1226.3 867.3H1985.6M1226.3 982.78H1985.6M1226.3 1098.26H1985.6M1226.3 1213.74H1985.6M1226.3 1329.22H1985.6M1226.3 1444.7H1985.6" stroke="#d9d9d9" stroke-width="2.5" fill="none"/>
<path d="M1226.3 1444.7v-9M1226.3 867.3v9M1334.77 1444.7v-9M1334.77 867.3v9M1443.24 1444.7v-9M1443.24 867.3v9M1551.71 1444.7v-9M1551.71 867.3v9M1660.19 1444.7v-9M1660.19 867.3v9M1768.66 1444.7v-9M1768.66 867.3v9M1877.13 1444.7v-9M1877.13 867.3v9M1985.6 1444.7v-9M1985.6 867.3v9M1226.3 867.3h9M1985.6 867.3h-9M1226.3 982.78h9M1985.6 982.78h-9M1226.3 1098.26h9M1985.6 1098.26h-9M1226.3 1213.74h9M1985.6 1213.74h-9M1226.3 1329.22h9M1985.6 1329.22h-9M1226.3 1444.7h9M1985.6 1444.7h-9" stroke="#262626" stroke-width="2.7" fill="none"/>
<rect x="1226.3" y="867.3" width="759.3" height="577.4" stroke="#262626" stroke-width="2.7" fill="none"/>
<path d="M1226.3 867.3 1280.54 868.45 1334.77 869.61 1389.01 870.65 1443.24 872.61 1497.48 875.61 1551.71 879.31 1605.95 882.31 1660.19 885.55 1714.42 891.67 1768.66 900.44 1822.89 913.15 1877.13 930.81 1931.36 957.26 1985.6 1041.33" stroke="#0072bd" stroke-width="5" fill="none" stroke-linejoin="round" stroke-linecap="butt" stroke-dasharray="14.5 14"/>
<path fill="#0072bd" d="M1226.3 850.7L1238.9 867.3L1226.3 883.9L1213.7 867.3ZM1280.54 851.85L1293.14 868.45L1280.54 885.05L1267.94 868.45ZM1334.77 853.01L1347.37 869.61L1334.77 886.21L1322.17 869.61ZM1389.01 854.05L1401.61 870.65L1389.01 887.25L1376.41 870.65ZM1443.24 856.01L1455.84 872.61L1443.24 889.21L1430.64 872.61ZM1497.48 859.01L1510.08 875.61L1497.48 892.21L1484.88 875.61ZM1551.71 862.71L1564.31 879.31L1551.71 895.91L1539.11 879.31ZM1605.95 865.71L1618.55 882.31L1605.95 898.91L1593.35 882.31ZM1660.19 868.95L1672.79 885.55L1660.19 902.15L1647.59 885.55ZM1714.42 875.07L1727.02 891.67L1714.42 908.27L1701.82 891.67ZM1768.66 883.84L1781.26 900.44L1768.66 917.04L1756.06 900.44ZM1822.89 896.55L1835.49 913.15L1822.89 929.75L1810.29 913.15ZM1877.13 914.21L1889.73 930.81L1877.13 947.41L1864.53 930.81ZM1931.36 940.66L1943.96 957.26L1931.36 973.86L1918.76 957.26ZM1985.6 1024.73L1998.2 1041.33L1985.6 1057.93L1973 1041.33Z"/>
<path d="M1226.3 867.3 1280.54 868.45 1334.77 869.84 1389.01 871 1443.24 873.07 1497.48 876.54 1551.71 881.16 1605.95 885.2 1660.19 889.24 1714.42 898.02 1768.66 916.96 1822.89 937.05 1877.13 968.58 1931.36 1117.78 1985.6 1320.91" stroke="#d95319" stroke-width="5" fill="none" stroke-linejoin="round" stroke-linecap="butt" stroke-dasharray="14.5 14"/>
<path fill="#d95319" d="M1226.3 850.7L1238.9 867.3L1226.3 883.9L1213.7 867.3ZM1280.54 851.85L1293.14 868.45L1280.54 885.05L1267.94 868.45ZM1334.77 853.24L1347.37 869.84L1334.77 886.44L1322.17 869.84ZM1389.01 854.4L1401.61 871L1389.01 887.6L1376.41 871ZM1443.24 856.47L1455.84 873.07L1443.24 889.67L1430.64 873.07ZM1497.48 859.94L1510.08 876.54L1497.48 893.14L1484.88 876.54ZM1551.71 864.56L1564.31 881.16L1551.71 897.76L1539.11 881.16ZM1605.95 868.6L1618.55 885.2L1605.95 901.8L1593.35 885.2ZM1660.19 872.64L1672.79 889.24L1660.19 905.84L1647.59 889.24ZM1714.42 881.42L1727.02 898.02L1714.42 914.62L1701.82 898.02ZM1768.66 900.36L1781.26 916.96L1768.66 933.56L1756.06 916.96ZM1822.89 920.45L1835.49 937.05L1822.89 953.65L1810.29 937.05ZM1877.13 951.98L1889.73 968.58L1877.13 985.18L1864.53 968.58ZM1931.36 1101.18L1943.96 1117.78L1931.36 1134.38L1918.76 1117.78ZM1985.6 1304.31L1998.2 1320.91L1985.6 1337.51L1973 1320.91Z"/>
<path d="M1226.3 867.3 1280.54 868.69 1334.77 870.19 1389.01 871.46 1443.24 873.77 1497.48 877.69 1551.71 884.62 1605.95 889.24 1660.19 896.75 1714.42 918.92 1768.66 945.94 1822.89 1014.54 1877.13 1227.6 1931.36 1328.07 1985.6 1384.07" stroke="#edb120" stroke-width="5" fill="none" stroke-linejoin="round" stroke-linecap="butt" stroke-dasharray="14.5 14"/>
<path fill="#edb120" d="M1226.3 850.7L1238.9 867.3L1226.3 883.9L1213.7 867.3ZM1280.54 852.09L1293.14 868.69L1280.54 885.29L1267.94 868.69ZM1334.77 853.59L1347.37 870.19L1334.77 886.79L1322.17 870.19ZM1389.01 854.86L1401.61 871.46L1389.01 888.06L1376.41 871.46ZM1443.24 857.17L1455.84 873.77L1443.24 890.37L1430.64 873.77ZM1497.48 861.09L1510.08 877.69L1497.48 894.29L1484.88 877.69ZM1551.71 868.02L1564.31 884.62L1551.71 901.22L1539.11 884.62ZM1605.95 872.64L1618.55 889.24L1605.95 905.84L1593.35 889.24ZM1660.19 880.15L1672.79 896.75L1660.19 913.35L1647.59 896.75ZM1714.42 902.32L1727.02 918.92L1714.42 935.52L1701.82 918.92ZM1768.66 929.34L1781.26 945.94L1768.66 962.54L1756.06 945.94ZM1822.89 997.94L1835.49 1014.54L1822.89 1031.14L1810.29 1014.54ZM1877.13 1211L1889.73 1227.6L1877.13 1244.2L1864.53 1227.6ZM1931.36 1311.47L1943.96 1328.07L1931.36 1344.67L1918.76 1328.07ZM1985.6 1367.47L1998.2 1384.07L1985.6 1400.67L1973 1384.07Z"/>
<path d="M1226.3 867.3 1280.54 868.8 1334.77 870.53 1389.01 872.15 1443.24 874.92 1497.48 879.89 1551.71 892.94 1605.95 904.25 1660.19 918.23 1714.42 969.85 1768.66 1159 1822.89 1283.84 1877.13 1335.34 1931.36 1377.26 1985.6 1410.52" stroke="#7e2f8e" stroke-width="5" fill="none" stroke-linejoin="round" stroke-linecap="butt" stroke-dasharray="14.5 14"/>
<path fill="#7e2f8e" d="M1226.3 850.7L1238.9 867.3L1226.3 883.9L1213.7 867.3ZM1280.54 852.2L1293.14 868.8L1280.54 885.4L1267.94 868.8ZM1334.77 853.93L1347.37 870.53L1334.77 887.13L1322.17 870.53ZM1389.01 855.55L1401.61 872.15L1389.01 888.75L1376.41 872.15ZM1443.24 858.32L1455.84 874.92L1443.24 891.52L1430.64 874.92ZM1497.48 863.29L1510.08 879.89L1497.48 896.49L1484.88 879.89ZM1551.71 876.34L1564.31 892.94L1551.71 909.54L1539.11 892.94ZM1605.95 887.65L1618.55 904.25L1605.95 920.85L1593.35 904.25ZM1660.19 901.63L1672.79 918.23L1660.19 934.83L1647.59 918.23ZM1714.42 953.25L1727.02 969.85L1714.42 986.45L1701.82 969.85ZM1768.66 1142.4L1781.26 1159L1768.66 1175.6L1756.06 1159ZM1822.89 1267.24L1835.49 1283.84L1822.89 1300.44L1810.29 1283.84ZM1877.13 1318.74L1889.73 1335.34L1877.13 1351.94L1864.53 1335.34ZM1931.36 1360.66L1943.96 1377.26L1931.36 1393.86L1918.76 1377.26ZM1985.6 1393.92L1998.2 1410.52L1985.6 1427.12L1973 1410.52Z"/>
<path d="M1226.3 867.3 1280.54 869.03 1334.77 871.11 1389.01 872.84 1443.24 882.89 1497.48 898.36 1551.71 917.65 1605.95 947.21 1660.19 1015.35 1714.42 1236.37 1768.66 1297.46 1822.89 1339.84 1877.13 1367.56 1931.36 1395.39 1985.6 1421.83" stroke="#77ac30" stroke-width="5" fill="none" stroke-linejoin="round" stroke-linecap="butt" stroke-dasharray="14.5 14"/>
<path fill="#77ac30" d="M1226.3 850.7L1238.9 867.3L1226.3 883.9L1213.7 867.3ZM1280.54 852.43L1293.14 869.03L1280.54 885.63L1267.94 869.03ZM1334.77 854.51L1347.37 871.11L1334.77 887.71L1322.17 871.11ZM1389.01 856.24L1401.61 872.84L1389.01 889.44L1376.41 872.84ZM1443.24 866.29L1455.84 882.89L1443.24 899.49L1430.64 882.89ZM1497.48 881.76L1510.08 898.36L1497.48 914.96L1484.88 898.36ZM1551.71 901.05L1564.31 917.65L1551.71 934.25L1539.11 917.65ZM1605.95 930.61L1618.55 947.21L1605.95 963.81L1593.35 947.21ZM1660.19 998.75L1672.79 1015.35L1660.19 1031.95L1647.59 1015.35ZM1714.42 1219.77L1727.02 1236.37L1714.42 1252.97L1701.82 1236.37ZM1768.66 1280.86L1781.26 1297.46L1768.66 1314.06L1756.06 1297.46ZM1822.89 1323.24L1835.49 1339.84L1822.89 1356.44L1810.29 1339.84ZM1877.13 1350.96L1889.73 1367.56L1877.13 1384.16L1864.53 1367.56ZM1931.36 1378.79L1943.96 1395.39L1931.36 1411.99L1918.76 1395.39ZM1985.6 1405.23L1998.2 1421.83L1985.6 1438.43L1973 1421.83Z"/>
<path d="M1226.3 867.3 1280.54 868.45 1334.77 878.5 1389.01 887.86 1443.24 912.8 1497.48 988.21 1551.71 1126.67 1605.95 1194.22 1660.19 1234.41 1714.42 1289.96 1768.66 1320.21 1822.89 1345.62 1877.13 1365.13 1931.36 1385.23 1985.6 1403.47" stroke="#4dbeee" stroke-width="5" fill="none" stroke-linejoin="round" stroke-linecap="butt" stroke-dasharray="14.5 14"/>
<path fill="#4dbeee" d="M1226.3 850.7L1238.9 867.3L1226.3 883.9L1213.7 867.3ZM1280.54 851.85L1293.14 868.45L1280.54 885.05L1267.94 868.45ZM1334.77 861.9L1347.37 878.5L1334.77 895.1L1322.17 878.5ZM1389.01 871.26L1401.61 887.86L1389.01 904.46L1376.41 887.86ZM1443.24 896.2L1455.84 912.8L1443.24 929.4L1430.64 912.8ZM1497.48 971.61L1510.08 988.21L1497.48 1004.81L1484.88 988.21ZM1551.71 1110.07L1564.31 1126.67L1551.71 1143.27L1539.11 1126.67ZM1605.95 1177.62L1618.55 1194.22L1605.95 1210.82L1593.35 1194.22ZM1660.19 1217.81L1672.79 1234.41L1660.19 1251.01L1647.59 1234.41ZM1714.42 1273.36L1727.02 1289.96L1714.42 1306.56L1701.82 1289.96ZM1768.66 1303.61L1781.26 1320.21L1768.66 1336.81L1756.06 1320.21ZM1822.89 1329.02L1835.49 1345.62L1822.89 1362.22L1810.29 1345.62ZM1877.13 1348.53L1889.73 1365.13L1877.13 1381.73L1864.53 1365.13ZM1931.36 1368.63L1943.96 1385.23L1931.36 1401.83L1918.76 1385.23ZM1985.6 1386.87L1998.2 1403.47L1985.6 1420.07L1973 1403.47Z"/>
<text x="131" y="1488.2" text-anchor="middle" font-size="33" class="t">25</text>
<text x="239.47" y="1488.2" text-anchor="middle" font-size="33" class="t">30</text>
<text x="347.94" y="1488.2" text-anchor="middle" font-size="33" class="t">35</text>
<text x="456.41" y="1488.2" text-anchor="middle" font-size="33" class="t">40</text>
<text x="564.89" y="1488.2" text-anchor="middle" font-size="33" class="t">45</text>
<text x="673.36" y="1488.2" text-anchor="middle" font-size="33" class="t">50</text>
<text x="781.83" y="1488.2" text-anchor="middle" font-size="33" class="t">55</text>
<text x="890.3" y="1488.2" text-anchor="middle" font-size="33" class="t">60</text>
<text x="119.3" y="877.31" text-anchor="end" font-size="33" class="t">0</text>
<text x="119.3" y="993.11" text-anchor="end" font-size="33" class="t">-10</text>
<text x="119.3" y="1108.91" text-anchor="end" font-size="33" class="t">-20</text>
<text x="119.3" y="1224.71" text-anchor="end" font-size="33" class="t">-30</text>
<text x="119.3" y="1340.51" text-anchor="end" font-size="33" class="t">-40</text>
<text x="119.3" y="1456.31" text-anchor="end" font-size="33" class="t">-50</text>
<text x="1226.3" y="1488.2" text-anchor="middle" font-size="33" class="t">25</text>
<text x="1334.77" y="1488.2" text-anchor="middle" font-size="33" class="t">30</text>
<text x="1443.24" y="1488.2" text-anchor="middle" font-size="33" class="t">35</text>
<text x="1551.71" y="1488.2" text-anchor="middle" font-size="33" class="t">40</text>
<text x="1660.19" y="1488.2" text-anchor="middle" font-size="33" class="t">45</text>
<text x="1768.66" y="1488.2" text-anchor="middle" font-size="33" class="t">50</text>
<text x="1877.13" y="1488.2" text-anchor="middle" font-size="33" class="t">55</text>
<text x="1985.6" y="1488.2" text-anchor="middle" font-size="33" class="t">60</text>
<text x="1214.3" y="879.11" text-anchor="end" font-size="33" class="t">0</text>
<text x="1214.3" y="994.59" text-anchor="end" font-size="33" class="t">-10</text>
<text x="1214.3" y="1110.07" text-anchor="end" font-size="33" class="t">-20</text>
<text x="1214.3" y="1225.55" text-anchor="end" font-size="33" class="t">-30</text>
<text x="1214.3" y="1341.03" text-anchor="end" font-size="33" class="t">-40</text>
<text x="1214.3" y="1456.51" text-anchor="end" font-size="33" class="t">-50</text>
<circle cx="192.4" cy="1149.1" r="14.3" fill="#0072bd"/>
<text x="232.5" y="1154.8" font-size="28.6" class="k">P</text>
<text x="251.6" y="1168.5" font-size="22.3" class="k">in</text>
<text x="288.4" y="1154.8" font-size="28.1" class="k">= -16.8 dBm</text>
<circle cx="192.4" cy="1199.1" r="14.3" fill="#d95319"/>
<text x="232.5" y="1204.8" font-size="28.6" class="k">P</text>
<text x="251.6" y="1218.5" font-size="22.3" class="k">in</text>
<text x="288.4" y="1204.8" font-size="28.1" class="k">= -17.0 dBm</text>
<circle cx="192.4" cy="1249.1" r="14.3" fill="#edb120"/>
<text x="232.5" y="1254.8" font-size="28.6" class="k">P</text>
<text x="251.6" y="1268.5" font-size="22.3" class="k">in</text>
<text x="288.4" y="1254.8" font-size="28.1" class="k">= -17.2 dBm</text>
<circle cx="192.4" cy="1299.1" r="14.3" fill="#7e2f8e"/>
<text x="232.5" y="1304.8" font-size="28.6" class="k">P</text>
<text x="251.6" y="1318.5" font-size="22.3" class="k">in</text>
<text x="288.4" y="1304.8" font-size="28.1" class="k">= -17.4 dBm</text>
<circle cx="192.4" cy="1349.1" r="14.3" fill="#77ac30"/>
<text x="232.5" y="1354.8" font-size="28.6" class="k">P</text>
<text x="251.6" y="1368.5" font-size="22.3" class="k">in</text>
<text x="288.4" y="1354.8" font-size="28.1" class="k">= -17.6 dBm</text>
<circle cx="192.4" cy="1399.1" r="14.3" fill="#4dbeee"/>
<text x="232.5" y="1404.8" font-size="28.6" class="k">P</text>
<text x="251.6" y="1418.5" font-size="22.3" class="k">in</text>
<text x="288.4" y="1404.8" font-size="28.1" class="k">= -17.8 dBm</text>
<path fill="#0072bd" d="M1287.4 1132.4L1299.8 1148.7L1287.4 1165L1275 1148.7Z"/>
<text x="1327.6" y="1154.4" font-size="28.6" class="k">P</text>
<text x="1346.7" y="1168.1" font-size="22.3" class="k">in</text>
<text x="1383.5" y="1154.4" font-size="28.1" class="k">= -16.8 dBm</text>
<path fill="#d95319" d="M1287.4 1182.12L1299.8 1198.42L1287.4 1214.72L1275 1198.42Z"/>
<text x="1327.6" y="1204.12" font-size="28.6" class="k">P</text>
<text x="1346.7" y="1217.82" font-size="22.3" class="k">in</text>
<text x="1383.5" y="1204.12" font-size="28.1" class="k">= -17.0 dBm</text>
<path fill="#edb120" d="M1287.4 1231.84L1299.8 1248.14L1287.4 1264.44L1275 1248.14Z"/>
<text x="1327.6" y="1253.84" font-size="28.6" class="k">P</text>
<text x="1346.7" y="1267.54" font-size="22.3" class="k">in</text>
<text x="1383.5" y="1253.84" font-size="28.1" class="k">= -17.2 dBm</text>
<path fill="#7e2f8e" d="M1287.4 1281.56L1299.8 1297.86L1287.4 1314.16L1275 1297.86Z"/>
<text x="1327.6" y="1303.56" font-size="28.6" class="k">P</text>
<text x="1346.7" y="1317.26" font-size="22.3" class="k">in</text>
<text x="1383.5" y="1303.56" font-size="28.1" class="k">= -17.4 dBm</text>
<path fill="#77ac30" d="M1287.4 1331.28L1299.8 1347.58L1287.4 1363.88L1275 1347.58Z"/>
<text x="1327.6" y="1353.28" font-size="28.6" class="k">P</text>
<text x="1346.7" y="1366.98" font-size="22.3" class="k">in</text>
<text x="1383.5" y="1353.28" font-size="28.1" class="k">= -17.6 dBm</text>
<path fill="#4dbeee" d="M1287.4 1381L1299.8 1397.3L1287.4 1413.6L1275 1397.3Z"/>
<text x="1327.6" y="1403" font-size="28.6" class="k">P</text>
<text x="1346.7" y="1416.7" font-size="22.3" class="k">in</text>
<text x="1383.5" y="1403" font-size="28.1" class="k">= -17.8 dBm</text>
<text x="445" y="711.5" font-size="33" class="t" font-style="italic">P</text>
<text x="468" y="727" font-size="26" class="t">in</text>
<text x="502" y="711.5" font-size="33" class="t">(dBm)</text>
<text x="1534" y="709.7" font-size="36" class="t" font-style="italic">P</text>
<text x="1559.5" y="727" font-size="28.5" class="t">in</text>
<text x="1596" y="709.7" font-size="36" class="t">(dBm)</text>
<text transform="translate(36.9 418) rotate(-90)" font-size="33" class="t" font-style="italic">P</text>
<text transform="translate(53 395) rotate(-90)" font-size="26" class="t">out</text>
<text transform="translate(36.9 344) rotate(-90)" font-size="33" class="t">(dBm)</text>
<text transform="translate(1135.3 423.5) rotate(-90)" font-size="36" class="t" font-style="italic">P</text>
<text transform="translate(1153.4 398.5) rotate(-90)" font-size="28.5" class="t">out</text>
<text transform="translate(1135.3 343.5) rotate(-90)" font-size="36" class="t">(dBm)</text>
<text transform="translate(42 1225.8) rotate(-90)" font-size="36" class="t" font-style="italic">P</text>
<text transform="translate(60.2 1201.3) rotate(-90)" font-size="28.5" class="t">out</text>
<text transform="translate(42 1145.8) rotate(-90)" font-size="36" class="t">(dB)</text>
<text transform="translate(1137 1227) rotate(-90)" font-size="36" class="t" font-style="italic">P</text>
<text transform="translate(1155.2 1202.5) rotate(-90)" font-size="28.5" class="t">out</text>
<text transform="translate(1137 1147) rotate(-90)" font-size="36" class="t">(dB)</text>
<text transform="translate(24.3 1216.2) rotate(-90) scale(1 1.12)" font-size="31.5" class="k" stroke="#000" stroke-width="1.2" style="font-weight:normal">^</text>
<text transform="translate(1119.2 1217.2) rotate(-90) scale(1 1.12)" font-size="31.5" class="k" stroke="#000" stroke-width="1.2" style="font-weight:normal">^</text>
<text x="365" y="1537.7" font-size="36" class="t">Temperature (&#176;C)</text>
<text x="1460" y="1537.7" font-size="36" class="t">Temperature (&#176;C)</text>
<text x="3" y="42" font-size="54" class="s">a</text>
<text x="1080.5" y="38" font-size="51" class="s">b</text>
<text x="5" y="827" font-size="54" class="s">c</text>
<text x="1069.5" y="835.5" font-size="51" class="s">d</text>
</svg></body></html>
